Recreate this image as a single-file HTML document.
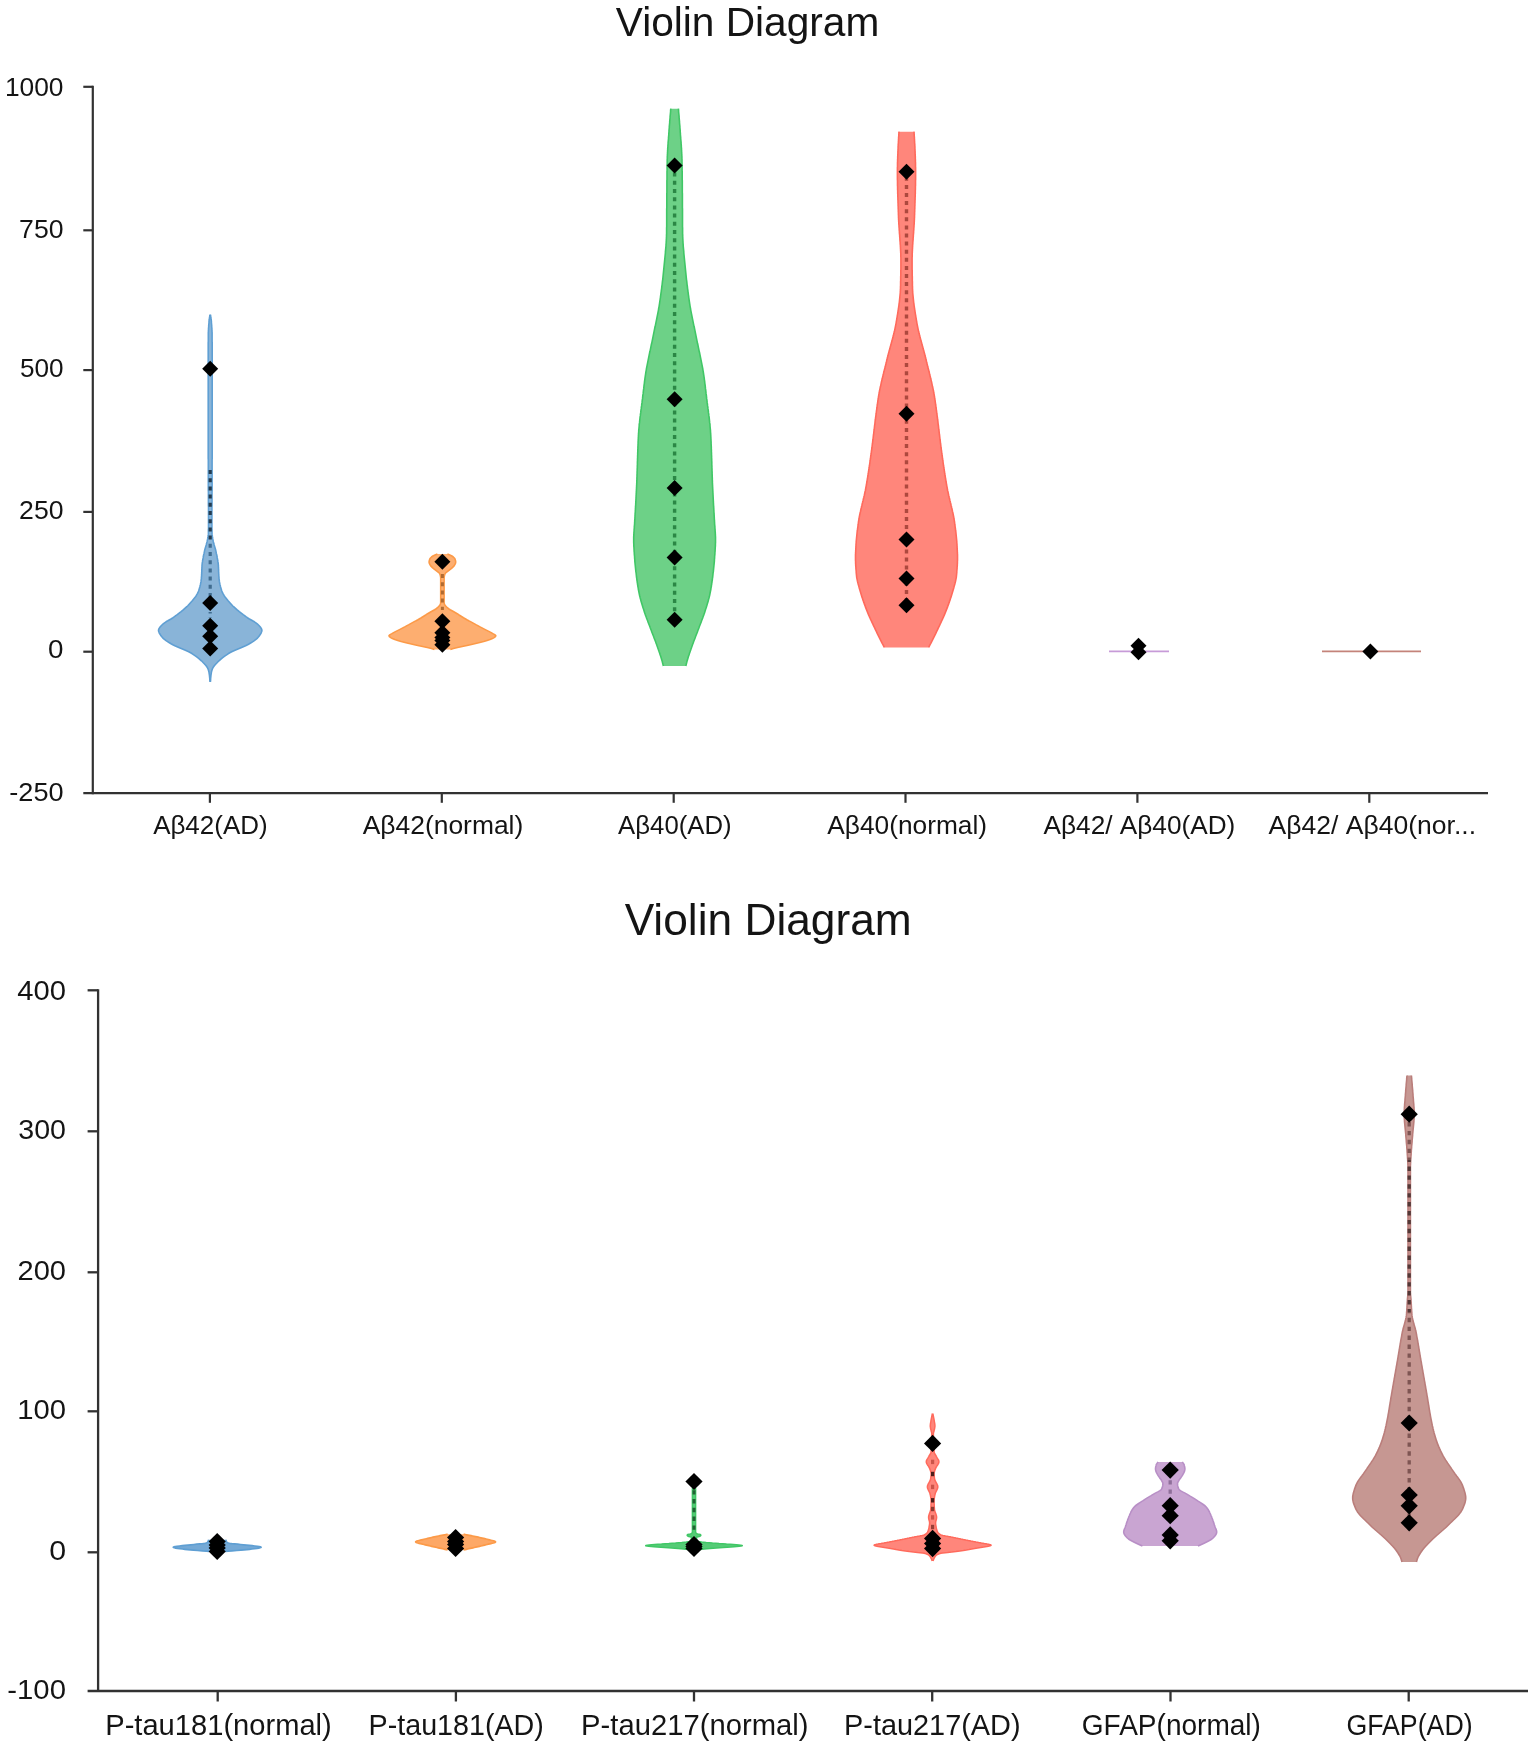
<!DOCTYPE html>
<html><head><meta charset="utf-8"><title>Violin Diagram</title>
<style>
html,body{margin:0;padding:0;background:#fff;}
svg{display:block;font-family:'Liberation Sans', sans-serif;filter:blur(0.45px);}
</style></head><body>
<svg width="1535" height="1745" viewBox="0 0 1535 1745">
<rect width="1535" height="1745" fill="#fff"/>
<path d="M92.8,85.8 V794.2" stroke="#323232" stroke-width="2.2" fill="none"/>
<path d="M83.3,793.2 H1488" stroke="#323232" stroke-width="2.2" fill="none"/>
<path d="M83.3,86.8 H92.8" stroke="#323232" stroke-width="2.2"/>
<path d="M83.3,230.3 H92.8" stroke="#323232" stroke-width="2.2"/>
<path d="M83.3,370.1 H92.8" stroke="#323232" stroke-width="2.2"/>
<path d="M83.3,511.9 H92.8" stroke="#323232" stroke-width="2.2"/>
<path d="M83.3,651.7 H92.8" stroke="#323232" stroke-width="2.2"/>
<text transform="translate(63.50,95.89999999999999) scale(1.0137,1)" font-size="26" text-anchor="end" fill="#141414">1000</text>
<text transform="translate(63.50,237.5) scale(1.0244,1)" font-size="26" text-anchor="end" fill="#141414">750</text>
<text transform="translate(63.50,377.2) scale(1.0061,1)" font-size="26" text-anchor="end" fill="#141414">500</text>
<text transform="translate(63.50,518.6999999999999) scale(1.0244,1)" font-size="26" text-anchor="end" fill="#141414">250</text>
<text transform="translate(63.42,658.3) scale(1.0682,1)" font-size="26" text-anchor="end" fill="#141414">0</text>
<text transform="translate(63.60,801.0) scale(1.0440,1)" font-size="26" text-anchor="end" fill="#141414">-250</text>
<path d="M209.9,793.2 V802.8" stroke="#323232" stroke-width="2.2"/>
<path d="M441.8,793.2 V802.8" stroke="#323232" stroke-width="2.2"/>
<path d="M673.7,793.2 V802.8" stroke="#323232" stroke-width="2.2"/>
<path d="M905.5,793.2 V802.8" stroke="#323232" stroke-width="2.2"/>
<path d="M1137.4,793.2 V802.8" stroke="#323232" stroke-width="2.2"/>
<path d="M1369.3,793.2 V802.8" stroke="#323232" stroke-width="2.2"/>
<text transform="translate(210.35,833.8) scale(0.9991,1)" font-size="26" text-anchor="middle" fill="#141414">Aβ42(AD)</text>
<text transform="translate(443.00,833.8) scale(1.0166,1)" font-size="26" text-anchor="middle" fill="#141414">Aβ42(normal)</text>
<text transform="translate(674.85,833.8) scale(0.9903,1)" font-size="26" text-anchor="middle" fill="#141414">Aβ40(AD)</text>
<text transform="translate(907.15,833.8) scale(1.0118,1)" font-size="26" text-anchor="middle" fill="#141414">Aβ40(normal)</text>
<text transform="translate(1139.45,833.8) scale(1.0082,1)" font-size="26" text-anchor="middle" fill="#141414">Aβ42/ Aβ40(AD)</text>
<text transform="translate(1372.25,833.8) scale(1.0207,1)" font-size="26" text-anchor="middle" fill="#141414">Aβ42/ Aβ40(nor...</text>
<text transform="translate(747.52,35.7) scale(0.9841,1)" font-size="41.3" text-anchor="middle" fill="#141414">Violin Diagram</text>
<path d="M210.4,314.5 210.5,315.5 210.7,316.5 210.8,317.5 211.0,318.5 211.1,319.5 211.3,320.5 211.4,321.5 211.4,322.5 211.5,323.5 211.6,324.5 211.7,325.5 211.7,326.5 211.8,327.5 211.9,328.5 211.9,329.5 212.0,330.5 212.0,331.5 212.1,332.5 212.1,333.5 212.1,334.5 212.1,335.5 212.1,336.5 212.1,337.5 212.1,338.5 212.1,339.5 212.1,340.5 212.1,341.5 212.2,342.5 212.2,343.5 212.2,344.5 212.2,345.5 212.2,346.5 212.2,347.5 212.2,348.5 212.2,349.5 212.2,350.5 212.2,351.5 212.2,352.5 212.2,353.5 212.2,354.5 212.2,355.5 212.2,356.5 212.2,357.5 212.2,358.5 212.2,359.5 212.2,360.5 212.2,361.5 212.2,362.5 212.2,363.5 212.2,364.5 212.2,365.5 212.2,366.5 212.2,367.5 212.2,368.5 212.2,369.5 212.2,370.5 212.2,371.5 212.2,372.5 212.2,373.5 212.2,374.5 212.2,375.5 212.2,376.6 212.2,377.6 212.2,378.6 212.2,379.6 212.2,380.6 212.2,381.6 212.2,382.6 212.2,383.6 212.2,384.6 212.2,385.6 212.2,386.6 212.2,387.6 212.2,388.6 212.2,389.6 212.2,390.6 212.2,391.6 212.2,392.6 212.2,393.6 212.2,394.6 212.2,395.6 212.2,396.6 212.2,397.6 212.2,398.6 212.2,399.6 212.2,400.6 212.2,401.6 212.2,402.6 212.2,403.6 212.2,404.6 212.2,405.6 212.2,406.6 212.2,407.6 212.2,408.6 212.2,409.6 212.2,410.6 212.2,411.6 212.2,412.6 212.2,413.6 212.2,414.6 212.2,415.6 212.2,416.6 212.2,417.6 212.2,418.6 212.2,419.6 212.2,420.6 212.2,421.6 212.2,422.6 212.2,423.6 212.2,424.6 212.2,425.6 212.2,426.6 212.2,427.6 212.2,428.6 212.2,429.6 212.2,430.6 212.2,431.6 212.2,432.6 212.2,433.6 212.2,434.6 212.2,435.6 212.2,436.6 212.2,437.6 212.2,438.6 212.2,439.6 212.2,440.6 212.2,441.6 212.2,442.6 212.2,443.6 212.2,444.6 212.2,445.6 212.2,446.6 212.2,447.6 212.2,448.6 212.2,449.6 212.2,450.6 212.2,451.6 212.2,452.6 212.2,453.6 212.2,454.6 212.2,455.6 212.2,456.6 212.2,457.6 212.2,458.6 212.1,459.6 212.1,460.6 212.1,461.6 212.1,462.6 212.1,463.6 212.1,464.6 212.1,465.6 212.1,466.6 212.1,467.6 212.1,468.6 212.1,469.6 212.1,470.6 212.1,471.6 212.1,472.6 212.1,473.6 212.1,474.6 212.1,475.6 212.1,476.6 212.1,477.6 212.1,478.6 212.1,479.6 212.1,480.6 212.1,481.6 212.1,482.6 212.1,483.6 212.1,484.6 212.1,485.6 212.1,486.6 212.1,487.6 212.1,488.6 212.1,489.6 212.1,490.6 212.0,491.6 212.0,492.6 212.0,493.6 212.0,494.6 212.0,495.6 212.0,496.6 212.0,497.6 212.0,498.7 212.0,499.7 212.0,500.7 212.0,501.7 212.0,502.7 212.0,503.7 212.0,504.7 212.0,505.7 211.9,506.7 211.9,507.7 211.9,508.7 211.9,509.7 211.9,510.7 211.9,511.7 211.9,512.7 211.9,513.7 211.9,514.7 211.9,515.7 211.9,516.7 211.9,517.7 211.9,518.7 211.9,519.7 211.9,520.7 211.9,521.7 211.9,522.7 211.9,523.7 211.9,524.7 211.9,525.7 211.9,526.7 211.9,527.7 211.9,528.7 212.0,529.7 212.0,530.7 212.0,531.7 212.0,532.7 212.0,533.7 212.1,534.7 212.3,535.7 212.4,536.7 212.6,537.7 212.7,538.7 212.9,539.7 213.1,540.7 213.3,541.7 213.6,542.7 213.9,543.7 214.1,544.7 214.4,545.7 214.7,546.7 215.0,547.7 215.3,548.7 215.6,549.7 215.8,550.7 216.0,551.7 216.2,552.7 216.4,553.7 216.7,554.7 216.9,555.7 217.1,556.7 217.2,557.7 217.4,558.7 217.6,559.7 217.8,560.7 217.9,561.7 218.1,562.7 218.2,563.7 218.3,564.7 218.4,565.7 218.4,566.7 218.5,567.7 218.5,568.7 218.6,569.7 218.6,570.7 218.6,571.7 218.7,572.7 218.7,573.7 218.8,574.7 218.8,575.7 218.9,576.7 219.0,577.7 219.0,578.7 219.2,579.7 219.3,580.7 219.4,581.7 219.6,582.7 219.8,583.7 220.0,584.7 220.3,585.7 220.5,586.7 220.8,587.7 221.1,588.7 221.4,589.7 221.7,590.7 222.1,591.7 222.5,592.7 223.0,593.7 223.6,594.7 224.2,595.7 224.9,596.7 225.7,597.7 226.5,598.7 227.3,599.7 228.1,600.7 229.0,601.7 229.9,602.7 230.8,603.7 231.7,604.7 232.6,605.7 233.6,606.7 234.7,607.7 235.8,608.7 236.9,609.7 238.1,610.7 239.3,611.7 240.6,612.7 241.9,613.7 243.2,614.7 244.6,615.7 245.9,616.7 247.4,617.7 249.0,618.7 250.8,619.7 252.6,620.8 254.4,621.8 255.9,622.8 257.2,623.8 258.2,624.8 259.2,625.8 260.1,626.8 260.9,627.8 261.5,628.8 261.8,629.8 261.9,630.8 261.6,631.8 261.2,632.8 260.7,633.8 260.0,634.8 259.4,635.8 258.6,636.8 257.7,637.8 256.6,638.8 255.3,639.8 254.0,640.8 252.5,641.8 251.0,642.8 249.4,643.8 247.6,644.8 245.6,645.8 243.3,646.8 241.0,647.8 238.6,648.8 236.2,649.8 233.9,650.8 231.7,651.8 229.8,652.8 228.1,653.8 226.6,654.8 225.1,655.8 223.7,656.8 222.4,657.8 221.2,658.8 220.1,659.8 219.0,660.8 218.0,661.8 217.1,662.8 216.1,663.8 215.2,664.8 214.3,665.8 213.6,666.8 212.9,667.8 212.4,668.8 212.1,669.8 211.8,670.8 211.5,671.8 211.3,672.8 211.2,673.8 211.0,674.8 210.9,675.8 210.8,676.8 210.7,677.8 210.6,678.8 210.6,679.8 210.5,680.8 210.4,681.8 L210.0,681.8 209.9,680.8 209.8,679.8 209.8,678.8 209.7,677.8 209.6,676.8 209.5,675.8 209.4,674.8 209.2,673.8 209.1,672.8 208.9,671.8 208.6,670.8 208.3,669.8 208.0,668.8 207.5,667.8 206.8,666.8 206.1,665.8 205.2,664.8 204.3,663.8 203.3,662.8 202.4,661.8 201.4,660.8 200.3,659.8 199.2,658.8 198.0,657.8 196.7,656.8 195.3,655.8 193.8,654.8 192.3,653.8 190.6,652.8 188.7,651.8 186.5,650.8 184.2,649.8 181.8,648.8 179.4,647.8 177.1,646.8 174.8,645.8 172.8,644.8 171.0,643.8 169.4,642.8 167.9,641.8 166.4,640.8 165.1,639.8 163.8,638.8 162.7,637.8 161.8,636.8 161.0,635.8 160.4,634.8 159.7,633.8 159.2,632.8 158.8,631.8 158.5,630.8 158.6,629.8 158.9,628.8 159.5,627.8 160.3,626.8 161.2,625.8 162.2,624.8 163.2,623.8 164.5,622.8 166.0,621.8 167.8,620.8 169.6,619.7 171.4,618.7 173.0,617.7 174.5,616.7 175.8,615.7 177.2,614.7 178.5,613.7 179.8,612.7 181.1,611.7 182.3,610.7 183.5,609.7 184.6,608.7 185.7,607.7 186.8,606.7 187.8,605.7 188.7,604.7 189.6,603.7 190.5,602.7 191.4,601.7 192.3,600.7 193.1,599.7 193.9,598.7 194.7,597.7 195.5,596.7 196.2,595.7 196.8,594.7 197.4,593.7 197.9,592.7 198.3,591.7 198.7,590.7 199.0,589.7 199.3,588.7 199.6,587.7 199.9,586.7 200.1,585.7 200.4,584.7 200.6,583.7 200.8,582.7 201.0,581.7 201.1,580.7 201.2,579.7 201.4,578.7 201.4,577.7 201.5,576.7 201.6,575.7 201.6,574.7 201.7,573.7 201.7,572.7 201.8,571.7 201.8,570.7 201.8,569.7 201.9,568.7 201.9,567.7 202.0,566.7 202.0,565.7 202.1,564.7 202.2,563.7 202.3,562.7 202.5,561.7 202.6,560.7 202.8,559.7 203.0,558.7 203.2,557.7 203.3,556.7 203.5,555.7 203.7,554.7 204.0,553.7 204.2,552.7 204.4,551.7 204.6,550.7 204.8,549.7 205.1,548.7 205.4,547.7 205.7,546.7 206.0,545.7 206.3,544.7 206.5,543.7 206.8,542.7 207.1,541.7 207.3,540.7 207.5,539.7 207.7,538.7 207.8,537.7 208.0,536.7 208.1,535.7 208.3,534.7 208.4,533.7 208.4,532.7 208.4,531.7 208.4,530.7 208.4,529.7 208.5,528.7 208.5,527.7 208.5,526.7 208.5,525.7 208.5,524.7 208.5,523.7 208.5,522.7 208.5,521.7 208.5,520.7 208.5,519.7 208.5,518.7 208.5,517.7 208.5,516.7 208.5,515.7 208.5,514.7 208.5,513.7 208.5,512.7 208.5,511.7 208.5,510.7 208.5,509.7 208.5,508.7 208.5,507.7 208.5,506.7 208.4,505.7 208.4,504.7 208.4,503.7 208.4,502.7 208.4,501.7 208.4,500.7 208.4,499.7 208.4,498.7 208.4,497.6 208.4,496.6 208.4,495.6 208.4,494.6 208.4,493.6 208.4,492.6 208.4,491.6 208.3,490.6 208.3,489.6 208.3,488.6 208.3,487.6 208.3,486.6 208.3,485.6 208.3,484.6 208.3,483.6 208.3,482.6 208.3,481.6 208.3,480.6 208.3,479.6 208.3,478.6 208.3,477.6 208.3,476.6 208.3,475.6 208.3,474.6 208.3,473.6 208.3,472.6 208.3,471.6 208.3,470.6 208.3,469.6 208.3,468.6 208.3,467.6 208.3,466.6 208.3,465.6 208.3,464.6 208.3,463.6 208.3,462.6 208.3,461.6 208.3,460.6 208.3,459.6 208.2,458.6 208.2,457.6 208.2,456.6 208.2,455.6 208.2,454.6 208.2,453.6 208.2,452.6 208.2,451.6 208.2,450.6 208.2,449.6 208.2,448.6 208.2,447.6 208.2,446.6 208.2,445.6 208.2,444.6 208.2,443.6 208.2,442.6 208.2,441.6 208.2,440.6 208.2,439.6 208.2,438.6 208.2,437.6 208.2,436.6 208.2,435.6 208.2,434.6 208.2,433.6 208.2,432.6 208.2,431.6 208.2,430.6 208.2,429.6 208.2,428.6 208.2,427.6 208.2,426.6 208.2,425.6 208.2,424.6 208.2,423.6 208.2,422.6 208.2,421.6 208.2,420.6 208.2,419.6 208.2,418.6 208.2,417.6 208.2,416.6 208.2,415.6 208.2,414.6 208.2,413.6 208.2,412.6 208.2,411.6 208.2,410.6 208.2,409.6 208.2,408.6 208.2,407.6 208.2,406.6 208.2,405.6 208.2,404.6 208.2,403.6 208.2,402.6 208.2,401.6 208.2,400.6 208.2,399.6 208.2,398.6 208.2,397.6 208.2,396.6 208.2,395.6 208.2,394.6 208.2,393.6 208.2,392.6 208.2,391.6 208.2,390.6 208.2,389.6 208.2,388.6 208.2,387.6 208.2,386.6 208.2,385.6 208.2,384.6 208.2,383.6 208.2,382.6 208.2,381.6 208.2,380.6 208.2,379.6 208.2,378.6 208.2,377.6 208.2,376.6 208.2,375.5 208.2,374.5 208.2,373.5 208.2,372.5 208.2,371.5 208.2,370.5 208.2,369.5 208.2,368.5 208.2,367.5 208.2,366.5 208.2,365.5 208.2,364.5 208.2,363.5 208.2,362.5 208.2,361.5 208.2,360.5 208.2,359.5 208.2,358.5 208.2,357.5 208.2,356.5 208.2,355.5 208.2,354.5 208.2,353.5 208.2,352.5 208.2,351.5 208.2,350.5 208.2,349.5 208.2,348.5 208.2,347.5 208.2,346.5 208.2,345.5 208.2,344.5 208.2,343.5 208.2,342.5 208.3,341.5 208.3,340.5 208.3,339.5 208.3,338.5 208.3,337.5 208.3,336.5 208.3,335.5 208.3,334.5 208.3,333.5 208.3,332.5 208.4,331.5 208.4,330.5 208.5,329.5 208.5,328.5 208.6,327.5 208.7,326.5 208.7,325.5 208.8,324.5 208.9,323.5 209.0,322.5 209.0,321.5 209.1,320.5 209.3,319.5 209.4,318.5 209.6,317.5 209.7,316.5 209.9,315.5 210.0,314.5Z" fill="#89b4d8"/>
<path d="M210.4,314.5 210.5,315.5 210.7,316.5 210.8,317.5 211.0,318.5 211.1,319.5 211.3,320.5 211.4,321.5 211.4,322.5 211.5,323.5 211.6,324.5 211.7,325.5 211.7,326.5 211.8,327.5 211.9,328.5 211.9,329.5 212.0,330.5 212.0,331.5 212.1,332.5 212.1,333.5 212.1,334.5 212.1,335.5 212.1,336.5 212.1,337.5 212.1,338.5 212.1,339.5 212.1,340.5 212.1,341.5 212.2,342.5 212.2,343.5 212.2,344.5 212.2,345.5 212.2,346.5 212.2,347.5 212.2,348.5 212.2,349.5 212.2,350.5 212.2,351.5 212.2,352.5 212.2,353.5 212.2,354.5 212.2,355.5 212.2,356.5 212.2,357.5 212.2,358.5 212.2,359.5 212.2,360.5 212.2,361.5 212.2,362.5 212.2,363.5 212.2,364.5 212.2,365.5 212.2,366.5 212.2,367.5 212.2,368.5 212.2,369.5 212.2,370.5 212.2,371.5 212.2,372.5 212.2,373.5 212.2,374.5 212.2,375.5 212.2,376.6 212.2,377.6 212.2,378.6 212.2,379.6 212.2,380.6 212.2,381.6 212.2,382.6 212.2,383.6 212.2,384.6 212.2,385.6 212.2,386.6 212.2,387.6 212.2,388.6 212.2,389.6 212.2,390.6 212.2,391.6 212.2,392.6 212.2,393.6 212.2,394.6 212.2,395.6 212.2,396.6 212.2,397.6 212.2,398.6 212.2,399.6 212.2,400.6 212.2,401.6 212.2,402.6 212.2,403.6 212.2,404.6 212.2,405.6 212.2,406.6 212.2,407.6 212.2,408.6 212.2,409.6 212.2,410.6 212.2,411.6 212.2,412.6 212.2,413.6 212.2,414.6 212.2,415.6 212.2,416.6 212.2,417.6 212.2,418.6 212.2,419.6 212.2,420.6 212.2,421.6 212.2,422.6 212.2,423.6 212.2,424.6 212.2,425.6 212.2,426.6 212.2,427.6 212.2,428.6 212.2,429.6 212.2,430.6 212.2,431.6 212.2,432.6 212.2,433.6 212.2,434.6 212.2,435.6 212.2,436.6 212.2,437.6 212.2,438.6 212.2,439.6 212.2,440.6 212.2,441.6 212.2,442.6 212.2,443.6 212.2,444.6 212.2,445.6 212.2,446.6 212.2,447.6 212.2,448.6 212.2,449.6 212.2,450.6 212.2,451.6 212.2,452.6 212.2,453.6 212.2,454.6 212.2,455.6 212.2,456.6 212.2,457.6 212.2,458.6 212.1,459.6 212.1,460.6 212.1,461.6 212.1,462.6 212.1,463.6 212.1,464.6 212.1,465.6 212.1,466.6 212.1,467.6 212.1,468.6 212.1,469.6 212.1,470.6 212.1,471.6 212.1,472.6 212.1,473.6 212.1,474.6 212.1,475.6 212.1,476.6 212.1,477.6 212.1,478.6 212.1,479.6 212.1,480.6 212.1,481.6 212.1,482.6 212.1,483.6 212.1,484.6 212.1,485.6 212.1,486.6 212.1,487.6 212.1,488.6 212.1,489.6 212.1,490.6 212.0,491.6 212.0,492.6 212.0,493.6 212.0,494.6 212.0,495.6 212.0,496.6 212.0,497.6 212.0,498.7 212.0,499.7 212.0,500.7 212.0,501.7 212.0,502.7 212.0,503.7 212.0,504.7 212.0,505.7 211.9,506.7 211.9,507.7 211.9,508.7 211.9,509.7 211.9,510.7 211.9,511.7 211.9,512.7 211.9,513.7 211.9,514.7 211.9,515.7 211.9,516.7 211.9,517.7 211.9,518.7 211.9,519.7 211.9,520.7 211.9,521.7 211.9,522.7 211.9,523.7 211.9,524.7 211.9,525.7 211.9,526.7 211.9,527.7 211.9,528.7 212.0,529.7 212.0,530.7 212.0,531.7 212.0,532.7 212.0,533.7 212.1,534.7 212.3,535.7 212.4,536.7 212.6,537.7 212.7,538.7 212.9,539.7 213.1,540.7 213.3,541.7 213.6,542.7 213.9,543.7 214.1,544.7 214.4,545.7 214.7,546.7 215.0,547.7 215.3,548.7 215.6,549.7 215.8,550.7 216.0,551.7 216.2,552.7 216.4,553.7 216.7,554.7 216.9,555.7 217.1,556.7 217.2,557.7 217.4,558.7 217.6,559.7 217.8,560.7 217.9,561.7 218.1,562.7 218.2,563.7 218.3,564.7 218.4,565.7 218.4,566.7 218.5,567.7 218.5,568.7 218.6,569.7 218.6,570.7 218.6,571.7 218.7,572.7 218.7,573.7 218.8,574.7 218.8,575.7 218.9,576.7 219.0,577.7 219.0,578.7 219.2,579.7 219.3,580.7 219.4,581.7 219.6,582.7 219.8,583.7 220.0,584.7 220.3,585.7 220.5,586.7 220.8,587.7 221.1,588.7 221.4,589.7 221.7,590.7 222.1,591.7 222.5,592.7 223.0,593.7 223.6,594.7 224.2,595.7 224.9,596.7 225.7,597.7 226.5,598.7 227.3,599.7 228.1,600.7 229.0,601.7 229.9,602.7 230.8,603.7 231.7,604.7 232.6,605.7 233.6,606.7 234.7,607.7 235.8,608.7 236.9,609.7 238.1,610.7 239.3,611.7 240.6,612.7 241.9,613.7 243.2,614.7 244.6,615.7 245.9,616.7 247.4,617.7 249.0,618.7 250.8,619.7 252.6,620.8 254.4,621.8 255.9,622.8 257.2,623.8 258.2,624.8 259.2,625.8 260.1,626.8 260.9,627.8 261.5,628.8 261.8,629.8 261.9,630.8 261.6,631.8 261.2,632.8 260.7,633.8 260.0,634.8 259.4,635.8 258.6,636.8 257.7,637.8 256.6,638.8 255.3,639.8 254.0,640.8 252.5,641.8 251.0,642.8 249.4,643.8 247.6,644.8 245.6,645.8 243.3,646.8 241.0,647.8 238.6,648.8 236.2,649.8 233.9,650.8 231.7,651.8 229.8,652.8 228.1,653.8 226.6,654.8 225.1,655.8 223.7,656.8 222.4,657.8 221.2,658.8 220.1,659.8 219.0,660.8 218.0,661.8 217.1,662.8 216.1,663.8 215.2,664.8 214.3,665.8 213.6,666.8 212.9,667.8 212.4,668.8 212.1,669.8 211.8,670.8 211.5,671.8 211.3,672.8 211.2,673.8 211.0,674.8 210.9,675.8 210.8,676.8 210.7,677.8 210.6,678.8 210.6,679.8 210.5,680.8 210.4,681.8 M210.0,681.8 209.9,680.8 209.8,679.8 209.8,678.8 209.7,677.8 209.6,676.8 209.5,675.8 209.4,674.8 209.2,673.8 209.1,672.8 208.9,671.8 208.6,670.8 208.3,669.8 208.0,668.8 207.5,667.8 206.8,666.8 206.1,665.8 205.2,664.8 204.3,663.8 203.3,662.8 202.4,661.8 201.4,660.8 200.3,659.8 199.2,658.8 198.0,657.8 196.7,656.8 195.3,655.8 193.8,654.8 192.3,653.8 190.6,652.8 188.7,651.8 186.5,650.8 184.2,649.8 181.8,648.8 179.4,647.8 177.1,646.8 174.8,645.8 172.8,644.8 171.0,643.8 169.4,642.8 167.9,641.8 166.4,640.8 165.1,639.8 163.8,638.8 162.7,637.8 161.8,636.8 161.0,635.8 160.4,634.8 159.7,633.8 159.2,632.8 158.8,631.8 158.5,630.8 158.6,629.8 158.9,628.8 159.5,627.8 160.3,626.8 161.2,625.8 162.2,624.8 163.2,623.8 164.5,622.8 166.0,621.8 167.8,620.8 169.6,619.7 171.4,618.7 173.0,617.7 174.5,616.7 175.8,615.7 177.2,614.7 178.5,613.7 179.8,612.7 181.1,611.7 182.3,610.7 183.5,609.7 184.6,608.7 185.7,607.7 186.8,606.7 187.8,605.7 188.7,604.7 189.6,603.7 190.5,602.7 191.4,601.7 192.3,600.7 193.1,599.7 193.9,598.7 194.7,597.7 195.5,596.7 196.2,595.7 196.8,594.7 197.4,593.7 197.9,592.7 198.3,591.7 198.7,590.7 199.0,589.7 199.3,588.7 199.6,587.7 199.9,586.7 200.1,585.7 200.4,584.7 200.6,583.7 200.8,582.7 201.0,581.7 201.1,580.7 201.2,579.7 201.4,578.7 201.4,577.7 201.5,576.7 201.6,575.7 201.6,574.7 201.7,573.7 201.7,572.7 201.8,571.7 201.8,570.7 201.8,569.7 201.9,568.7 201.9,567.7 202.0,566.7 202.0,565.7 202.1,564.7 202.2,563.7 202.3,562.7 202.5,561.7 202.6,560.7 202.8,559.7 203.0,558.7 203.2,557.7 203.3,556.7 203.5,555.7 203.7,554.7 204.0,553.7 204.2,552.7 204.4,551.7 204.6,550.7 204.8,549.7 205.1,548.7 205.4,547.7 205.7,546.7 206.0,545.7 206.3,544.7 206.5,543.7 206.8,542.7 207.1,541.7 207.3,540.7 207.5,539.7 207.7,538.7 207.8,537.7 208.0,536.7 208.1,535.7 208.3,534.7 208.4,533.7 208.4,532.7 208.4,531.7 208.4,530.7 208.4,529.7 208.5,528.7 208.5,527.7 208.5,526.7 208.5,525.7 208.5,524.7 208.5,523.7 208.5,522.7 208.5,521.7 208.5,520.7 208.5,519.7 208.5,518.7 208.5,517.7 208.5,516.7 208.5,515.7 208.5,514.7 208.5,513.7 208.5,512.7 208.5,511.7 208.5,510.7 208.5,509.7 208.5,508.7 208.5,507.7 208.5,506.7 208.4,505.7 208.4,504.7 208.4,503.7 208.4,502.7 208.4,501.7 208.4,500.7 208.4,499.7 208.4,498.7 208.4,497.6 208.4,496.6 208.4,495.6 208.4,494.6 208.4,493.6 208.4,492.6 208.4,491.6 208.3,490.6 208.3,489.6 208.3,488.6 208.3,487.6 208.3,486.6 208.3,485.6 208.3,484.6 208.3,483.6 208.3,482.6 208.3,481.6 208.3,480.6 208.3,479.6 208.3,478.6 208.3,477.6 208.3,476.6 208.3,475.6 208.3,474.6 208.3,473.6 208.3,472.6 208.3,471.6 208.3,470.6 208.3,469.6 208.3,468.6 208.3,467.6 208.3,466.6 208.3,465.6 208.3,464.6 208.3,463.6 208.3,462.6 208.3,461.6 208.3,460.6 208.3,459.6 208.2,458.6 208.2,457.6 208.2,456.6 208.2,455.6 208.2,454.6 208.2,453.6 208.2,452.6 208.2,451.6 208.2,450.6 208.2,449.6 208.2,448.6 208.2,447.6 208.2,446.6 208.2,445.6 208.2,444.6 208.2,443.6 208.2,442.6 208.2,441.6 208.2,440.6 208.2,439.6 208.2,438.6 208.2,437.6 208.2,436.6 208.2,435.6 208.2,434.6 208.2,433.6 208.2,432.6 208.2,431.6 208.2,430.6 208.2,429.6 208.2,428.6 208.2,427.6 208.2,426.6 208.2,425.6 208.2,424.6 208.2,423.6 208.2,422.6 208.2,421.6 208.2,420.6 208.2,419.6 208.2,418.6 208.2,417.6 208.2,416.6 208.2,415.6 208.2,414.6 208.2,413.6 208.2,412.6 208.2,411.6 208.2,410.6 208.2,409.6 208.2,408.6 208.2,407.6 208.2,406.6 208.2,405.6 208.2,404.6 208.2,403.6 208.2,402.6 208.2,401.6 208.2,400.6 208.2,399.6 208.2,398.6 208.2,397.6 208.2,396.6 208.2,395.6 208.2,394.6 208.2,393.6 208.2,392.6 208.2,391.6 208.2,390.6 208.2,389.6 208.2,388.6 208.2,387.6 208.2,386.6 208.2,385.6 208.2,384.6 208.2,383.6 208.2,382.6 208.2,381.6 208.2,380.6 208.2,379.6 208.2,378.6 208.2,377.6 208.2,376.6 208.2,375.5 208.2,374.5 208.2,373.5 208.2,372.5 208.2,371.5 208.2,370.5 208.2,369.5 208.2,368.5 208.2,367.5 208.2,366.5 208.2,365.5 208.2,364.5 208.2,363.5 208.2,362.5 208.2,361.5 208.2,360.5 208.2,359.5 208.2,358.5 208.2,357.5 208.2,356.5 208.2,355.5 208.2,354.5 208.2,353.5 208.2,352.5 208.2,351.5 208.2,350.5 208.2,349.5 208.2,348.5 208.2,347.5 208.2,346.5 208.2,345.5 208.2,344.5 208.2,343.5 208.2,342.5 208.3,341.5 208.3,340.5 208.3,339.5 208.3,338.5 208.3,337.5 208.3,336.5 208.3,335.5 208.3,334.5 208.3,333.5 208.3,332.5 208.4,331.5 208.4,330.5 208.5,329.5 208.5,328.5 208.6,327.5 208.7,326.5 208.7,325.5 208.8,324.5 208.9,323.5 209.0,322.5 209.0,321.5 209.1,320.5 209.3,319.5 209.4,318.5 209.6,317.5 209.7,316.5 209.9,315.5 210.0,314.5" fill="none" stroke="#5f9fd3" stroke-width="1.6" stroke-linejoin="round"/>
<line x1="210.2" y1="470.0" x2="210.2" y2="540" stroke="#243c50" stroke-width="3.2" stroke-dasharray="4.0 4.20" stroke-dashoffset="0.00"/>
<line x1="210.2" y1="540" x2="210.2" y2="598" stroke="#406c8f" stroke-width="3.2" stroke-dasharray="4.0 4.20" stroke-dashoffset="4.40"/>
<line x1="210.2" y1="612" x2="210.2" y2="618" stroke="#406c8f" stroke-width="3.2" stroke-dasharray="4.0 4.20" stroke-dashoffset="2.60"/>
<path d="M210.2,360.8 L218.2,368.8 L210.2,376.8 L202.2,368.8Z" fill="#000"/>
<path d="M210.2,594.9 L218.2,602.9 L210.2,610.9 L202.2,602.9Z" fill="#000"/>
<path d="M210.2,617.7 L218.2,625.7 L210.2,633.7 L202.2,625.7Z" fill="#000"/>
<path d="M210.2,628.2 L218.2,636.2 L210.2,644.2 L202.2,636.2Z" fill="#000"/>
<path d="M210.2,640.5 L218.2,648.5 L210.2,656.5 L202.2,648.5Z" fill="#000"/>
<path d="M447.4,554.0 449.8,555.0 451.9,556.0 453.3,557.0 454.3,558.0 455.0,559.0 455.3,560.0 455.6,561.0 455.7,562.0 455.6,563.0 455.2,563.9 454.7,564.9 454.1,565.9 453.1,566.9 452.1,567.9 450.9,568.9 449.6,569.9 448.3,570.9 447.0,571.9 445.7,572.9 445.0,573.9 444.6,574.9 444.4,575.9 444.2,576.9 444.1,577.9 444.1,578.9 444.1,579.9 444.1,580.9 444.1,581.9 444.1,582.8 444.1,583.8 444.1,584.8 444.1,585.8 444.1,586.8 444.1,587.8 444.1,588.8 444.1,589.8 444.1,590.8 444.1,591.8 444.1,592.8 444.1,593.8 444.1,594.8 444.1,595.8 444.1,596.8 444.1,597.8 444.1,598.8 444.1,599.8 444.1,600.8 444.1,601.8 444.1,602.7 444.2,603.7 444.7,604.7 445.5,605.7 446.4,606.7 447.3,607.7 448.6,608.7 450.2,609.7 452.0,610.7 453.8,611.7 455.5,612.7 457.2,613.7 458.7,614.7 460.3,615.7 461.9,616.7 463.5,617.7 465.2,618.7 466.9,619.7 468.7,620.7 470.5,621.6 472.3,622.6 474.1,623.6 475.9,624.6 477.8,625.6 479.6,626.6 481.5,627.6 483.4,628.6 485.3,629.6 487.3,630.6 489.3,631.6 491.2,632.6 492.9,633.6 494.7,634.6 495.8,635.6 495.4,636.6 494.1,637.6 492.4,638.6 490.0,639.6 487.1,640.5 483.7,641.5 479.8,642.5 475.6,643.5 471.4,644.5 467.0,645.5 462.2,646.5 457.5,647.5 453.4,648.5 450.4,649.5 L434.4,649.5 431.4,648.5 427.3,647.5 422.6,646.5 417.8,645.5 413.4,644.5 409.2,643.5 405.0,642.5 401.1,641.5 397.7,640.5 394.8,639.6 392.4,638.6 390.7,637.6 389.4,636.6 389.0,635.6 390.1,634.6 391.9,633.6 393.6,632.6 395.5,631.6 397.5,630.6 399.5,629.6 401.4,628.6 403.3,627.6 405.2,626.6 407.0,625.6 408.9,624.6 410.7,623.6 412.5,622.6 414.3,621.6 416.1,620.7 417.9,619.7 419.6,618.7 421.3,617.7 422.9,616.7 424.5,615.7 426.1,614.7 427.6,613.7 429.3,612.7 431.0,611.7 432.8,610.7 434.6,609.7 436.2,608.7 437.5,607.7 438.4,606.7 439.3,605.7 440.1,604.7 440.6,603.7 440.7,602.7 440.7,601.8 440.7,600.8 440.7,599.8 440.7,598.8 440.7,597.8 440.7,596.8 440.7,595.8 440.7,594.8 440.7,593.8 440.7,592.8 440.7,591.8 440.7,590.8 440.7,589.8 440.7,588.8 440.7,587.8 440.7,586.8 440.7,585.8 440.7,584.8 440.7,583.8 440.7,582.8 440.7,581.9 440.7,580.9 440.7,579.9 440.7,578.9 440.7,577.9 440.6,576.9 440.4,575.9 440.2,574.9 439.8,573.9 439.1,572.9 437.8,571.9 436.5,570.9 435.2,569.9 433.9,568.9 432.7,567.9 431.7,566.9 430.7,565.9 430.1,564.9 429.6,563.9 429.2,563.0 429.1,562.0 429.2,561.0 429.5,560.0 429.8,559.0 430.5,558.0 431.5,557.0 432.9,556.0 435.0,555.0 437.4,554.0Z" fill="#fdae70"/>
<path d="M447.4,554.0 449.8,555.0 451.9,556.0 453.3,557.0 454.3,558.0 455.0,559.0 455.3,560.0 455.6,561.0 455.7,562.0 455.6,563.0 455.2,563.9 454.7,564.9 454.1,565.9 453.1,566.9 452.1,567.9 450.9,568.9 449.6,569.9 448.3,570.9 447.0,571.9 445.7,572.9 445.0,573.9 444.6,574.9 444.4,575.9 444.2,576.9 444.1,577.9 444.1,578.9 444.1,579.9 444.1,580.9 444.1,581.9 444.1,582.8 444.1,583.8 444.1,584.8 444.1,585.8 444.1,586.8 444.1,587.8 444.1,588.8 444.1,589.8 444.1,590.8 444.1,591.8 444.1,592.8 444.1,593.8 444.1,594.8 444.1,595.8 444.1,596.8 444.1,597.8 444.1,598.8 444.1,599.8 444.1,600.8 444.1,601.8 444.1,602.7 444.2,603.7 444.7,604.7 445.5,605.7 446.4,606.7 447.3,607.7 448.6,608.7 450.2,609.7 452.0,610.7 453.8,611.7 455.5,612.7 457.2,613.7 458.7,614.7 460.3,615.7 461.9,616.7 463.5,617.7 465.2,618.7 466.9,619.7 468.7,620.7 470.5,621.6 472.3,622.6 474.1,623.6 475.9,624.6 477.8,625.6 479.6,626.6 481.5,627.6 483.4,628.6 485.3,629.6 487.3,630.6 489.3,631.6 491.2,632.6 492.9,633.6 494.7,634.6 495.8,635.6 495.4,636.6 494.1,637.6 492.4,638.6 490.0,639.6 487.1,640.5 483.7,641.5 479.8,642.5 475.6,643.5 471.4,644.5 467.0,645.5 462.2,646.5 457.5,647.5 453.4,648.5 450.4,649.5 M434.4,649.5 431.4,648.5 427.3,647.5 422.6,646.5 417.8,645.5 413.4,644.5 409.2,643.5 405.0,642.5 401.1,641.5 397.7,640.5 394.8,639.6 392.4,638.6 390.7,637.6 389.4,636.6 389.0,635.6 390.1,634.6 391.9,633.6 393.6,632.6 395.5,631.6 397.5,630.6 399.5,629.6 401.4,628.6 403.3,627.6 405.2,626.6 407.0,625.6 408.9,624.6 410.7,623.6 412.5,622.6 414.3,621.6 416.1,620.7 417.9,619.7 419.6,618.7 421.3,617.7 422.9,616.7 424.5,615.7 426.1,614.7 427.6,613.7 429.3,612.7 431.0,611.7 432.8,610.7 434.6,609.7 436.2,608.7 437.5,607.7 438.4,606.7 439.3,605.7 440.1,604.7 440.6,603.7 440.7,602.7 440.7,601.8 440.7,600.8 440.7,599.8 440.7,598.8 440.7,597.8 440.7,596.8 440.7,595.8 440.7,594.8 440.7,593.8 440.7,592.8 440.7,591.8 440.7,590.8 440.7,589.8 440.7,588.8 440.7,587.8 440.7,586.8 440.7,585.8 440.7,584.8 440.7,583.8 440.7,582.8 440.7,581.9 440.7,580.9 440.7,579.9 440.7,578.9 440.7,577.9 440.6,576.9 440.4,575.9 440.2,574.9 439.8,573.9 439.1,572.9 437.8,571.9 436.5,570.9 435.2,569.9 433.9,568.9 432.7,567.9 431.7,566.9 430.7,565.9 430.1,564.9 429.6,563.9 429.2,563.0 429.1,562.0 429.2,561.0 429.5,560.0 429.8,559.0 430.5,558.0 431.5,557.0 432.9,556.0 435.0,555.0 437.4,554.0" fill="none" stroke="#fc9a48" stroke-width="1.6" stroke-linejoin="round"/>
<line x1="442.4" y1="574" x2="442.4" y2="610" stroke="#b06b32" stroke-width="3.0" stroke-dasharray="4.0 4.20" stroke-dashoffset="0.00"/>
<path d="M442.4,553.8 L450.4,561.8 L442.4,569.8 L434.4,561.8Z" fill="#000"/>
<path d="M442.4,613.2 L450.4,621.2 L442.4,629.2 L434.4,621.2Z" fill="#000"/>
<path d="M442.4,624.7 L450.4,632.7 L442.4,640.7 L434.4,632.7Z" fill="#000"/>
<path d="M442.4,629.4 L450.4,637.4 L442.4,645.4 L434.4,637.4Z" fill="#000"/>
<path d="M442.4,632.5 L450.4,640.5 L442.4,648.5 L434.4,640.5Z" fill="#000"/>
<path d="M442.4,636.7 L450.4,644.7 L442.4,652.7 L434.4,644.7Z" fill="#000"/>
<path d="M678.4,108.7 678.5,109.7 678.6,110.7 678.6,111.7 678.7,112.7 678.8,113.7 678.9,114.7 679.0,115.7 679.1,116.7 679.1,117.7 679.2,118.7 679.3,119.7 679.4,120.7 679.5,121.7 679.5,122.7 679.6,123.7 679.7,124.7 679.8,125.7 679.9,126.7 679.9,127.7 680.0,128.7 680.1,129.7 680.2,130.7 680.2,131.7 680.3,132.7 680.4,133.7 680.4,134.7 680.5,135.7 680.6,136.7 680.7,137.7 680.7,138.7 680.8,139.7 680.9,140.7 681.0,141.7 681.1,142.7 681.1,143.7 681.2,144.7 681.3,145.7 681.3,146.7 681.4,147.7 681.5,148.7 681.5,149.7 681.6,150.7 681.6,151.7 681.7,152.7 681.7,153.7 681.8,154.7 681.8,155.7 681.9,156.7 681.9,157.7 681.9,158.7 682.0,159.7 682.0,160.7 682.0,161.7 682.0,162.7 682.0,163.7 682.1,164.7 682.1,165.7 682.1,166.7 682.1,167.7 682.1,168.7 682.1,169.7 682.1,170.7 682.2,171.7 682.2,172.7 682.2,173.7 682.2,174.7 682.2,175.7 682.2,176.7 682.2,177.7 682.2,178.7 682.2,179.7 682.3,180.7 682.3,181.7 682.3,182.7 682.3,183.7 682.3,184.7 682.3,185.7 682.3,186.7 682.3,187.7 682.3,188.7 682.3,189.7 682.3,190.7 682.3,191.7 682.3,192.7 682.4,193.7 682.4,194.7 682.4,195.7 682.4,196.7 682.4,197.7 682.4,198.7 682.4,199.7 682.4,200.7 682.4,201.8 682.4,202.8 682.4,203.8 682.4,204.8 682.4,205.8 682.4,206.8 682.4,207.8 682.5,208.8 682.5,209.8 682.5,210.8 682.5,211.8 682.5,212.8 682.5,213.8 682.5,214.8 682.5,215.8 682.5,216.8 682.5,217.8 682.5,218.8 682.5,219.8 682.5,220.8 682.5,221.8 682.5,222.8 682.5,223.8 682.5,224.8 682.5,225.8 682.5,226.8 682.6,227.8 682.6,228.8 682.6,229.8 682.6,230.8 682.6,231.8 682.6,232.8 682.6,233.8 682.7,234.8 682.7,235.8 682.7,236.8 682.8,237.8 682.8,238.8 682.9,239.8 682.9,240.8 683.0,241.8 683.0,242.8 683.1,243.8 683.2,244.8 683.2,245.8 683.3,246.8 683.4,247.8 683.5,248.8 683.6,249.8 683.7,250.8 683.8,251.8 683.8,252.8 683.9,253.8 684.0,254.8 684.1,255.8 684.2,256.8 684.3,257.8 684.4,258.8 684.5,259.8 684.6,260.8 684.7,261.8 684.8,262.8 684.9,263.8 685.0,264.8 685.1,265.8 685.2,266.8 685.3,267.8 685.4,268.8 685.5,269.8 685.6,270.8 685.7,271.8 685.8,272.8 685.9,273.8 686.0,274.8 686.1,275.8 686.2,276.8 686.3,277.8 686.4,278.8 686.5,279.8 686.7,280.8 686.8,281.8 686.9,282.8 687.0,283.8 687.1,284.8 687.3,285.8 687.4,286.8 687.5,287.8 687.6,288.8 687.8,289.8 687.9,290.8 688.0,291.8 688.2,292.8 688.3,293.8 688.4,294.8 688.6,295.8 688.7,296.8 688.8,297.8 689.0,298.8 689.1,299.8 689.3,300.8 689.4,301.8 689.6,302.8 689.7,303.8 689.9,304.8 690.0,305.8 690.2,306.8 690.4,307.8 690.6,308.8 690.7,309.8 690.9,310.8 691.1,311.8 691.3,312.8 691.5,313.8 691.7,314.8 691.9,315.8 692.1,316.8 692.3,317.8 692.5,318.8 692.7,319.8 692.9,320.8 693.1,321.8 693.3,322.8 693.5,323.8 693.7,324.8 693.9,325.8 694.1,326.8 694.4,327.8 694.6,328.8 694.8,329.8 695.0,330.8 695.2,331.8 695.4,332.8 695.6,333.8 695.8,334.8 696.0,335.8 696.2,336.8 696.4,337.8 696.6,338.8 696.8,339.8 697.0,340.8 697.2,341.8 697.4,342.8 697.6,343.8 697.9,344.8 698.1,345.8 698.3,346.8 698.5,347.8 698.7,348.8 698.9,349.8 699.1,350.8 699.3,351.8 699.6,352.8 699.8,353.8 700.0,354.8 700.2,355.8 700.4,356.8 700.6,357.8 700.8,358.8 701.0,359.8 701.2,360.8 701.4,361.8 701.6,362.8 701.8,363.8 702.0,364.8 702.2,365.8 702.4,366.8 702.6,367.8 702.8,368.8 702.9,369.8 703.1,370.8 703.3,371.8 703.4,372.8 703.6,373.8 703.7,374.8 703.9,375.8 704.0,376.8 704.2,377.8 704.3,378.8 704.4,379.8 704.6,380.8 704.7,381.8 704.8,382.8 704.9,383.8 705.1,384.8 705.2,385.8 705.3,386.8 705.4,387.9 705.5,388.9 705.7,389.9 705.8,390.9 705.9,391.9 706.0,392.9 706.1,393.9 706.3,394.9 706.4,395.9 706.5,396.9 706.6,397.9 706.7,398.9 706.9,399.9 707.0,400.9 707.1,401.9 707.2,402.9 707.4,403.9 707.5,404.9 707.6,405.9 707.8,406.9 707.9,407.9 708.0,408.9 708.2,409.9 708.3,410.9 708.4,411.9 708.5,412.9 708.7,413.9 708.8,414.9 708.9,415.9 709.1,416.9 709.2,417.9 709.3,418.9 709.4,419.9 709.5,420.9 709.6,421.9 709.7,422.9 709.9,423.9 710.0,424.9 710.0,425.9 710.1,426.9 710.2,427.9 710.3,428.9 710.4,429.9 710.5,430.9 710.5,431.9 710.6,432.9 710.7,433.9 710.7,434.9 710.8,435.9 710.8,436.9 710.9,437.9 710.9,438.9 711.0,439.9 711.0,440.9 711.1,441.9 711.1,442.9 711.1,443.9 711.2,444.9 711.2,445.9 711.3,446.9 711.3,447.9 711.3,448.9 711.4,449.9 711.4,450.9 711.4,451.9 711.5,452.9 711.5,453.9 711.5,454.9 711.6,455.9 711.6,456.9 711.6,457.9 711.7,458.9 711.7,459.9 711.7,460.9 711.8,461.9 711.8,462.9 711.8,463.9 711.8,464.9 711.9,465.9 711.9,466.9 711.9,467.9 712.0,468.9 712.0,469.9 712.0,470.9 712.1,471.9 712.1,472.9 712.1,473.9 712.2,474.9 712.2,475.9 712.2,476.9 712.3,477.9 712.3,478.9 712.3,479.9 712.4,480.9 712.4,481.9 712.4,482.9 712.5,483.9 712.5,484.9 712.6,485.9 712.6,486.9 712.7,487.9 712.7,488.9 712.8,489.9 712.8,490.9 712.9,491.9 712.9,492.9 713.0,493.9 713.0,494.9 713.1,495.9 713.1,496.9 713.2,497.9 713.2,498.9 713.3,499.9 713.3,500.9 713.4,501.9 713.4,502.9 713.5,503.9 713.5,504.9 713.6,505.9 713.7,506.9 713.7,507.9 713.8,508.9 713.8,509.9 713.9,510.9 713.9,511.9 714.0,512.9 714.1,513.9 714.1,514.9 714.2,515.9 714.2,516.9 714.3,517.9 714.3,518.9 714.4,519.9 714.5,520.9 714.5,521.9 714.6,522.9 714.6,523.9 714.7,524.9 714.8,525.9 714.9,526.9 714.9,527.9 715.0,528.9 715.1,529.9 715.1,530.9 715.2,531.9 715.3,532.9 715.3,533.9 715.4,534.9 715.4,535.9 715.5,536.9 715.5,537.9 715.5,538.9 715.5,539.9 715.5,540.9 715.5,541.9 715.5,542.9 715.4,543.9 715.4,544.9 715.4,545.9 715.3,546.9 715.2,547.9 715.2,548.9 715.1,549.9 715.1,550.9 715.0,551.9 714.9,552.9 714.9,553.9 714.8,554.9 714.7,555.9 714.6,556.9 714.6,557.9 714.5,558.9 714.4,559.9 714.4,560.9 714.3,561.9 714.2,562.9 714.1,563.9 714.0,564.9 713.9,565.9 713.8,566.9 713.7,567.9 713.6,568.9 713.5,569.9 713.4,570.9 713.3,571.9 713.1,572.9 713.0,574.0 712.9,575.0 712.8,576.0 712.7,577.0 712.5,578.0 712.4,579.0 712.3,580.0 712.1,581.0 712.0,582.0 711.8,583.0 711.7,584.0 711.5,585.0 711.4,586.0 711.2,587.0 711.0,588.0 710.9,589.0 710.7,590.0 710.5,591.0 710.3,592.0 710.1,593.0 709.9,594.0 709.7,595.0 709.5,596.0 709.2,597.0 709.0,598.0 708.7,599.0 708.4,600.0 708.2,601.0 707.9,602.0 707.6,603.0 707.3,604.0 707.0,605.0 706.7,606.0 706.4,607.0 706.1,608.0 705.7,609.0 705.4,610.0 705.1,611.0 704.8,612.0 704.5,613.0 704.1,614.0 703.8,615.0 703.4,616.0 703.0,617.0 702.7,618.0 702.3,619.0 701.9,620.0 701.5,621.0 701.2,622.0 700.8,623.0 700.4,624.0 700.0,625.0 699.6,626.0 699.2,627.0 698.9,628.0 698.5,629.0 698.1,630.0 697.7,631.0 697.4,632.0 697.0,633.0 696.6,634.0 696.2,635.0 695.8,636.0 695.4,637.0 695.1,638.0 694.7,639.0 694.3,640.0 693.9,641.0 693.5,642.0 693.2,643.0 692.8,644.0 692.4,645.0 692.1,646.0 691.7,647.0 691.4,648.0 691.0,649.0 690.7,650.0 690.3,651.0 690.0,652.0 689.6,653.0 689.3,654.0 689.0,655.0 688.6,656.0 688.3,657.0 688.0,658.0 687.7,659.0 687.4,660.0 687.1,661.0 686.8,662.0 686.6,663.0 686.3,664.0 686.1,665.0 685.8,666.0 L663.4,666.0 663.1,665.0 662.9,664.0 662.6,663.0 662.4,662.0 662.1,661.0 661.8,660.0 661.5,659.0 661.2,658.0 660.9,657.0 660.6,656.0 660.2,655.0 659.9,654.0 659.6,653.0 659.2,652.0 658.9,651.0 658.5,650.0 658.2,649.0 657.8,648.0 657.5,647.0 657.1,646.0 656.8,645.0 656.4,644.0 656.0,643.0 655.7,642.0 655.3,641.0 654.9,640.0 654.5,639.0 654.1,638.0 653.8,637.0 653.4,636.0 653.0,635.0 652.6,634.0 652.2,633.0 651.8,632.0 651.5,631.0 651.1,630.0 650.7,629.0 650.3,628.0 650.0,627.0 649.6,626.0 649.2,625.0 648.8,624.0 648.4,623.0 648.0,622.0 647.7,621.0 647.3,620.0 646.9,619.0 646.5,618.0 646.2,617.0 645.8,616.0 645.4,615.0 645.1,614.0 644.7,613.0 644.4,612.0 644.1,611.0 643.8,610.0 643.5,609.0 643.1,608.0 642.8,607.0 642.5,606.0 642.2,605.0 641.9,604.0 641.6,603.0 641.3,602.0 641.0,601.0 640.8,600.0 640.5,599.0 640.2,598.0 640.0,597.0 639.7,596.0 639.5,595.0 639.3,594.0 639.1,593.0 638.9,592.0 638.7,591.0 638.5,590.0 638.3,589.0 638.2,588.0 638.0,587.0 637.8,586.0 637.7,585.0 637.5,584.0 637.4,583.0 637.2,582.0 637.1,581.0 636.9,580.0 636.8,579.0 636.7,578.0 636.5,577.0 636.4,576.0 636.3,575.0 636.2,574.0 636.1,572.9 635.9,571.9 635.8,570.9 635.7,569.9 635.6,568.9 635.5,567.9 635.4,566.9 635.3,565.9 635.2,564.9 635.1,563.9 635.0,562.9 634.9,561.9 634.8,560.9 634.8,559.9 634.7,558.9 634.6,557.9 634.6,556.9 634.5,555.9 634.4,554.9 634.3,553.9 634.3,552.9 634.2,551.9 634.1,550.9 634.1,549.9 634.0,548.9 634.0,547.9 633.9,546.9 633.8,545.9 633.8,544.9 633.8,543.9 633.7,542.9 633.7,541.9 633.7,540.9 633.7,539.9 633.7,538.9 633.7,537.9 633.7,536.9 633.8,535.9 633.8,534.9 633.9,533.9 633.9,532.9 634.0,531.9 634.1,530.9 634.1,529.9 634.2,528.9 634.3,527.9 634.3,526.9 634.4,525.9 634.5,524.9 634.6,523.9 634.6,522.9 634.7,521.9 634.7,520.9 634.8,519.9 634.9,518.9 634.9,517.9 635.0,516.9 635.0,515.9 635.1,514.9 635.1,513.9 635.2,512.9 635.3,511.9 635.3,510.9 635.4,509.9 635.4,508.9 635.5,507.9 635.5,506.9 635.6,505.9 635.7,504.9 635.7,503.9 635.8,502.9 635.8,501.9 635.9,500.9 635.9,499.9 636.0,498.9 636.0,497.9 636.1,496.9 636.1,495.9 636.2,494.9 636.2,493.9 636.3,492.9 636.3,491.9 636.4,490.9 636.4,489.9 636.5,488.9 636.5,487.9 636.6,486.9 636.6,485.9 636.7,484.9 636.7,483.9 636.8,482.9 636.8,481.9 636.8,480.9 636.9,479.9 636.9,478.9 636.9,477.9 637.0,476.9 637.0,475.9 637.0,474.9 637.1,473.9 637.1,472.9 637.1,471.9 637.2,470.9 637.2,469.9 637.2,468.9 637.3,467.9 637.3,466.9 637.3,465.9 637.4,464.9 637.4,463.9 637.4,462.9 637.4,461.9 637.5,460.9 637.5,459.9 637.5,458.9 637.6,457.9 637.6,456.9 637.6,455.9 637.7,454.9 637.7,453.9 637.7,452.9 637.8,451.9 637.8,450.9 637.8,449.9 637.9,448.9 637.9,447.9 637.9,446.9 638.0,445.9 638.0,444.9 638.1,443.9 638.1,442.9 638.1,441.9 638.2,440.9 638.2,439.9 638.3,438.9 638.3,437.9 638.4,436.9 638.4,435.9 638.5,434.9 638.5,433.9 638.6,432.9 638.7,431.9 638.7,430.9 638.8,429.9 638.9,428.9 639.0,427.9 639.1,426.9 639.2,425.9 639.2,424.9 639.3,423.9 639.5,422.9 639.6,421.9 639.7,420.9 639.8,419.9 639.9,418.9 640.0,417.9 640.1,416.9 640.3,415.9 640.4,414.9 640.5,413.9 640.7,412.9 640.8,411.9 640.9,410.9 641.0,409.9 641.2,408.9 641.3,407.9 641.4,406.9 641.6,405.9 641.7,404.9 641.8,403.9 642.0,402.9 642.1,401.9 642.2,400.9 642.3,399.9 642.5,398.9 642.6,397.9 642.7,396.9 642.8,395.9 642.9,394.9 643.1,393.9 643.2,392.9 643.3,391.9 643.4,390.9 643.5,389.9 643.7,388.9 643.8,387.9 643.9,386.8 644.0,385.8 644.1,384.8 644.3,383.8 644.4,382.8 644.5,381.8 644.6,380.8 644.8,379.8 644.9,378.8 645.0,377.8 645.2,376.8 645.3,375.8 645.5,374.8 645.6,373.8 645.8,372.8 645.9,371.8 646.1,370.8 646.3,369.8 646.4,368.8 646.6,367.8 646.8,366.8 647.0,365.8 647.2,364.8 647.4,363.8 647.6,362.8 647.8,361.8 648.0,360.8 648.2,359.8 648.4,358.8 648.6,357.8 648.8,356.8 649.0,355.8 649.2,354.8 649.4,353.8 649.6,352.8 649.9,351.8 650.1,350.8 650.3,349.8 650.5,348.8 650.7,347.8 650.9,346.8 651.1,345.8 651.3,344.8 651.6,343.8 651.8,342.8 652.0,341.8 652.2,340.8 652.4,339.8 652.6,338.8 652.8,337.8 653.0,336.8 653.2,335.8 653.4,334.8 653.6,333.8 653.8,332.8 654.0,331.8 654.2,330.8 654.4,329.8 654.6,328.8 654.8,327.8 655.1,326.8 655.3,325.8 655.5,324.8 655.7,323.8 655.9,322.8 656.1,321.8 656.3,320.8 656.5,319.8 656.7,318.8 656.9,317.8 657.1,316.8 657.3,315.8 657.5,314.8 657.7,313.8 657.9,312.8 658.1,311.8 658.3,310.8 658.5,309.8 658.6,308.8 658.8,307.8 659.0,306.8 659.2,305.8 659.3,304.8 659.5,303.8 659.6,302.8 659.8,301.8 659.9,300.8 660.1,299.8 660.2,298.8 660.4,297.8 660.5,296.8 660.6,295.8 660.8,294.8 660.9,293.8 661.0,292.8 661.2,291.8 661.3,290.8 661.4,289.8 661.6,288.8 661.7,287.8 661.8,286.8 661.9,285.8 662.1,284.8 662.2,283.8 662.3,282.8 662.4,281.8 662.5,280.8 662.7,279.8 662.8,278.8 662.9,277.8 663.0,276.8 663.1,275.8 663.2,274.8 663.3,273.8 663.4,272.8 663.5,271.8 663.6,270.8 663.7,269.8 663.8,268.8 663.9,267.8 664.0,266.8 664.1,265.8 664.2,264.8 664.3,263.8 664.4,262.8 664.5,261.8 664.6,260.8 664.7,259.8 664.8,258.8 664.9,257.8 665.0,256.8 665.1,255.8 665.2,254.8 665.3,253.8 665.4,252.8 665.4,251.8 665.5,250.8 665.6,249.8 665.7,248.8 665.8,247.8 665.9,246.8 666.0,245.8 666.0,244.8 666.1,243.8 666.2,242.8 666.2,241.8 666.3,240.8 666.3,239.8 666.4,238.8 666.4,237.8 666.5,236.8 666.5,235.8 666.5,234.8 666.6,233.8 666.6,232.8 666.6,231.8 666.6,230.8 666.6,229.8 666.6,228.8 666.6,227.8 666.7,226.8 666.7,225.8 666.7,224.8 666.7,223.8 666.7,222.8 666.7,221.8 666.7,220.8 666.7,219.8 666.7,218.8 666.7,217.8 666.7,216.8 666.7,215.8 666.7,214.8 666.7,213.8 666.7,212.8 666.7,211.8 666.7,210.8 666.7,209.8 666.7,208.8 666.8,207.8 666.8,206.8 666.8,205.8 666.8,204.8 666.8,203.8 666.8,202.8 666.8,201.8 666.8,200.7 666.8,199.7 666.8,198.7 666.8,197.7 666.8,196.7 666.8,195.7 666.8,194.7 666.8,193.7 666.9,192.7 666.9,191.7 666.9,190.7 666.9,189.7 666.9,188.7 666.9,187.7 666.9,186.7 666.9,185.7 666.9,184.7 666.9,183.7 666.9,182.7 666.9,181.7 666.9,180.7 667.0,179.7 667.0,178.7 667.0,177.7 667.0,176.7 667.0,175.7 667.0,174.7 667.0,173.7 667.0,172.7 667.0,171.7 667.1,170.7 667.1,169.7 667.1,168.7 667.1,167.7 667.1,166.7 667.1,165.7 667.1,164.7 667.2,163.7 667.2,162.7 667.2,161.7 667.2,160.7 667.2,159.7 667.3,158.7 667.3,157.7 667.3,156.7 667.4,155.7 667.4,154.7 667.5,153.7 667.5,152.7 667.6,151.7 667.6,150.7 667.7,149.7 667.7,148.7 667.8,147.7 667.9,146.7 667.9,145.7 668.0,144.7 668.1,143.7 668.1,142.7 668.2,141.7 668.3,140.7 668.4,139.7 668.5,138.7 668.5,137.7 668.6,136.7 668.7,135.7 668.8,134.7 668.8,133.7 668.9,132.7 669.0,131.7 669.0,130.7 669.1,129.7 669.2,128.7 669.3,127.7 669.3,126.7 669.4,125.7 669.5,124.7 669.6,123.7 669.7,122.7 669.7,121.7 669.8,120.7 669.9,119.7 670.0,118.7 670.1,117.7 670.1,116.7 670.2,115.7 670.3,114.7 670.4,113.7 670.5,112.7 670.6,111.7 670.6,110.7 670.7,109.7 670.8,108.7Z" fill="#6dd187"/>
<path d="M678.4,108.7 678.5,109.7 678.6,110.7 678.6,111.7 678.7,112.7 678.8,113.7 678.9,114.7 679.0,115.7 679.1,116.7 679.1,117.7 679.2,118.7 679.3,119.7 679.4,120.7 679.5,121.7 679.5,122.7 679.6,123.7 679.7,124.7 679.8,125.7 679.9,126.7 679.9,127.7 680.0,128.7 680.1,129.7 680.2,130.7 680.2,131.7 680.3,132.7 680.4,133.7 680.4,134.7 680.5,135.7 680.6,136.7 680.7,137.7 680.7,138.7 680.8,139.7 680.9,140.7 681.0,141.7 681.1,142.7 681.1,143.7 681.2,144.7 681.3,145.7 681.3,146.7 681.4,147.7 681.5,148.7 681.5,149.7 681.6,150.7 681.6,151.7 681.7,152.7 681.7,153.7 681.8,154.7 681.8,155.7 681.9,156.7 681.9,157.7 681.9,158.7 682.0,159.7 682.0,160.7 682.0,161.7 682.0,162.7 682.0,163.7 682.1,164.7 682.1,165.7 682.1,166.7 682.1,167.7 682.1,168.7 682.1,169.7 682.1,170.7 682.2,171.7 682.2,172.7 682.2,173.7 682.2,174.7 682.2,175.7 682.2,176.7 682.2,177.7 682.2,178.7 682.2,179.7 682.3,180.7 682.3,181.7 682.3,182.7 682.3,183.7 682.3,184.7 682.3,185.7 682.3,186.7 682.3,187.7 682.3,188.7 682.3,189.7 682.3,190.7 682.3,191.7 682.3,192.7 682.4,193.7 682.4,194.7 682.4,195.7 682.4,196.7 682.4,197.7 682.4,198.7 682.4,199.7 682.4,200.7 682.4,201.8 682.4,202.8 682.4,203.8 682.4,204.8 682.4,205.8 682.4,206.8 682.4,207.8 682.5,208.8 682.5,209.8 682.5,210.8 682.5,211.8 682.5,212.8 682.5,213.8 682.5,214.8 682.5,215.8 682.5,216.8 682.5,217.8 682.5,218.8 682.5,219.8 682.5,220.8 682.5,221.8 682.5,222.8 682.5,223.8 682.5,224.8 682.5,225.8 682.5,226.8 682.6,227.8 682.6,228.8 682.6,229.8 682.6,230.8 682.6,231.8 682.6,232.8 682.6,233.8 682.7,234.8 682.7,235.8 682.7,236.8 682.8,237.8 682.8,238.8 682.9,239.8 682.9,240.8 683.0,241.8 683.0,242.8 683.1,243.8 683.2,244.8 683.2,245.8 683.3,246.8 683.4,247.8 683.5,248.8 683.6,249.8 683.7,250.8 683.8,251.8 683.8,252.8 683.9,253.8 684.0,254.8 684.1,255.8 684.2,256.8 684.3,257.8 684.4,258.8 684.5,259.8 684.6,260.8 684.7,261.8 684.8,262.8 684.9,263.8 685.0,264.8 685.1,265.8 685.2,266.8 685.3,267.8 685.4,268.8 685.5,269.8 685.6,270.8 685.7,271.8 685.8,272.8 685.9,273.8 686.0,274.8 686.1,275.8 686.2,276.8 686.3,277.8 686.4,278.8 686.5,279.8 686.7,280.8 686.8,281.8 686.9,282.8 687.0,283.8 687.1,284.8 687.3,285.8 687.4,286.8 687.5,287.8 687.6,288.8 687.8,289.8 687.9,290.8 688.0,291.8 688.2,292.8 688.3,293.8 688.4,294.8 688.6,295.8 688.7,296.8 688.8,297.8 689.0,298.8 689.1,299.8 689.3,300.8 689.4,301.8 689.6,302.8 689.7,303.8 689.9,304.8 690.0,305.8 690.2,306.8 690.4,307.8 690.6,308.8 690.7,309.8 690.9,310.8 691.1,311.8 691.3,312.8 691.5,313.8 691.7,314.8 691.9,315.8 692.1,316.8 692.3,317.8 692.5,318.8 692.7,319.8 692.9,320.8 693.1,321.8 693.3,322.8 693.5,323.8 693.7,324.8 693.9,325.8 694.1,326.8 694.4,327.8 694.6,328.8 694.8,329.8 695.0,330.8 695.2,331.8 695.4,332.8 695.6,333.8 695.8,334.8 696.0,335.8 696.2,336.8 696.4,337.8 696.6,338.8 696.8,339.8 697.0,340.8 697.2,341.8 697.4,342.8 697.6,343.8 697.9,344.8 698.1,345.8 698.3,346.8 698.5,347.8 698.7,348.8 698.9,349.8 699.1,350.8 699.3,351.8 699.6,352.8 699.8,353.8 700.0,354.8 700.2,355.8 700.4,356.8 700.6,357.8 700.8,358.8 701.0,359.8 701.2,360.8 701.4,361.8 701.6,362.8 701.8,363.8 702.0,364.8 702.2,365.8 702.4,366.8 702.6,367.8 702.8,368.8 702.9,369.8 703.1,370.8 703.3,371.8 703.4,372.8 703.6,373.8 703.7,374.8 703.9,375.8 704.0,376.8 704.2,377.8 704.3,378.8 704.4,379.8 704.6,380.8 704.7,381.8 704.8,382.8 704.9,383.8 705.1,384.8 705.2,385.8 705.3,386.8 705.4,387.9 705.5,388.9 705.7,389.9 705.8,390.9 705.9,391.9 706.0,392.9 706.1,393.9 706.3,394.9 706.4,395.9 706.5,396.9 706.6,397.9 706.7,398.9 706.9,399.9 707.0,400.9 707.1,401.9 707.2,402.9 707.4,403.9 707.5,404.9 707.6,405.9 707.8,406.9 707.9,407.9 708.0,408.9 708.2,409.9 708.3,410.9 708.4,411.9 708.5,412.9 708.7,413.9 708.8,414.9 708.9,415.9 709.1,416.9 709.2,417.9 709.3,418.9 709.4,419.9 709.5,420.9 709.6,421.9 709.7,422.9 709.9,423.9 710.0,424.9 710.0,425.9 710.1,426.9 710.2,427.9 710.3,428.9 710.4,429.9 710.5,430.9 710.5,431.9 710.6,432.9 710.7,433.9 710.7,434.9 710.8,435.9 710.8,436.9 710.9,437.9 710.9,438.9 711.0,439.9 711.0,440.9 711.1,441.9 711.1,442.9 711.1,443.9 711.2,444.9 711.2,445.9 711.3,446.9 711.3,447.9 711.3,448.9 711.4,449.9 711.4,450.9 711.4,451.9 711.5,452.9 711.5,453.9 711.5,454.9 711.6,455.9 711.6,456.9 711.6,457.9 711.7,458.9 711.7,459.9 711.7,460.9 711.8,461.9 711.8,462.9 711.8,463.9 711.8,464.9 711.9,465.9 711.9,466.9 711.9,467.9 712.0,468.9 712.0,469.9 712.0,470.9 712.1,471.9 712.1,472.9 712.1,473.9 712.2,474.9 712.2,475.9 712.2,476.9 712.3,477.9 712.3,478.9 712.3,479.9 712.4,480.9 712.4,481.9 712.4,482.9 712.5,483.9 712.5,484.9 712.6,485.9 712.6,486.9 712.7,487.9 712.7,488.9 712.8,489.9 712.8,490.9 712.9,491.9 712.9,492.9 713.0,493.9 713.0,494.9 713.1,495.9 713.1,496.9 713.2,497.9 713.2,498.9 713.3,499.9 713.3,500.9 713.4,501.9 713.4,502.9 713.5,503.9 713.5,504.9 713.6,505.9 713.7,506.9 713.7,507.9 713.8,508.9 713.8,509.9 713.9,510.9 713.9,511.9 714.0,512.9 714.1,513.9 714.1,514.9 714.2,515.9 714.2,516.9 714.3,517.9 714.3,518.9 714.4,519.9 714.5,520.9 714.5,521.9 714.6,522.9 714.6,523.9 714.7,524.9 714.8,525.9 714.9,526.9 714.9,527.9 715.0,528.9 715.1,529.9 715.1,530.9 715.2,531.9 715.3,532.9 715.3,533.9 715.4,534.9 715.4,535.9 715.5,536.9 715.5,537.9 715.5,538.9 715.5,539.9 715.5,540.9 715.5,541.9 715.5,542.9 715.4,543.9 715.4,544.9 715.4,545.9 715.3,546.9 715.2,547.9 715.2,548.9 715.1,549.9 715.1,550.9 715.0,551.9 714.9,552.9 714.9,553.9 714.8,554.9 714.7,555.9 714.6,556.9 714.6,557.9 714.5,558.9 714.4,559.9 714.4,560.9 714.3,561.9 714.2,562.9 714.1,563.9 714.0,564.9 713.9,565.9 713.8,566.9 713.7,567.9 713.6,568.9 713.5,569.9 713.4,570.9 713.3,571.9 713.1,572.9 713.0,574.0 712.9,575.0 712.8,576.0 712.7,577.0 712.5,578.0 712.4,579.0 712.3,580.0 712.1,581.0 712.0,582.0 711.8,583.0 711.7,584.0 711.5,585.0 711.4,586.0 711.2,587.0 711.0,588.0 710.9,589.0 710.7,590.0 710.5,591.0 710.3,592.0 710.1,593.0 709.9,594.0 709.7,595.0 709.5,596.0 709.2,597.0 709.0,598.0 708.7,599.0 708.4,600.0 708.2,601.0 707.9,602.0 707.6,603.0 707.3,604.0 707.0,605.0 706.7,606.0 706.4,607.0 706.1,608.0 705.7,609.0 705.4,610.0 705.1,611.0 704.8,612.0 704.5,613.0 704.1,614.0 703.8,615.0 703.4,616.0 703.0,617.0 702.7,618.0 702.3,619.0 701.9,620.0 701.5,621.0 701.2,622.0 700.8,623.0 700.4,624.0 700.0,625.0 699.6,626.0 699.2,627.0 698.9,628.0 698.5,629.0 698.1,630.0 697.7,631.0 697.4,632.0 697.0,633.0 696.6,634.0 696.2,635.0 695.8,636.0 695.4,637.0 695.1,638.0 694.7,639.0 694.3,640.0 693.9,641.0 693.5,642.0 693.2,643.0 692.8,644.0 692.4,645.0 692.1,646.0 691.7,647.0 691.4,648.0 691.0,649.0 690.7,650.0 690.3,651.0 690.0,652.0 689.6,653.0 689.3,654.0 689.0,655.0 688.6,656.0 688.3,657.0 688.0,658.0 687.7,659.0 687.4,660.0 687.1,661.0 686.8,662.0 686.6,663.0 686.3,664.0 686.1,665.0 685.8,666.0 M663.4,666.0 663.1,665.0 662.9,664.0 662.6,663.0 662.4,662.0 662.1,661.0 661.8,660.0 661.5,659.0 661.2,658.0 660.9,657.0 660.6,656.0 660.2,655.0 659.9,654.0 659.6,653.0 659.2,652.0 658.9,651.0 658.5,650.0 658.2,649.0 657.8,648.0 657.5,647.0 657.1,646.0 656.8,645.0 656.4,644.0 656.0,643.0 655.7,642.0 655.3,641.0 654.9,640.0 654.5,639.0 654.1,638.0 653.8,637.0 653.4,636.0 653.0,635.0 652.6,634.0 652.2,633.0 651.8,632.0 651.5,631.0 651.1,630.0 650.7,629.0 650.3,628.0 650.0,627.0 649.6,626.0 649.2,625.0 648.8,624.0 648.4,623.0 648.0,622.0 647.7,621.0 647.3,620.0 646.9,619.0 646.5,618.0 646.2,617.0 645.8,616.0 645.4,615.0 645.1,614.0 644.7,613.0 644.4,612.0 644.1,611.0 643.8,610.0 643.5,609.0 643.1,608.0 642.8,607.0 642.5,606.0 642.2,605.0 641.9,604.0 641.6,603.0 641.3,602.0 641.0,601.0 640.8,600.0 640.5,599.0 640.2,598.0 640.0,597.0 639.7,596.0 639.5,595.0 639.3,594.0 639.1,593.0 638.9,592.0 638.7,591.0 638.5,590.0 638.3,589.0 638.2,588.0 638.0,587.0 637.8,586.0 637.7,585.0 637.5,584.0 637.4,583.0 637.2,582.0 637.1,581.0 636.9,580.0 636.8,579.0 636.7,578.0 636.5,577.0 636.4,576.0 636.3,575.0 636.2,574.0 636.1,572.9 635.9,571.9 635.8,570.9 635.7,569.9 635.6,568.9 635.5,567.9 635.4,566.9 635.3,565.9 635.2,564.9 635.1,563.9 635.0,562.9 634.9,561.9 634.8,560.9 634.8,559.9 634.7,558.9 634.6,557.9 634.6,556.9 634.5,555.9 634.4,554.9 634.3,553.9 634.3,552.9 634.2,551.9 634.1,550.9 634.1,549.9 634.0,548.9 634.0,547.9 633.9,546.9 633.8,545.9 633.8,544.9 633.8,543.9 633.7,542.9 633.7,541.9 633.7,540.9 633.7,539.9 633.7,538.9 633.7,537.9 633.7,536.9 633.8,535.9 633.8,534.9 633.9,533.9 633.9,532.9 634.0,531.9 634.1,530.9 634.1,529.9 634.2,528.9 634.3,527.9 634.3,526.9 634.4,525.9 634.5,524.9 634.6,523.9 634.6,522.9 634.7,521.9 634.7,520.9 634.8,519.9 634.9,518.9 634.9,517.9 635.0,516.9 635.0,515.9 635.1,514.9 635.1,513.9 635.2,512.9 635.3,511.9 635.3,510.9 635.4,509.9 635.4,508.9 635.5,507.9 635.5,506.9 635.6,505.9 635.7,504.9 635.7,503.9 635.8,502.9 635.8,501.9 635.9,500.9 635.9,499.9 636.0,498.9 636.0,497.9 636.1,496.9 636.1,495.9 636.2,494.9 636.2,493.9 636.3,492.9 636.3,491.9 636.4,490.9 636.4,489.9 636.5,488.9 636.5,487.9 636.6,486.9 636.6,485.9 636.7,484.9 636.7,483.9 636.8,482.9 636.8,481.9 636.8,480.9 636.9,479.9 636.9,478.9 636.9,477.9 637.0,476.9 637.0,475.9 637.0,474.9 637.1,473.9 637.1,472.9 637.1,471.9 637.2,470.9 637.2,469.9 637.2,468.9 637.3,467.9 637.3,466.9 637.3,465.9 637.4,464.9 637.4,463.9 637.4,462.9 637.4,461.9 637.5,460.9 637.5,459.9 637.5,458.9 637.6,457.9 637.6,456.9 637.6,455.9 637.7,454.9 637.7,453.9 637.7,452.9 637.8,451.9 637.8,450.9 637.8,449.9 637.9,448.9 637.9,447.9 637.9,446.9 638.0,445.9 638.0,444.9 638.1,443.9 638.1,442.9 638.1,441.9 638.2,440.9 638.2,439.9 638.3,438.9 638.3,437.9 638.4,436.9 638.4,435.9 638.5,434.9 638.5,433.9 638.6,432.9 638.7,431.9 638.7,430.9 638.8,429.9 638.9,428.9 639.0,427.9 639.1,426.9 639.2,425.9 639.2,424.9 639.3,423.9 639.5,422.9 639.6,421.9 639.7,420.9 639.8,419.9 639.9,418.9 640.0,417.9 640.1,416.9 640.3,415.9 640.4,414.9 640.5,413.9 640.7,412.9 640.8,411.9 640.9,410.9 641.0,409.9 641.2,408.9 641.3,407.9 641.4,406.9 641.6,405.9 641.7,404.9 641.8,403.9 642.0,402.9 642.1,401.9 642.2,400.9 642.3,399.9 642.5,398.9 642.6,397.9 642.7,396.9 642.8,395.9 642.9,394.9 643.1,393.9 643.2,392.9 643.3,391.9 643.4,390.9 643.5,389.9 643.7,388.9 643.8,387.9 643.9,386.8 644.0,385.8 644.1,384.8 644.3,383.8 644.4,382.8 644.5,381.8 644.6,380.8 644.8,379.8 644.9,378.8 645.0,377.8 645.2,376.8 645.3,375.8 645.5,374.8 645.6,373.8 645.8,372.8 645.9,371.8 646.1,370.8 646.3,369.8 646.4,368.8 646.6,367.8 646.8,366.8 647.0,365.8 647.2,364.8 647.4,363.8 647.6,362.8 647.8,361.8 648.0,360.8 648.2,359.8 648.4,358.8 648.6,357.8 648.8,356.8 649.0,355.8 649.2,354.8 649.4,353.8 649.6,352.8 649.9,351.8 650.1,350.8 650.3,349.8 650.5,348.8 650.7,347.8 650.9,346.8 651.1,345.8 651.3,344.8 651.6,343.8 651.8,342.8 652.0,341.8 652.2,340.8 652.4,339.8 652.6,338.8 652.8,337.8 653.0,336.8 653.2,335.8 653.4,334.8 653.6,333.8 653.8,332.8 654.0,331.8 654.2,330.8 654.4,329.8 654.6,328.8 654.8,327.8 655.1,326.8 655.3,325.8 655.5,324.8 655.7,323.8 655.9,322.8 656.1,321.8 656.3,320.8 656.5,319.8 656.7,318.8 656.9,317.8 657.1,316.8 657.3,315.8 657.5,314.8 657.7,313.8 657.9,312.8 658.1,311.8 658.3,310.8 658.5,309.8 658.6,308.8 658.8,307.8 659.0,306.8 659.2,305.8 659.3,304.8 659.5,303.8 659.6,302.8 659.8,301.8 659.9,300.8 660.1,299.8 660.2,298.8 660.4,297.8 660.5,296.8 660.6,295.8 660.8,294.8 660.9,293.8 661.0,292.8 661.2,291.8 661.3,290.8 661.4,289.8 661.6,288.8 661.7,287.8 661.8,286.8 661.9,285.8 662.1,284.8 662.2,283.8 662.3,282.8 662.4,281.8 662.5,280.8 662.7,279.8 662.8,278.8 662.9,277.8 663.0,276.8 663.1,275.8 663.2,274.8 663.3,273.8 663.4,272.8 663.5,271.8 663.6,270.8 663.7,269.8 663.8,268.8 663.9,267.8 664.0,266.8 664.1,265.8 664.2,264.8 664.3,263.8 664.4,262.8 664.5,261.8 664.6,260.8 664.7,259.8 664.8,258.8 664.9,257.8 665.0,256.8 665.1,255.8 665.2,254.8 665.3,253.8 665.4,252.8 665.4,251.8 665.5,250.8 665.6,249.8 665.7,248.8 665.8,247.8 665.9,246.8 666.0,245.8 666.0,244.8 666.1,243.8 666.2,242.8 666.2,241.8 666.3,240.8 666.3,239.8 666.4,238.8 666.4,237.8 666.5,236.8 666.5,235.8 666.5,234.8 666.6,233.8 666.6,232.8 666.6,231.8 666.6,230.8 666.6,229.8 666.6,228.8 666.6,227.8 666.7,226.8 666.7,225.8 666.7,224.8 666.7,223.8 666.7,222.8 666.7,221.8 666.7,220.8 666.7,219.8 666.7,218.8 666.7,217.8 666.7,216.8 666.7,215.8 666.7,214.8 666.7,213.8 666.7,212.8 666.7,211.8 666.7,210.8 666.7,209.8 666.7,208.8 666.8,207.8 666.8,206.8 666.8,205.8 666.8,204.8 666.8,203.8 666.8,202.8 666.8,201.8 666.8,200.7 666.8,199.7 666.8,198.7 666.8,197.7 666.8,196.7 666.8,195.7 666.8,194.7 666.8,193.7 666.9,192.7 666.9,191.7 666.9,190.7 666.9,189.7 666.9,188.7 666.9,187.7 666.9,186.7 666.9,185.7 666.9,184.7 666.9,183.7 666.9,182.7 666.9,181.7 666.9,180.7 667.0,179.7 667.0,178.7 667.0,177.7 667.0,176.7 667.0,175.7 667.0,174.7 667.0,173.7 667.0,172.7 667.0,171.7 667.1,170.7 667.1,169.7 667.1,168.7 667.1,167.7 667.1,166.7 667.1,165.7 667.1,164.7 667.2,163.7 667.2,162.7 667.2,161.7 667.2,160.7 667.2,159.7 667.3,158.7 667.3,157.7 667.3,156.7 667.4,155.7 667.4,154.7 667.5,153.7 667.5,152.7 667.6,151.7 667.6,150.7 667.7,149.7 667.7,148.7 667.8,147.7 667.9,146.7 667.9,145.7 668.0,144.7 668.1,143.7 668.1,142.7 668.2,141.7 668.3,140.7 668.4,139.7 668.5,138.7 668.5,137.7 668.6,136.7 668.7,135.7 668.8,134.7 668.8,133.7 668.9,132.7 669.0,131.7 669.0,130.7 669.1,129.7 669.2,128.7 669.3,127.7 669.3,126.7 669.4,125.7 669.5,124.7 669.6,123.7 669.7,122.7 669.7,121.7 669.8,120.7 669.9,119.7 670.0,118.7 670.1,117.7 670.1,116.7 670.2,115.7 670.3,114.7 670.4,113.7 670.5,112.7 670.6,111.7 670.6,110.7 670.7,109.7 670.8,108.7" fill="none" stroke="#40c766" stroke-width="1.6" stroke-linejoin="round"/>
<line x1="674.6" y1="172.6" x2="674.6" y2="617" stroke="#2b8745" stroke-width="3.4" stroke-dasharray="4.0 4.20" stroke-dashoffset="0.00"/>
<path d="M674.6,157.5 L682.6,165.5 L674.6,173.5 L666.6,165.5Z" fill="#000"/>
<path d="M674.6,391.2 L682.6,399.2 L674.6,407.2 L666.6,399.2Z" fill="#000"/>
<path d="M674.6,480.0 L682.6,488.0 L674.6,496.0 L666.6,488.0Z" fill="#000"/>
<path d="M674.6,549.6 L682.6,557.6 L674.6,565.6 L666.6,557.6Z" fill="#000"/>
<path d="M674.6,611.8 L682.6,619.8 L674.6,627.8 L666.6,619.8Z" fill="#000"/>
<path d="M914.0,131.7 914.1,132.7 914.1,133.7 914.2,134.7 914.2,135.7 914.3,136.7 914.4,137.7 914.4,138.7 914.5,139.7 914.5,140.7 914.6,141.7 914.6,142.7 914.7,143.7 914.8,144.7 914.8,145.7 914.9,146.7 914.9,147.7 914.9,148.7 915.0,149.7 915.0,150.7 915.1,151.7 915.1,152.7 915.1,153.7 915.2,154.7 915.2,155.7 915.3,156.7 915.3,157.7 915.3,158.7 915.4,159.7 915.4,160.7 915.4,161.7 915.5,162.7 915.5,163.7 915.5,164.7 915.5,165.7 915.5,166.7 915.6,167.7 915.6,168.7 915.6,169.7 915.6,170.7 915.6,171.7 915.6,172.7 915.6,173.7 915.6,174.7 915.6,175.7 915.6,176.7 915.6,177.7 915.6,178.7 915.6,179.7 915.5,180.7 915.5,181.7 915.5,182.7 915.5,183.7 915.5,184.7 915.5,185.7 915.4,186.7 915.4,187.7 915.4,188.7 915.4,189.7 915.3,190.7 915.3,191.7 915.3,192.7 915.3,193.7 915.2,194.7 915.2,195.7 915.2,196.7 915.1,197.7 915.1,198.7 915.1,199.7 915.0,200.7 915.0,201.7 915.0,202.7 914.9,203.7 914.9,204.7 914.9,205.7 914.8,206.7 914.8,207.7 914.8,208.7 914.7,209.7 914.7,210.7 914.7,211.7 914.6,212.7 914.6,213.7 914.6,214.7 914.5,215.7 914.5,216.7 914.5,217.6 914.4,218.6 914.4,219.6 914.3,220.6 914.3,221.6 914.2,222.6 914.2,223.6 914.1,224.6 914.0,225.6 914.0,226.6 913.9,227.6 913.8,228.6 913.8,229.6 913.7,230.6 913.6,231.6 913.6,232.6 913.5,233.6 913.4,234.6 913.3,235.6 913.3,236.6 913.2,237.6 913.1,238.6 913.1,239.6 913.0,240.6 912.9,241.6 912.8,242.6 912.8,243.6 912.7,244.6 912.6,245.6 912.6,246.6 912.5,247.6 912.5,248.6 912.4,249.6 912.4,250.6 912.3,251.6 912.3,252.6 912.2,253.6 912.2,254.6 912.2,255.6 912.2,256.6 912.1,257.6 912.1,258.6 912.1,259.6 912.1,260.6 912.1,261.6 912.1,262.6 912.1,263.6 912.1,264.6 912.1,265.6 912.1,266.6 912.1,267.6 912.1,268.6 912.1,269.6 912.2,270.6 912.2,271.6 912.2,272.6 912.2,273.6 912.2,274.6 912.2,275.6 912.3,276.6 912.3,277.6 912.3,278.6 912.3,279.6 912.3,280.6 912.4,281.6 912.4,282.6 912.4,283.6 912.4,284.6 912.4,285.6 912.5,286.6 912.5,287.6 912.5,288.6 912.6,289.6 912.6,290.6 912.7,291.6 912.7,292.6 912.8,293.6 912.9,294.6 913.0,295.6 913.1,296.6 913.2,297.6 913.3,298.6 913.4,299.6 913.5,300.6 913.6,301.6 913.7,302.6 913.9,303.6 914.0,304.6 914.1,305.6 914.3,306.6 914.4,307.6 914.6,308.6 914.7,309.6 914.9,310.6 915.0,311.6 915.2,312.6 915.3,313.6 915.5,314.6 915.7,315.6 915.8,316.6 916.0,317.6 916.2,318.6 916.3,319.6 916.5,320.6 916.7,321.6 916.8,322.6 917.0,323.6 917.2,324.6 917.4,325.6 917.6,326.6 917.8,327.6 918.0,328.6 918.2,329.6 918.4,330.6 918.6,331.6 918.9,332.6 919.1,333.6 919.4,334.6 919.6,335.6 919.9,336.6 920.1,337.6 920.4,338.6 920.7,339.6 920.9,340.6 921.2,341.6 921.5,342.6 921.8,343.6 922.0,344.6 922.3,345.6 922.6,346.6 922.9,347.6 923.1,348.6 923.4,349.6 923.7,350.6 924.0,351.6 924.2,352.6 924.5,353.6 924.8,354.6 925.0,355.6 925.3,356.6 925.5,357.6 925.8,358.6 926.0,359.6 926.3,360.6 926.5,361.6 926.7,362.6 927.0,363.6 927.2,364.6 927.5,365.6 927.7,366.6 928.0,367.6 928.2,368.6 928.5,369.6 928.8,370.6 929.0,371.6 929.3,372.6 929.5,373.6 929.7,374.6 930.0,375.6 930.2,376.6 930.5,377.6 930.7,378.6 931.0,379.6 931.2,380.6 931.4,381.6 931.7,382.6 931.9,383.6 932.1,384.6 932.3,385.6 932.5,386.6 932.8,387.6 933.0,388.6 933.2,389.6 933.4,390.5 933.6,391.5 933.7,392.5 933.9,393.5 934.1,394.5 934.3,395.5 934.4,396.5 934.6,397.5 934.7,398.5 934.9,399.5 935.1,400.5 935.2,401.5 935.3,402.5 935.5,403.5 935.6,404.5 935.8,405.5 935.9,406.5 936.0,407.5 936.2,408.5 936.3,409.5 936.4,410.5 936.6,411.5 936.7,412.5 936.8,413.5 937.0,414.5 937.1,415.5 937.2,416.5 937.4,417.5 937.5,418.5 937.6,419.5 937.8,420.5 937.9,421.5 938.0,422.5 938.1,423.5 938.2,424.5 938.4,425.5 938.5,426.5 938.6,427.5 938.7,428.5 938.8,429.5 939.0,430.5 939.1,431.5 939.2,432.5 939.3,433.5 939.4,434.5 939.6,435.5 939.7,436.5 939.8,437.5 939.9,438.5 940.0,439.5 940.2,440.5 940.3,441.5 940.4,442.5 940.5,443.5 940.7,444.5 940.8,445.5 940.9,446.5 941.0,447.5 941.2,448.5 941.3,449.5 941.4,450.5 941.6,451.5 941.7,452.5 941.8,453.5 942.0,454.5 942.1,455.5 942.3,456.5 942.4,457.5 942.5,458.5 942.7,459.5 942.8,460.5 943.0,461.5 943.1,462.5 943.2,463.5 943.4,464.5 943.5,465.5 943.7,466.5 943.8,467.5 944.0,468.5 944.1,469.5 944.3,470.5 944.4,471.5 944.6,472.5 944.7,473.5 944.9,474.5 945.0,475.5 945.2,476.5 945.4,477.5 945.5,478.5 945.7,479.5 945.9,480.5 946.0,481.5 946.2,482.5 946.4,483.5 946.5,484.5 946.7,485.5 946.9,486.5 947.1,487.5 947.3,488.5 947.4,489.5 947.6,490.5 947.9,491.5 948.1,492.5 948.3,493.5 948.5,494.5 948.7,495.5 949.0,496.5 949.2,497.5 949.5,498.5 949.7,499.5 949.9,500.5 950.2,501.5 950.4,502.5 950.7,503.5 950.9,504.5 951.1,505.5 951.4,506.5 951.6,507.5 951.9,508.5 952.1,509.5 952.3,510.5 952.5,511.5 952.8,512.5 953.0,513.5 953.2,514.5 953.4,515.5 953.6,516.5 953.8,517.5 953.9,518.5 954.1,519.5 954.3,520.5 954.4,521.5 954.6,522.5 954.7,523.5 954.8,524.5 955.0,525.5 955.1,526.5 955.2,527.5 955.4,528.5 955.5,529.5 955.6,530.5 955.8,531.5 955.9,532.5 956.0,533.5 956.1,534.5 956.2,535.5 956.3,536.5 956.4,537.5 956.5,538.5 956.6,539.5 956.7,540.5 956.8,541.5 956.8,542.5 956.9,543.5 957.0,544.5 957.0,545.5 957.1,546.5 957.1,547.5 957.2,548.5 957.2,549.5 957.3,550.5 957.3,551.5 957.4,552.5 957.4,553.5 957.5,554.5 957.5,555.5 957.5,556.5 957.5,557.5 957.5,558.5 957.5,559.5 957.5,560.5 957.4,561.5 957.4,562.4 957.4,563.4 957.3,564.4 957.3,565.4 957.2,566.4 957.1,567.4 957.1,568.4 957.0,569.4 956.9,570.4 956.8,571.4 956.8,572.4 956.7,573.4 956.6,574.4 956.5,575.4 956.4,576.4 956.3,577.4 956.1,578.4 955.9,579.4 955.7,580.4 955.5,581.4 955.2,582.4 955.0,583.4 954.7,584.4 954.4,585.4 954.1,586.4 953.9,587.4 953.6,588.4 953.3,589.4 953.0,590.4 952.7,591.4 952.4,592.4 952.1,593.4 951.8,594.4 951.5,595.4 951.2,596.4 950.9,597.4 950.5,598.4 950.2,599.4 949.9,600.4 949.5,601.4 949.2,602.4 948.8,603.4 948.5,604.4 948.1,605.4 947.7,606.4 947.4,607.4 947.0,608.4 946.6,609.4 946.2,610.4 945.8,611.4 945.4,612.4 945.0,613.4 944.6,614.4 944.2,615.4 943.7,616.4 943.3,617.4 942.8,618.4 942.4,619.4 941.9,620.4 941.4,621.4 941.0,622.4 940.5,623.4 940.0,624.4 939.6,625.4 939.1,626.4 938.6,627.4 938.1,628.4 937.7,629.4 937.2,630.4 936.7,631.4 936.2,632.4 935.8,633.4 935.3,634.4 934.8,635.4 934.3,636.4 933.8,637.4 933.3,638.4 932.8,639.4 932.3,640.4 931.8,641.4 931.3,642.4 930.8,643.4 930.2,644.4 929.7,645.4 929.2,646.4 928.7,647.4 L884.3,647.4 883.8,646.4 883.3,645.4 882.8,644.4 882.2,643.4 881.7,642.4 881.2,641.4 880.7,640.4 880.2,639.4 879.7,638.4 879.2,637.4 878.7,636.4 878.2,635.4 877.7,634.4 877.2,633.4 876.8,632.4 876.3,631.4 875.8,630.4 875.3,629.4 874.9,628.4 874.4,627.4 873.9,626.4 873.4,625.4 873.0,624.4 872.5,623.4 872.0,622.4 871.6,621.4 871.1,620.4 870.6,619.4 870.2,618.4 869.7,617.4 869.3,616.4 868.8,615.4 868.4,614.4 868.0,613.4 867.6,612.4 867.2,611.4 866.8,610.4 866.4,609.4 866.0,608.4 865.6,607.4 865.3,606.4 864.9,605.4 864.5,604.4 864.2,603.4 863.8,602.4 863.5,601.4 863.1,600.4 862.8,599.4 862.5,598.4 862.1,597.4 861.8,596.4 861.5,595.4 861.2,594.4 860.9,593.4 860.6,592.4 860.3,591.4 860.0,590.4 859.7,589.4 859.4,588.4 859.1,587.4 858.9,586.4 858.6,585.4 858.3,584.4 858.0,583.4 857.8,582.4 857.5,581.4 857.3,580.4 857.1,579.4 856.9,578.4 856.7,577.4 856.6,576.4 856.5,575.4 856.4,574.4 856.3,573.4 856.2,572.4 856.2,571.4 856.1,570.4 856.0,569.4 855.9,568.4 855.9,567.4 855.8,566.4 855.7,565.4 855.7,564.4 855.6,563.4 855.6,562.4 855.6,561.5 855.5,560.5 855.5,559.5 855.5,558.5 855.5,557.5 855.5,556.5 855.5,555.5 855.5,554.5 855.6,553.5 855.6,552.5 855.7,551.5 855.7,550.5 855.8,549.5 855.8,548.5 855.9,547.5 855.9,546.5 856.0,545.5 856.0,544.5 856.1,543.5 856.2,542.5 856.2,541.5 856.3,540.5 856.4,539.5 856.5,538.5 856.6,537.5 856.7,536.5 856.8,535.5 856.9,534.5 857.0,533.5 857.1,532.5 857.2,531.5 857.4,530.5 857.5,529.5 857.6,528.5 857.8,527.5 857.9,526.5 858.0,525.5 858.2,524.5 858.3,523.5 858.4,522.5 858.6,521.5 858.7,520.5 858.9,519.5 859.1,518.5 859.2,517.5 859.4,516.5 859.6,515.5 859.8,514.5 860.0,513.5 860.2,512.5 860.5,511.5 860.7,510.5 860.9,509.5 861.1,508.5 861.4,507.5 861.6,506.5 861.9,505.5 862.1,504.5 862.3,503.5 862.6,502.5 862.8,501.5 863.1,500.5 863.3,499.5 863.5,498.5 863.8,497.5 864.0,496.5 864.3,495.5 864.5,494.5 864.7,493.5 864.9,492.5 865.1,491.5 865.4,490.5 865.6,489.5 865.7,488.5 865.9,487.5 866.1,486.5 866.3,485.5 866.5,484.5 866.6,483.5 866.8,482.5 867.0,481.5 867.1,480.5 867.3,479.5 867.5,478.5 867.6,477.5 867.8,476.5 868.0,475.5 868.1,474.5 868.3,473.5 868.4,472.5 868.6,471.5 868.7,470.5 868.9,469.5 869.0,468.5 869.2,467.5 869.3,466.5 869.5,465.5 869.6,464.5 869.8,463.5 869.9,462.5 870.0,461.5 870.2,460.5 870.3,459.5 870.5,458.5 870.6,457.5 870.7,456.5 870.9,455.5 871.0,454.5 871.2,453.5 871.3,452.5 871.4,451.5 871.6,450.5 871.7,449.5 871.8,448.5 872.0,447.5 872.1,446.5 872.2,445.5 872.3,444.5 872.5,443.5 872.6,442.5 872.7,441.5 872.8,440.5 873.0,439.5 873.1,438.5 873.2,437.5 873.3,436.5 873.4,435.5 873.6,434.5 873.7,433.5 873.8,432.5 873.9,431.5 874.0,430.5 874.2,429.5 874.3,428.5 874.4,427.5 874.5,426.5 874.6,425.5 874.8,424.5 874.9,423.5 875.0,422.5 875.1,421.5 875.2,420.5 875.4,419.5 875.5,418.5 875.6,417.5 875.8,416.5 875.9,415.5 876.0,414.5 876.2,413.5 876.3,412.5 876.4,411.5 876.6,410.5 876.7,409.5 876.8,408.5 877.0,407.5 877.1,406.5 877.2,405.5 877.4,404.5 877.5,403.5 877.7,402.5 877.8,401.5 877.9,400.5 878.1,399.5 878.3,398.5 878.4,397.5 878.6,396.5 878.7,395.5 878.9,394.5 879.1,393.5 879.3,392.5 879.4,391.5 879.6,390.5 879.8,389.6 880.0,388.6 880.2,387.6 880.5,386.6 880.7,385.6 880.9,384.6 881.1,383.6 881.3,382.6 881.6,381.6 881.8,380.6 882.0,379.6 882.3,378.6 882.5,377.6 882.8,376.6 883.0,375.6 883.3,374.6 883.5,373.6 883.7,372.6 884.0,371.6 884.2,370.6 884.5,369.6 884.8,368.6 885.0,367.6 885.3,366.6 885.5,365.6 885.8,364.6 886.0,363.6 886.3,362.6 886.5,361.6 886.7,360.6 887.0,359.6 887.2,358.6 887.5,357.6 887.7,356.6 888.0,355.6 888.2,354.6 888.5,353.6 888.8,352.6 889.0,351.6 889.3,350.6 889.6,349.6 889.9,348.6 890.1,347.6 890.4,346.6 890.7,345.6 891.0,344.6 891.2,343.6 891.5,342.6 891.8,341.6 892.1,340.6 892.3,339.6 892.6,338.6 892.9,337.6 893.1,336.6 893.4,335.6 893.6,334.6 893.9,333.6 894.1,332.6 894.4,331.6 894.6,330.6 894.8,329.6 895.0,328.6 895.2,327.6 895.4,326.6 895.6,325.6 895.8,324.6 896.0,323.6 896.2,322.6 896.3,321.6 896.5,320.6 896.7,319.6 896.8,318.6 897.0,317.6 897.2,316.6 897.3,315.6 897.5,314.6 897.7,313.6 897.8,312.6 898.0,311.6 898.1,310.6 898.3,309.6 898.4,308.6 898.6,307.6 898.7,306.6 898.9,305.6 899.0,304.6 899.1,303.6 899.3,302.6 899.4,301.6 899.5,300.6 899.6,299.6 899.7,298.6 899.8,297.6 899.9,296.6 900.0,295.6 900.1,294.6 900.2,293.6 900.3,292.6 900.3,291.6 900.4,290.6 900.4,289.6 900.5,288.6 900.5,287.6 900.5,286.6 900.6,285.6 900.6,284.6 900.6,283.6 900.6,282.6 900.6,281.6 900.7,280.6 900.7,279.6 900.7,278.6 900.7,277.6 900.7,276.6 900.8,275.6 900.8,274.6 900.8,273.6 900.8,272.6 900.8,271.6 900.8,270.6 900.9,269.6 900.9,268.6 900.9,267.6 900.9,266.6 900.9,265.6 900.9,264.6 900.9,263.6 900.9,262.6 900.9,261.6 900.9,260.6 900.9,259.6 900.9,258.6 900.9,257.6 900.8,256.6 900.8,255.6 900.8,254.6 900.8,253.6 900.7,252.6 900.7,251.6 900.6,250.6 900.6,249.6 900.5,248.6 900.5,247.6 900.4,246.6 900.4,245.6 900.3,244.6 900.2,243.6 900.2,242.6 900.1,241.6 900.0,240.6 899.9,239.6 899.9,238.6 899.8,237.6 899.7,236.6 899.7,235.6 899.6,234.6 899.5,233.6 899.4,232.6 899.4,231.6 899.3,230.6 899.2,229.6 899.2,228.6 899.1,227.6 899.0,226.6 899.0,225.6 898.9,224.6 898.8,223.6 898.8,222.6 898.7,221.6 898.7,220.6 898.6,219.6 898.6,218.6 898.5,217.6 898.5,216.7 898.5,215.7 898.4,214.7 898.4,213.7 898.4,212.7 898.3,211.7 898.3,210.7 898.3,209.7 898.2,208.7 898.2,207.7 898.2,206.7 898.1,205.7 898.1,204.7 898.1,203.7 898.0,202.7 898.0,201.7 898.0,200.7 897.9,199.7 897.9,198.7 897.9,197.7 897.8,196.7 897.8,195.7 897.8,194.7 897.7,193.7 897.7,192.7 897.7,191.7 897.7,190.7 897.6,189.7 897.6,188.7 897.6,187.7 897.6,186.7 897.5,185.7 897.5,184.7 897.5,183.7 897.5,182.7 897.5,181.7 897.5,180.7 897.4,179.7 897.4,178.7 897.4,177.7 897.4,176.7 897.4,175.7 897.4,174.7 897.4,173.7 897.4,172.7 897.4,171.7 897.4,170.7 897.4,169.7 897.4,168.7 897.4,167.7 897.5,166.7 897.5,165.7 897.5,164.7 897.5,163.7 897.5,162.7 897.6,161.7 897.6,160.7 897.6,159.7 897.7,158.7 897.7,157.7 897.7,156.7 897.8,155.7 897.8,154.7 897.9,153.7 897.9,152.7 897.9,151.7 898.0,150.7 898.0,149.7 898.1,148.7 898.1,147.7 898.1,146.7 898.2,145.7 898.2,144.7 898.3,143.7 898.4,142.7 898.4,141.7 898.5,140.7 898.5,139.7 898.6,138.7 898.6,137.7 898.7,136.7 898.8,135.7 898.8,134.7 898.9,133.7 898.9,132.7 899.0,131.7Z" fill="#ff867b"/>
<path d="M914.0,131.7 914.1,132.7 914.1,133.7 914.2,134.7 914.2,135.7 914.3,136.7 914.4,137.7 914.4,138.7 914.5,139.7 914.5,140.7 914.6,141.7 914.6,142.7 914.7,143.7 914.8,144.7 914.8,145.7 914.9,146.7 914.9,147.7 914.9,148.7 915.0,149.7 915.0,150.7 915.1,151.7 915.1,152.7 915.1,153.7 915.2,154.7 915.2,155.7 915.3,156.7 915.3,157.7 915.3,158.7 915.4,159.7 915.4,160.7 915.4,161.7 915.5,162.7 915.5,163.7 915.5,164.7 915.5,165.7 915.5,166.7 915.6,167.7 915.6,168.7 915.6,169.7 915.6,170.7 915.6,171.7 915.6,172.7 915.6,173.7 915.6,174.7 915.6,175.7 915.6,176.7 915.6,177.7 915.6,178.7 915.6,179.7 915.5,180.7 915.5,181.7 915.5,182.7 915.5,183.7 915.5,184.7 915.5,185.7 915.4,186.7 915.4,187.7 915.4,188.7 915.4,189.7 915.3,190.7 915.3,191.7 915.3,192.7 915.3,193.7 915.2,194.7 915.2,195.7 915.2,196.7 915.1,197.7 915.1,198.7 915.1,199.7 915.0,200.7 915.0,201.7 915.0,202.7 914.9,203.7 914.9,204.7 914.9,205.7 914.8,206.7 914.8,207.7 914.8,208.7 914.7,209.7 914.7,210.7 914.7,211.7 914.6,212.7 914.6,213.7 914.6,214.7 914.5,215.7 914.5,216.7 914.5,217.6 914.4,218.6 914.4,219.6 914.3,220.6 914.3,221.6 914.2,222.6 914.2,223.6 914.1,224.6 914.0,225.6 914.0,226.6 913.9,227.6 913.8,228.6 913.8,229.6 913.7,230.6 913.6,231.6 913.6,232.6 913.5,233.6 913.4,234.6 913.3,235.6 913.3,236.6 913.2,237.6 913.1,238.6 913.1,239.6 913.0,240.6 912.9,241.6 912.8,242.6 912.8,243.6 912.7,244.6 912.6,245.6 912.6,246.6 912.5,247.6 912.5,248.6 912.4,249.6 912.4,250.6 912.3,251.6 912.3,252.6 912.2,253.6 912.2,254.6 912.2,255.6 912.2,256.6 912.1,257.6 912.1,258.6 912.1,259.6 912.1,260.6 912.1,261.6 912.1,262.6 912.1,263.6 912.1,264.6 912.1,265.6 912.1,266.6 912.1,267.6 912.1,268.6 912.1,269.6 912.2,270.6 912.2,271.6 912.2,272.6 912.2,273.6 912.2,274.6 912.2,275.6 912.3,276.6 912.3,277.6 912.3,278.6 912.3,279.6 912.3,280.6 912.4,281.6 912.4,282.6 912.4,283.6 912.4,284.6 912.4,285.6 912.5,286.6 912.5,287.6 912.5,288.6 912.6,289.6 912.6,290.6 912.7,291.6 912.7,292.6 912.8,293.6 912.9,294.6 913.0,295.6 913.1,296.6 913.2,297.6 913.3,298.6 913.4,299.6 913.5,300.6 913.6,301.6 913.7,302.6 913.9,303.6 914.0,304.6 914.1,305.6 914.3,306.6 914.4,307.6 914.6,308.6 914.7,309.6 914.9,310.6 915.0,311.6 915.2,312.6 915.3,313.6 915.5,314.6 915.7,315.6 915.8,316.6 916.0,317.6 916.2,318.6 916.3,319.6 916.5,320.6 916.7,321.6 916.8,322.6 917.0,323.6 917.2,324.6 917.4,325.6 917.6,326.6 917.8,327.6 918.0,328.6 918.2,329.6 918.4,330.6 918.6,331.6 918.9,332.6 919.1,333.6 919.4,334.6 919.6,335.6 919.9,336.6 920.1,337.6 920.4,338.6 920.7,339.6 920.9,340.6 921.2,341.6 921.5,342.6 921.8,343.6 922.0,344.6 922.3,345.6 922.6,346.6 922.9,347.6 923.1,348.6 923.4,349.6 923.7,350.6 924.0,351.6 924.2,352.6 924.5,353.6 924.8,354.6 925.0,355.6 925.3,356.6 925.5,357.6 925.8,358.6 926.0,359.6 926.3,360.6 926.5,361.6 926.7,362.6 927.0,363.6 927.2,364.6 927.5,365.6 927.7,366.6 928.0,367.6 928.2,368.6 928.5,369.6 928.8,370.6 929.0,371.6 929.3,372.6 929.5,373.6 929.7,374.6 930.0,375.6 930.2,376.6 930.5,377.6 930.7,378.6 931.0,379.6 931.2,380.6 931.4,381.6 931.7,382.6 931.9,383.6 932.1,384.6 932.3,385.6 932.5,386.6 932.8,387.6 933.0,388.6 933.2,389.6 933.4,390.5 933.6,391.5 933.7,392.5 933.9,393.5 934.1,394.5 934.3,395.5 934.4,396.5 934.6,397.5 934.7,398.5 934.9,399.5 935.1,400.5 935.2,401.5 935.3,402.5 935.5,403.5 935.6,404.5 935.8,405.5 935.9,406.5 936.0,407.5 936.2,408.5 936.3,409.5 936.4,410.5 936.6,411.5 936.7,412.5 936.8,413.5 937.0,414.5 937.1,415.5 937.2,416.5 937.4,417.5 937.5,418.5 937.6,419.5 937.8,420.5 937.9,421.5 938.0,422.5 938.1,423.5 938.2,424.5 938.4,425.5 938.5,426.5 938.6,427.5 938.7,428.5 938.8,429.5 939.0,430.5 939.1,431.5 939.2,432.5 939.3,433.5 939.4,434.5 939.6,435.5 939.7,436.5 939.8,437.5 939.9,438.5 940.0,439.5 940.2,440.5 940.3,441.5 940.4,442.5 940.5,443.5 940.7,444.5 940.8,445.5 940.9,446.5 941.0,447.5 941.2,448.5 941.3,449.5 941.4,450.5 941.6,451.5 941.7,452.5 941.8,453.5 942.0,454.5 942.1,455.5 942.3,456.5 942.4,457.5 942.5,458.5 942.7,459.5 942.8,460.5 943.0,461.5 943.1,462.5 943.2,463.5 943.4,464.5 943.5,465.5 943.7,466.5 943.8,467.5 944.0,468.5 944.1,469.5 944.3,470.5 944.4,471.5 944.6,472.5 944.7,473.5 944.9,474.5 945.0,475.5 945.2,476.5 945.4,477.5 945.5,478.5 945.7,479.5 945.9,480.5 946.0,481.5 946.2,482.5 946.4,483.5 946.5,484.5 946.7,485.5 946.9,486.5 947.1,487.5 947.3,488.5 947.4,489.5 947.6,490.5 947.9,491.5 948.1,492.5 948.3,493.5 948.5,494.5 948.7,495.5 949.0,496.5 949.2,497.5 949.5,498.5 949.7,499.5 949.9,500.5 950.2,501.5 950.4,502.5 950.7,503.5 950.9,504.5 951.1,505.5 951.4,506.5 951.6,507.5 951.9,508.5 952.1,509.5 952.3,510.5 952.5,511.5 952.8,512.5 953.0,513.5 953.2,514.5 953.4,515.5 953.6,516.5 953.8,517.5 953.9,518.5 954.1,519.5 954.3,520.5 954.4,521.5 954.6,522.5 954.7,523.5 954.8,524.5 955.0,525.5 955.1,526.5 955.2,527.5 955.4,528.5 955.5,529.5 955.6,530.5 955.8,531.5 955.9,532.5 956.0,533.5 956.1,534.5 956.2,535.5 956.3,536.5 956.4,537.5 956.5,538.5 956.6,539.5 956.7,540.5 956.8,541.5 956.8,542.5 956.9,543.5 957.0,544.5 957.0,545.5 957.1,546.5 957.1,547.5 957.2,548.5 957.2,549.5 957.3,550.5 957.3,551.5 957.4,552.5 957.4,553.5 957.5,554.5 957.5,555.5 957.5,556.5 957.5,557.5 957.5,558.5 957.5,559.5 957.5,560.5 957.4,561.5 957.4,562.4 957.4,563.4 957.3,564.4 957.3,565.4 957.2,566.4 957.1,567.4 957.1,568.4 957.0,569.4 956.9,570.4 956.8,571.4 956.8,572.4 956.7,573.4 956.6,574.4 956.5,575.4 956.4,576.4 956.3,577.4 956.1,578.4 955.9,579.4 955.7,580.4 955.5,581.4 955.2,582.4 955.0,583.4 954.7,584.4 954.4,585.4 954.1,586.4 953.9,587.4 953.6,588.4 953.3,589.4 953.0,590.4 952.7,591.4 952.4,592.4 952.1,593.4 951.8,594.4 951.5,595.4 951.2,596.4 950.9,597.4 950.5,598.4 950.2,599.4 949.9,600.4 949.5,601.4 949.2,602.4 948.8,603.4 948.5,604.4 948.1,605.4 947.7,606.4 947.4,607.4 947.0,608.4 946.6,609.4 946.2,610.4 945.8,611.4 945.4,612.4 945.0,613.4 944.6,614.4 944.2,615.4 943.7,616.4 943.3,617.4 942.8,618.4 942.4,619.4 941.9,620.4 941.4,621.4 941.0,622.4 940.5,623.4 940.0,624.4 939.6,625.4 939.1,626.4 938.6,627.4 938.1,628.4 937.7,629.4 937.2,630.4 936.7,631.4 936.2,632.4 935.8,633.4 935.3,634.4 934.8,635.4 934.3,636.4 933.8,637.4 933.3,638.4 932.8,639.4 932.3,640.4 931.8,641.4 931.3,642.4 930.8,643.4 930.2,644.4 929.7,645.4 929.2,646.4 928.7,647.4 M884.3,647.4 883.8,646.4 883.3,645.4 882.8,644.4 882.2,643.4 881.7,642.4 881.2,641.4 880.7,640.4 880.2,639.4 879.7,638.4 879.2,637.4 878.7,636.4 878.2,635.4 877.7,634.4 877.2,633.4 876.8,632.4 876.3,631.4 875.8,630.4 875.3,629.4 874.9,628.4 874.4,627.4 873.9,626.4 873.4,625.4 873.0,624.4 872.5,623.4 872.0,622.4 871.6,621.4 871.1,620.4 870.6,619.4 870.2,618.4 869.7,617.4 869.3,616.4 868.8,615.4 868.4,614.4 868.0,613.4 867.6,612.4 867.2,611.4 866.8,610.4 866.4,609.4 866.0,608.4 865.6,607.4 865.3,606.4 864.9,605.4 864.5,604.4 864.2,603.4 863.8,602.4 863.5,601.4 863.1,600.4 862.8,599.4 862.5,598.4 862.1,597.4 861.8,596.4 861.5,595.4 861.2,594.4 860.9,593.4 860.6,592.4 860.3,591.4 860.0,590.4 859.7,589.4 859.4,588.4 859.1,587.4 858.9,586.4 858.6,585.4 858.3,584.4 858.0,583.4 857.8,582.4 857.5,581.4 857.3,580.4 857.1,579.4 856.9,578.4 856.7,577.4 856.6,576.4 856.5,575.4 856.4,574.4 856.3,573.4 856.2,572.4 856.2,571.4 856.1,570.4 856.0,569.4 855.9,568.4 855.9,567.4 855.8,566.4 855.7,565.4 855.7,564.4 855.6,563.4 855.6,562.4 855.6,561.5 855.5,560.5 855.5,559.5 855.5,558.5 855.5,557.5 855.5,556.5 855.5,555.5 855.5,554.5 855.6,553.5 855.6,552.5 855.7,551.5 855.7,550.5 855.8,549.5 855.8,548.5 855.9,547.5 855.9,546.5 856.0,545.5 856.0,544.5 856.1,543.5 856.2,542.5 856.2,541.5 856.3,540.5 856.4,539.5 856.5,538.5 856.6,537.5 856.7,536.5 856.8,535.5 856.9,534.5 857.0,533.5 857.1,532.5 857.2,531.5 857.4,530.5 857.5,529.5 857.6,528.5 857.8,527.5 857.9,526.5 858.0,525.5 858.2,524.5 858.3,523.5 858.4,522.5 858.6,521.5 858.7,520.5 858.9,519.5 859.1,518.5 859.2,517.5 859.4,516.5 859.6,515.5 859.8,514.5 860.0,513.5 860.2,512.5 860.5,511.5 860.7,510.5 860.9,509.5 861.1,508.5 861.4,507.5 861.6,506.5 861.9,505.5 862.1,504.5 862.3,503.5 862.6,502.5 862.8,501.5 863.1,500.5 863.3,499.5 863.5,498.5 863.8,497.5 864.0,496.5 864.3,495.5 864.5,494.5 864.7,493.5 864.9,492.5 865.1,491.5 865.4,490.5 865.6,489.5 865.7,488.5 865.9,487.5 866.1,486.5 866.3,485.5 866.5,484.5 866.6,483.5 866.8,482.5 867.0,481.5 867.1,480.5 867.3,479.5 867.5,478.5 867.6,477.5 867.8,476.5 868.0,475.5 868.1,474.5 868.3,473.5 868.4,472.5 868.6,471.5 868.7,470.5 868.9,469.5 869.0,468.5 869.2,467.5 869.3,466.5 869.5,465.5 869.6,464.5 869.8,463.5 869.9,462.5 870.0,461.5 870.2,460.5 870.3,459.5 870.5,458.5 870.6,457.5 870.7,456.5 870.9,455.5 871.0,454.5 871.2,453.5 871.3,452.5 871.4,451.5 871.6,450.5 871.7,449.5 871.8,448.5 872.0,447.5 872.1,446.5 872.2,445.5 872.3,444.5 872.5,443.5 872.6,442.5 872.7,441.5 872.8,440.5 873.0,439.5 873.1,438.5 873.2,437.5 873.3,436.5 873.4,435.5 873.6,434.5 873.7,433.5 873.8,432.5 873.9,431.5 874.0,430.5 874.2,429.5 874.3,428.5 874.4,427.5 874.5,426.5 874.6,425.5 874.8,424.5 874.9,423.5 875.0,422.5 875.1,421.5 875.2,420.5 875.4,419.5 875.5,418.5 875.6,417.5 875.8,416.5 875.9,415.5 876.0,414.5 876.2,413.5 876.3,412.5 876.4,411.5 876.6,410.5 876.7,409.5 876.8,408.5 877.0,407.5 877.1,406.5 877.2,405.5 877.4,404.5 877.5,403.5 877.7,402.5 877.8,401.5 877.9,400.5 878.1,399.5 878.3,398.5 878.4,397.5 878.6,396.5 878.7,395.5 878.9,394.5 879.1,393.5 879.3,392.5 879.4,391.5 879.6,390.5 879.8,389.6 880.0,388.6 880.2,387.6 880.5,386.6 880.7,385.6 880.9,384.6 881.1,383.6 881.3,382.6 881.6,381.6 881.8,380.6 882.0,379.6 882.3,378.6 882.5,377.6 882.8,376.6 883.0,375.6 883.3,374.6 883.5,373.6 883.7,372.6 884.0,371.6 884.2,370.6 884.5,369.6 884.8,368.6 885.0,367.6 885.3,366.6 885.5,365.6 885.8,364.6 886.0,363.6 886.3,362.6 886.5,361.6 886.7,360.6 887.0,359.6 887.2,358.6 887.5,357.6 887.7,356.6 888.0,355.6 888.2,354.6 888.5,353.6 888.8,352.6 889.0,351.6 889.3,350.6 889.6,349.6 889.9,348.6 890.1,347.6 890.4,346.6 890.7,345.6 891.0,344.6 891.2,343.6 891.5,342.6 891.8,341.6 892.1,340.6 892.3,339.6 892.6,338.6 892.9,337.6 893.1,336.6 893.4,335.6 893.6,334.6 893.9,333.6 894.1,332.6 894.4,331.6 894.6,330.6 894.8,329.6 895.0,328.6 895.2,327.6 895.4,326.6 895.6,325.6 895.8,324.6 896.0,323.6 896.2,322.6 896.3,321.6 896.5,320.6 896.7,319.6 896.8,318.6 897.0,317.6 897.2,316.6 897.3,315.6 897.5,314.6 897.7,313.6 897.8,312.6 898.0,311.6 898.1,310.6 898.3,309.6 898.4,308.6 898.6,307.6 898.7,306.6 898.9,305.6 899.0,304.6 899.1,303.6 899.3,302.6 899.4,301.6 899.5,300.6 899.6,299.6 899.7,298.6 899.8,297.6 899.9,296.6 900.0,295.6 900.1,294.6 900.2,293.6 900.3,292.6 900.3,291.6 900.4,290.6 900.4,289.6 900.5,288.6 900.5,287.6 900.5,286.6 900.6,285.6 900.6,284.6 900.6,283.6 900.6,282.6 900.6,281.6 900.7,280.6 900.7,279.6 900.7,278.6 900.7,277.6 900.7,276.6 900.8,275.6 900.8,274.6 900.8,273.6 900.8,272.6 900.8,271.6 900.8,270.6 900.9,269.6 900.9,268.6 900.9,267.6 900.9,266.6 900.9,265.6 900.9,264.6 900.9,263.6 900.9,262.6 900.9,261.6 900.9,260.6 900.9,259.6 900.9,258.6 900.9,257.6 900.8,256.6 900.8,255.6 900.8,254.6 900.8,253.6 900.7,252.6 900.7,251.6 900.6,250.6 900.6,249.6 900.5,248.6 900.5,247.6 900.4,246.6 900.4,245.6 900.3,244.6 900.2,243.6 900.2,242.6 900.1,241.6 900.0,240.6 899.9,239.6 899.9,238.6 899.8,237.6 899.7,236.6 899.7,235.6 899.6,234.6 899.5,233.6 899.4,232.6 899.4,231.6 899.3,230.6 899.2,229.6 899.2,228.6 899.1,227.6 899.0,226.6 899.0,225.6 898.9,224.6 898.8,223.6 898.8,222.6 898.7,221.6 898.7,220.6 898.6,219.6 898.6,218.6 898.5,217.6 898.5,216.7 898.5,215.7 898.4,214.7 898.4,213.7 898.4,212.7 898.3,211.7 898.3,210.7 898.3,209.7 898.2,208.7 898.2,207.7 898.2,206.7 898.1,205.7 898.1,204.7 898.1,203.7 898.0,202.7 898.0,201.7 898.0,200.7 897.9,199.7 897.9,198.7 897.9,197.7 897.8,196.7 897.8,195.7 897.8,194.7 897.7,193.7 897.7,192.7 897.7,191.7 897.7,190.7 897.6,189.7 897.6,188.7 897.6,187.7 897.6,186.7 897.5,185.7 897.5,184.7 897.5,183.7 897.5,182.7 897.5,181.7 897.5,180.7 897.4,179.7 897.4,178.7 897.4,177.7 897.4,176.7 897.4,175.7 897.4,174.7 897.4,173.7 897.4,172.7 897.4,171.7 897.4,170.7 897.4,169.7 897.4,168.7 897.4,167.7 897.5,166.7 897.5,165.7 897.5,164.7 897.5,163.7 897.5,162.7 897.6,161.7 897.6,160.7 897.6,159.7 897.7,158.7 897.7,157.7 897.7,156.7 897.8,155.7 897.8,154.7 897.9,153.7 897.9,152.7 897.9,151.7 898.0,150.7 898.0,149.7 898.1,148.7 898.1,147.7 898.1,146.7 898.2,145.7 898.2,144.7 898.3,143.7 898.4,142.7 898.4,141.7 898.5,140.7 898.5,139.7 898.6,138.7 898.6,137.7 898.7,136.7 898.8,135.7 898.8,134.7 898.9,133.7 898.9,132.7 899.0,131.7" fill="none" stroke="#ff6a5c" stroke-width="1.6" stroke-linejoin="round"/>
<line x1="906.5" y1="176.8" x2="906.5" y2="602" stroke="#ad483e" stroke-width="3.4" stroke-dasharray="4.0 4.10" stroke-dashoffset="0.00"/>
<path d="M906.5,163.8 L914.5,171.8 L906.5,179.8 L898.5,171.8Z" fill="#000"/>
<path d="M906.5,405.8 L914.5,413.8 L906.5,421.8 L898.5,413.8Z" fill="#000"/>
<path d="M906.5,531.4 L914.5,539.4 L906.5,547.4 L898.5,539.4Z" fill="#000"/>
<path d="M906.5,570.4 L914.5,578.4 L906.5,586.4 L898.5,578.4Z" fill="#000"/>
<path d="M906.5,597.3 L914.5,605.3 L906.5,613.3 L898.5,605.3Z" fill="#000"/>
<path d="M1109,651.3 H1169" stroke="#c79bd8" stroke-width="1.8"/>
<path d="M1138.5,637.8 L1146.5,645.8 L1138.5,653.8 L1130.5,645.8Z" fill="#000"/>
<path d="M1138.5,644.3 L1146.5,652.3 L1138.5,660.3 L1130.5,652.3Z" fill="#000"/>
<path d="M1322,651.3 H1421" stroke="#c4837a" stroke-width="1.8"/>
<path d="M1370.4,643.6 L1378.4,651.6 L1370.4,659.6 L1362.4,651.6Z" fill="#000"/>
<path d="M98.1,989.3 V1692.0" stroke="#323232" stroke-width="2.3" fill="none"/>
<path d="M87.6,1691.0 H1528" stroke="#323232" stroke-width="2.3" fill="none"/>
<path d="M87.6,990.3 H98.1" stroke="#323232" stroke-width="2.3"/>
<path d="M87.6,1131.3 H98.1" stroke="#323232" stroke-width="2.3"/>
<path d="M87.6,1272.3 H98.1" stroke="#323232" stroke-width="2.3"/>
<path d="M87.6,1411.3 H98.1" stroke="#323232" stroke-width="2.3"/>
<path d="M87.6,1552.3 H98.1" stroke="#323232" stroke-width="2.3"/>
<text transform="translate(66.00,1000.4) scale(1.0422,1)" font-size="28" text-anchor="end" fill="#141414">400</text>
<text transform="translate(66.03,1139.2) scale(1.0214,1)" font-size="28" text-anchor="end" fill="#141414">300</text>
<text transform="translate(66.03,1280.0) scale(1.0384,1)" font-size="28" text-anchor="end" fill="#141414">200</text>
<text transform="translate(66.03,1419.2) scale(1.0448,1)" font-size="28" text-anchor="end" fill="#141414">100</text>
<text transform="translate(66.10,1560.0) scale(1.0821,1)" font-size="28" text-anchor="end" fill="#141414">0</text>
<text transform="translate(65.95,1699.0) scale(1.0475,1)" font-size="28" text-anchor="end" fill="#141414">-100</text>
<path d="M217.7,1691.0 V1701.5" stroke="#323232" stroke-width="2.3"/>
<path d="M455.9,1691.0 V1701.5" stroke="#323232" stroke-width="2.3"/>
<path d="M694.0,1691.0 V1701.5" stroke="#323232" stroke-width="2.3"/>
<path d="M932.2,1691.0 V1701.5" stroke="#323232" stroke-width="2.3"/>
<path d="M1170.5,1691.0 V1701.5" stroke="#323232" stroke-width="2.3"/>
<path d="M1408.7,1691.0 V1701.5" stroke="#323232" stroke-width="2.3"/>
<text transform="translate(218.50,1734.9) scale(1.0045,1)" font-size="29" text-anchor="middle" fill="#141414">P-tau181(normal)</text>
<text transform="translate(456.23,1734.9) scale(0.9893,1)" font-size="29" text-anchor="middle" fill="#141414">P-tau181(AD)</text>
<text transform="translate(694.77,1734.9) scale(1.0081,1)" font-size="29" text-anchor="middle" fill="#141414">P-tau217(normal)</text>
<text transform="translate(932.30,1734.9) scale(0.9957,1)" font-size="29" text-anchor="middle" fill="#141414">P-tau217(AD)</text>
<text transform="translate(1171.33,1734.9) scale(0.9668,1)" font-size="29" text-anchor="middle" fill="#141414">GFAP(normal)</text>
<text transform="translate(1409.50,1734.9) scale(0.9219,1)" font-size="29" text-anchor="middle" fill="#141414">GFAP(AD)</text>
<text transform="translate(768.20,935.2) scale(1.0019,1)" font-size="44.2" text-anchor="middle" fill="#141414">Violin Diagram</text>
<path d="M225.7,1539.7 225.8,1540.0 225.9,1540.3 226.0,1540.6 226.1,1540.9 226.2,1541.2 226.4,1541.5 226.6,1541.8 226.8,1542.1 227.2,1542.4 227.8,1542.7 228.6,1543.0 229.6,1543.3 231.7,1543.6 234.5,1543.9 237.7,1544.2 240.5,1544.5 243.5,1544.8 246.5,1545.1 249.4,1545.4 252.1,1545.7 254.9,1546.0 257.4,1546.3 259.2,1546.6 260.4,1546.9 261.1,1547.2 261.0,1547.5 260.0,1547.8 258.8,1548.1 256.9,1548.4 254.6,1548.7 252.0,1549.0 249.5,1549.3 246.9,1549.6 244.0,1549.9 240.8,1550.2 236.8,1550.5 232.0,1550.8 228.1,1551.1 225.2,1551.4 L209.2,1551.4 206.3,1551.1 202.4,1550.8 197.6,1550.5 193.6,1550.2 190.4,1549.9 187.5,1549.6 184.9,1549.3 182.4,1549.0 179.8,1548.7 177.5,1548.4 175.6,1548.1 174.4,1547.8 173.4,1547.5 173.3,1547.2 174.0,1546.9 175.2,1546.6 177.0,1546.3 179.5,1546.0 182.3,1545.7 185.0,1545.4 187.9,1545.1 190.9,1544.8 193.9,1544.5 196.7,1544.2 199.9,1543.9 202.7,1543.6 204.8,1543.3 205.8,1543.0 206.6,1542.7 207.2,1542.4 207.6,1542.1 207.8,1541.8 208.0,1541.5 208.2,1541.2 208.3,1540.9 208.4,1540.6 208.5,1540.3 208.6,1540.0 208.7,1539.7Z" fill="#74a9d6"/>
<path d="M225.7,1539.7 225.8,1540.0 225.9,1540.3 226.0,1540.6 226.1,1540.9 226.2,1541.2 226.4,1541.5 226.6,1541.8 226.8,1542.1 227.2,1542.4 227.8,1542.7 228.6,1543.0 229.6,1543.3 231.7,1543.6 234.5,1543.9 237.7,1544.2 240.5,1544.5 243.5,1544.8 246.5,1545.1 249.4,1545.4 252.1,1545.7 254.9,1546.0 257.4,1546.3 259.2,1546.6 260.4,1546.9 261.1,1547.2 261.0,1547.5 260.0,1547.8 258.8,1548.1 256.9,1548.4 254.6,1548.7 252.0,1549.0 249.5,1549.3 246.9,1549.6 244.0,1549.9 240.8,1550.2 236.8,1550.5 232.0,1550.8 228.1,1551.1 225.2,1551.4 M209.2,1551.4 206.3,1551.1 202.4,1550.8 197.6,1550.5 193.6,1550.2 190.4,1549.9 187.5,1549.6 184.9,1549.3 182.4,1549.0 179.8,1548.7 177.5,1548.4 175.6,1548.1 174.4,1547.8 173.4,1547.5 173.3,1547.2 174.0,1546.9 175.2,1546.6 177.0,1546.3 179.5,1546.0 182.3,1545.7 185.0,1545.4 187.9,1545.1 190.9,1544.8 193.9,1544.5 196.7,1544.2 199.9,1543.9 202.7,1543.6 204.8,1543.3 205.8,1543.0 206.6,1542.7 207.2,1542.4 207.6,1542.1 207.8,1541.8 208.0,1541.5 208.2,1541.2 208.3,1540.9 208.4,1540.6 208.5,1540.3 208.6,1540.0 208.7,1539.7" fill="none" stroke="#5f9fd3" stroke-width="1.7" stroke-linejoin="round"/>
<path d="M217.2,1532.9 L225.8,1541.5 L217.2,1550.1 L208.6,1541.5Z" fill="#000"/>
<path d="M217.2,1536.4 L225.8,1545.0 L217.2,1553.6 L208.6,1545.0Z" fill="#000"/>
<path d="M217.2,1539.4 L225.8,1548.0 L217.2,1556.6 L208.6,1548.0Z" fill="#000"/>
<path d="M217.2,1542.9 L225.8,1551.5 L217.2,1560.1 L208.6,1551.5Z" fill="#000"/>
<path d="M463.6,1534.2 465.1,1534.5 466.6,1534.8 468.1,1535.1 469.6,1535.4 471.1,1535.7 472.6,1536.0 474.1,1536.3 475.5,1536.6 476.9,1536.9 478.3,1537.2 479.6,1537.5 480.9,1537.8 482.2,1538.1 483.5,1538.4 484.8,1538.7 486.0,1539.0 487.2,1539.3 488.4,1539.6 489.7,1539.9 490.9,1540.2 492.2,1540.5 493.4,1540.8 494.3,1541.1 495.0,1541.4 495.5,1541.7 495.5,1542.1 495.0,1542.4 494.3,1542.7 493.4,1543.0 492.2,1543.3 490.9,1543.6 489.7,1543.9 488.4,1544.2 487.2,1544.5 486.0,1544.8 484.7,1545.1 483.4,1545.4 482.2,1545.7 480.9,1546.0 479.6,1546.3 478.3,1546.6 477.0,1546.9 475.6,1547.2 474.3,1547.5 473.0,1547.8 471.7,1548.1 470.3,1548.4 469.0,1548.7 467.6,1549.0 466.3,1549.3 464.9,1549.6 463.6,1549.9 L447.6,1549.9 446.3,1549.6 444.9,1549.3 443.6,1549.0 442.2,1548.7 440.9,1548.4 439.5,1548.1 438.2,1547.8 436.9,1547.5 435.6,1547.2 434.2,1546.9 432.9,1546.6 431.6,1546.3 430.3,1546.0 429.0,1545.7 427.8,1545.4 426.5,1545.1 425.2,1544.8 424.0,1544.5 422.8,1544.2 421.5,1543.9 420.3,1543.6 419.0,1543.3 417.8,1543.0 416.9,1542.7 416.2,1542.4 415.7,1542.1 415.7,1541.7 416.2,1541.4 416.9,1541.1 417.8,1540.8 419.0,1540.5 420.3,1540.2 421.5,1539.9 422.8,1539.6 424.0,1539.3 425.2,1539.0 426.4,1538.7 427.7,1538.4 429.0,1538.1 430.3,1537.8 431.6,1537.5 432.9,1537.2 434.3,1536.9 435.7,1536.6 437.1,1536.3 438.6,1536.0 440.1,1535.7 441.6,1535.4 443.1,1535.1 444.6,1534.8 446.1,1534.5 447.6,1534.2Z" fill="#fda866"/>
<path d="M463.6,1534.2 465.1,1534.5 466.6,1534.8 468.1,1535.1 469.6,1535.4 471.1,1535.7 472.6,1536.0 474.1,1536.3 475.5,1536.6 476.9,1536.9 478.3,1537.2 479.6,1537.5 480.9,1537.8 482.2,1538.1 483.5,1538.4 484.8,1538.7 486.0,1539.0 487.2,1539.3 488.4,1539.6 489.7,1539.9 490.9,1540.2 492.2,1540.5 493.4,1540.8 494.3,1541.1 495.0,1541.4 495.5,1541.7 495.5,1542.1 495.0,1542.4 494.3,1542.7 493.4,1543.0 492.2,1543.3 490.9,1543.6 489.7,1543.9 488.4,1544.2 487.2,1544.5 486.0,1544.8 484.7,1545.1 483.4,1545.4 482.2,1545.7 480.9,1546.0 479.6,1546.3 478.3,1546.6 477.0,1546.9 475.6,1547.2 474.3,1547.5 473.0,1547.8 471.7,1548.1 470.3,1548.4 469.0,1548.7 467.6,1549.0 466.3,1549.3 464.9,1549.6 463.6,1549.9 M447.6,1549.9 446.3,1549.6 444.9,1549.3 443.6,1549.0 442.2,1548.7 440.9,1548.4 439.5,1548.1 438.2,1547.8 436.9,1547.5 435.6,1547.2 434.2,1546.9 432.9,1546.6 431.6,1546.3 430.3,1546.0 429.0,1545.7 427.8,1545.4 426.5,1545.1 425.2,1544.8 424.0,1544.5 422.8,1544.2 421.5,1543.9 420.3,1543.6 419.0,1543.3 417.8,1543.0 416.9,1542.7 416.2,1542.4 415.7,1542.1 415.7,1541.7 416.2,1541.4 416.9,1541.1 417.8,1540.8 419.0,1540.5 420.3,1540.2 421.5,1539.9 422.8,1539.6 424.0,1539.3 425.2,1539.0 426.4,1538.7 427.7,1538.4 429.0,1538.1 430.3,1537.8 431.6,1537.5 432.9,1537.2 434.3,1536.9 435.7,1536.6 437.1,1536.3 438.6,1536.0 440.1,1535.7 441.6,1535.4 443.1,1535.1 444.6,1534.8 446.1,1534.5 447.6,1534.2" fill="none" stroke="#fc9a48" stroke-width="1.7" stroke-linejoin="round"/>
<path d="M455.6,1528.9 L464.2,1537.5 L455.6,1546.1 L447.0,1537.5Z" fill="#000"/>
<path d="M455.6,1532.9 L464.2,1541.5 L455.6,1550.1 L447.0,1541.5Z" fill="#000"/>
<path d="M455.6,1535.9 L464.2,1544.5 L455.6,1553.1 L447.0,1544.5Z" fill="#000"/>
<path d="M455.6,1539.9 L464.2,1548.5 L455.6,1557.1 L447.0,1548.5Z" fill="#000"/>
<path d="M694.5,1487.0 694.7,1487.2 694.8,1487.5 695.0,1487.7 695.2,1488.0 695.3,1488.2 695.5,1488.5 695.6,1488.7 695.6,1489.0 695.6,1489.2 695.6,1489.5 695.6,1489.7 695.6,1490.0 695.6,1490.2 695.6,1490.5 695.6,1490.7 695.6,1491.0 695.6,1491.2 695.6,1491.5 695.6,1491.7 695.6,1492.0 695.6,1492.2 695.6,1492.5 695.6,1492.7 695.6,1493.0 695.6,1493.2 695.6,1493.5 695.6,1493.7 695.6,1494.0 695.6,1494.2 695.6,1494.5 695.6,1494.7 695.6,1495.0 695.6,1495.2 695.6,1495.5 695.6,1495.7 695.6,1496.0 695.6,1496.2 695.6,1496.5 695.6,1496.7 695.6,1497.0 695.6,1497.2 695.6,1497.5 695.6,1497.7 695.6,1498.0 695.6,1498.2 695.6,1498.5 695.6,1498.7 695.6,1499.0 695.6,1499.2 695.6,1499.5 695.6,1499.7 695.6,1500.0 695.6,1500.2 695.6,1500.5 695.6,1500.7 695.6,1501.0 695.6,1501.2 695.6,1501.5 695.6,1501.7 695.6,1502.0 695.6,1502.2 695.6,1502.5 695.6,1502.7 695.6,1503.0 695.6,1503.2 695.6,1503.5 695.6,1503.7 695.6,1504.0 695.6,1504.2 695.6,1504.5 695.6,1504.7 695.6,1505.0 695.6,1505.2 695.6,1505.5 695.6,1505.7 695.6,1506.0 695.6,1506.2 695.6,1506.5 695.6,1506.7 695.6,1507.0 695.6,1507.2 695.6,1507.5 695.6,1507.7 695.6,1508.0 695.6,1508.2 695.6,1508.5 695.6,1508.7 695.6,1509.0 695.6,1509.2 695.6,1509.5 695.6,1509.7 695.6,1510.0 695.6,1510.2 695.6,1510.5 695.6,1510.7 695.6,1511.0 695.6,1511.2 695.6,1511.5 695.6,1511.7 695.6,1512.0 695.6,1512.2 695.6,1512.5 695.6,1512.7 695.6,1513.0 695.6,1513.2 695.6,1513.5 695.6,1513.7 695.6,1514.0 695.6,1514.2 695.6,1514.5 695.6,1514.7 695.6,1515.0 695.6,1515.2 695.6,1515.5 695.6,1515.7 695.6,1516.0 695.6,1516.2 695.6,1516.5 695.6,1516.7 695.6,1517.0 695.6,1517.2 695.6,1517.5 695.6,1517.7 695.6,1518.0 695.6,1518.2 695.6,1518.5 695.6,1518.7 695.6,1519.0 695.6,1519.2 695.6,1519.5 695.6,1519.7 695.6,1520.0 695.6,1520.2 695.6,1520.5 695.6,1520.7 695.6,1521.0 695.6,1521.2 695.6,1521.5 695.6,1521.7 695.6,1522.0 695.6,1522.2 695.6,1522.5 695.6,1522.7 695.6,1523.0 695.6,1523.2 695.6,1523.5 695.6,1523.7 695.6,1524.0 695.6,1524.2 695.6,1524.5 695.6,1524.7 695.6,1525.0 695.6,1525.2 695.6,1525.5 695.6,1525.7 695.6,1526.0 695.6,1526.2 695.6,1526.5 695.6,1526.7 695.6,1527.0 695.6,1527.2 695.6,1527.5 695.6,1527.7 695.6,1528.0 695.6,1528.2 695.6,1528.5 695.6,1528.7 695.6,1529.0 695.6,1529.2 695.6,1529.5 695.6,1529.7 695.6,1530.0 695.6,1530.2 695.6,1530.5 695.6,1530.7 695.6,1531.0 695.6,1531.2 695.6,1531.5 695.6,1531.7 695.6,1532.0 695.6,1532.2 695.7,1532.5 695.8,1532.7 696.0,1533.0 696.3,1533.2 696.5,1533.5 696.9,1533.7 697.5,1534.0 698.9,1534.2 700.2,1534.5 700.6,1534.7 700.7,1535.0 700.8,1535.2 700.8,1535.5 700.6,1535.7 700.3,1536.0 700.0,1536.2 699.2,1536.5 698.0,1536.7 696.9,1537.0 696.5,1537.2 696.5,1537.5 696.5,1537.7 696.5,1538.0 696.5,1538.2 696.5,1538.5 696.6,1538.7 696.6,1539.0 696.6,1539.2 696.6,1539.5 696.7,1539.7 696.7,1540.0 696.8,1540.2 696.8,1540.5 696.9,1540.7 697.0,1541.0 697.4,1541.2 698.4,1541.5 700.0,1541.7 701.7,1542.0 703.7,1542.2 706.2,1542.5 709.2,1542.7 712.5,1543.0 715.8,1543.2 719.1,1543.5 722.7,1543.7 726.5,1544.0 730.2,1544.2 733.5,1544.5 736.3,1544.7 738.9,1545.0 740.7,1545.2 742.2,1545.5 742.3,1545.7 741.0,1546.0 739.2,1546.2 736.8,1546.5 734.0,1546.7 730.8,1547.0 727.1,1547.2 723.3,1547.5 719.7,1547.7 716.4,1548.0 713.1,1548.2 709.9,1548.5 706.9,1548.7 704.2,1549.0 702.0,1549.2 700.2,1549.5 698.8,1549.7 697.4,1550.0 696.0,1550.2 L692.0,1550.2 690.6,1550.0 689.2,1549.7 687.8,1549.5 686.0,1549.2 683.8,1549.0 681.1,1548.7 678.1,1548.5 674.9,1548.2 671.6,1548.0 668.3,1547.7 664.7,1547.5 660.9,1547.2 657.2,1547.0 654.0,1546.7 651.2,1546.5 648.8,1546.2 647.0,1546.0 645.7,1545.7 645.8,1545.5 647.3,1545.2 649.1,1545.0 651.7,1544.7 654.5,1544.5 657.8,1544.2 661.5,1544.0 665.3,1543.7 668.9,1543.5 672.2,1543.2 675.5,1543.0 678.8,1542.7 681.8,1542.5 684.3,1542.2 686.3,1542.0 688.0,1541.7 689.6,1541.5 690.6,1541.2 691.0,1541.0 691.1,1540.7 691.2,1540.5 691.2,1540.2 691.3,1540.0 691.3,1539.7 691.4,1539.5 691.4,1539.2 691.4,1539.0 691.4,1538.7 691.5,1538.5 691.5,1538.2 691.5,1538.0 691.5,1537.7 691.5,1537.5 691.5,1537.2 691.1,1537.0 690.0,1536.7 688.8,1536.5 688.0,1536.2 687.7,1536.0 687.4,1535.7 687.2,1535.5 687.2,1535.2 687.3,1535.0 687.4,1534.7 687.8,1534.5 689.1,1534.2 690.5,1534.0 691.1,1533.7 691.5,1533.5 691.7,1533.2 692.0,1533.0 692.2,1532.7 692.3,1532.5 692.4,1532.2 692.4,1532.0 692.4,1531.7 692.4,1531.5 692.4,1531.2 692.4,1531.0 692.4,1530.7 692.4,1530.5 692.4,1530.2 692.4,1530.0 692.4,1529.7 692.4,1529.5 692.4,1529.2 692.4,1529.0 692.4,1528.7 692.4,1528.5 692.4,1528.2 692.4,1528.0 692.4,1527.7 692.4,1527.5 692.4,1527.2 692.4,1527.0 692.4,1526.7 692.4,1526.5 692.4,1526.2 692.4,1526.0 692.4,1525.7 692.4,1525.5 692.4,1525.2 692.4,1525.0 692.4,1524.7 692.4,1524.5 692.4,1524.2 692.4,1524.0 692.4,1523.7 692.4,1523.5 692.4,1523.2 692.4,1523.0 692.4,1522.7 692.4,1522.5 692.4,1522.2 692.4,1522.0 692.4,1521.7 692.4,1521.5 692.4,1521.2 692.4,1521.0 692.4,1520.7 692.4,1520.5 692.4,1520.2 692.4,1520.0 692.4,1519.7 692.4,1519.5 692.4,1519.2 692.4,1519.0 692.4,1518.7 692.4,1518.5 692.4,1518.2 692.4,1518.0 692.4,1517.7 692.4,1517.5 692.4,1517.2 692.4,1517.0 692.4,1516.7 692.4,1516.5 692.4,1516.2 692.4,1516.0 692.4,1515.7 692.4,1515.5 692.4,1515.2 692.4,1515.0 692.4,1514.7 692.4,1514.5 692.4,1514.2 692.4,1514.0 692.4,1513.7 692.4,1513.5 692.4,1513.2 692.4,1513.0 692.4,1512.7 692.4,1512.5 692.4,1512.2 692.4,1512.0 692.4,1511.7 692.4,1511.5 692.4,1511.2 692.4,1511.0 692.4,1510.7 692.4,1510.5 692.4,1510.2 692.4,1510.0 692.4,1509.7 692.4,1509.5 692.4,1509.2 692.4,1509.0 692.4,1508.7 692.4,1508.5 692.4,1508.2 692.4,1508.0 692.4,1507.7 692.4,1507.5 692.4,1507.2 692.4,1507.0 692.4,1506.7 692.4,1506.5 692.4,1506.2 692.4,1506.0 692.4,1505.7 692.4,1505.5 692.4,1505.2 692.4,1505.0 692.4,1504.7 692.4,1504.5 692.4,1504.2 692.4,1504.0 692.4,1503.7 692.4,1503.5 692.4,1503.2 692.4,1503.0 692.4,1502.7 692.4,1502.5 692.4,1502.2 692.4,1502.0 692.4,1501.7 692.4,1501.5 692.4,1501.2 692.4,1501.0 692.4,1500.7 692.4,1500.5 692.4,1500.2 692.4,1500.0 692.4,1499.7 692.4,1499.5 692.4,1499.2 692.4,1499.0 692.4,1498.7 692.4,1498.5 692.4,1498.2 692.4,1498.0 692.4,1497.7 692.4,1497.5 692.4,1497.2 692.4,1497.0 692.4,1496.7 692.4,1496.5 692.4,1496.2 692.4,1496.0 692.4,1495.7 692.4,1495.5 692.4,1495.2 692.4,1495.0 692.4,1494.7 692.4,1494.5 692.4,1494.2 692.4,1494.0 692.4,1493.7 692.4,1493.5 692.4,1493.2 692.4,1493.0 692.4,1492.7 692.4,1492.5 692.4,1492.2 692.4,1492.0 692.4,1491.7 692.4,1491.5 692.4,1491.2 692.4,1491.0 692.4,1490.7 692.4,1490.5 692.4,1490.2 692.4,1490.0 692.4,1489.7 692.4,1489.5 692.4,1489.2 692.4,1489.0 692.4,1488.7 692.5,1488.5 692.7,1488.2 692.8,1488.0 693.0,1487.7 693.2,1487.5 693.3,1487.2 693.5,1487.0Z" fill="#55cb76"/>
<path d="M694.5,1487.0 694.7,1487.2 694.8,1487.5 695.0,1487.7 695.2,1488.0 695.3,1488.2 695.5,1488.5 695.6,1488.7 695.6,1489.0 695.6,1489.2 695.6,1489.5 695.6,1489.7 695.6,1490.0 695.6,1490.2 695.6,1490.5 695.6,1490.7 695.6,1491.0 695.6,1491.2 695.6,1491.5 695.6,1491.7 695.6,1492.0 695.6,1492.2 695.6,1492.5 695.6,1492.7 695.6,1493.0 695.6,1493.2 695.6,1493.5 695.6,1493.7 695.6,1494.0 695.6,1494.2 695.6,1494.5 695.6,1494.7 695.6,1495.0 695.6,1495.2 695.6,1495.5 695.6,1495.7 695.6,1496.0 695.6,1496.2 695.6,1496.5 695.6,1496.7 695.6,1497.0 695.6,1497.2 695.6,1497.5 695.6,1497.7 695.6,1498.0 695.6,1498.2 695.6,1498.5 695.6,1498.7 695.6,1499.0 695.6,1499.2 695.6,1499.5 695.6,1499.7 695.6,1500.0 695.6,1500.2 695.6,1500.5 695.6,1500.7 695.6,1501.0 695.6,1501.2 695.6,1501.5 695.6,1501.7 695.6,1502.0 695.6,1502.2 695.6,1502.5 695.6,1502.7 695.6,1503.0 695.6,1503.2 695.6,1503.5 695.6,1503.7 695.6,1504.0 695.6,1504.2 695.6,1504.5 695.6,1504.7 695.6,1505.0 695.6,1505.2 695.6,1505.5 695.6,1505.7 695.6,1506.0 695.6,1506.2 695.6,1506.5 695.6,1506.7 695.6,1507.0 695.6,1507.2 695.6,1507.5 695.6,1507.7 695.6,1508.0 695.6,1508.2 695.6,1508.5 695.6,1508.7 695.6,1509.0 695.6,1509.2 695.6,1509.5 695.6,1509.7 695.6,1510.0 695.6,1510.2 695.6,1510.5 695.6,1510.7 695.6,1511.0 695.6,1511.2 695.6,1511.5 695.6,1511.7 695.6,1512.0 695.6,1512.2 695.6,1512.5 695.6,1512.7 695.6,1513.0 695.6,1513.2 695.6,1513.5 695.6,1513.7 695.6,1514.0 695.6,1514.2 695.6,1514.5 695.6,1514.7 695.6,1515.0 695.6,1515.2 695.6,1515.5 695.6,1515.7 695.6,1516.0 695.6,1516.2 695.6,1516.5 695.6,1516.7 695.6,1517.0 695.6,1517.2 695.6,1517.5 695.6,1517.7 695.6,1518.0 695.6,1518.2 695.6,1518.5 695.6,1518.7 695.6,1519.0 695.6,1519.2 695.6,1519.5 695.6,1519.7 695.6,1520.0 695.6,1520.2 695.6,1520.5 695.6,1520.7 695.6,1521.0 695.6,1521.2 695.6,1521.5 695.6,1521.7 695.6,1522.0 695.6,1522.2 695.6,1522.5 695.6,1522.7 695.6,1523.0 695.6,1523.2 695.6,1523.5 695.6,1523.7 695.6,1524.0 695.6,1524.2 695.6,1524.5 695.6,1524.7 695.6,1525.0 695.6,1525.2 695.6,1525.5 695.6,1525.7 695.6,1526.0 695.6,1526.2 695.6,1526.5 695.6,1526.7 695.6,1527.0 695.6,1527.2 695.6,1527.5 695.6,1527.7 695.6,1528.0 695.6,1528.2 695.6,1528.5 695.6,1528.7 695.6,1529.0 695.6,1529.2 695.6,1529.5 695.6,1529.7 695.6,1530.0 695.6,1530.2 695.6,1530.5 695.6,1530.7 695.6,1531.0 695.6,1531.2 695.6,1531.5 695.6,1531.7 695.6,1532.0 695.6,1532.2 695.7,1532.5 695.8,1532.7 696.0,1533.0 696.3,1533.2 696.5,1533.5 696.9,1533.7 697.5,1534.0 698.9,1534.2 700.2,1534.5 700.6,1534.7 700.7,1535.0 700.8,1535.2 700.8,1535.5 700.6,1535.7 700.3,1536.0 700.0,1536.2 699.2,1536.5 698.0,1536.7 696.9,1537.0 696.5,1537.2 696.5,1537.5 696.5,1537.7 696.5,1538.0 696.5,1538.2 696.5,1538.5 696.6,1538.7 696.6,1539.0 696.6,1539.2 696.6,1539.5 696.7,1539.7 696.7,1540.0 696.8,1540.2 696.8,1540.5 696.9,1540.7 697.0,1541.0 697.4,1541.2 698.4,1541.5 700.0,1541.7 701.7,1542.0 703.7,1542.2 706.2,1542.5 709.2,1542.7 712.5,1543.0 715.8,1543.2 719.1,1543.5 722.7,1543.7 726.5,1544.0 730.2,1544.2 733.5,1544.5 736.3,1544.7 738.9,1545.0 740.7,1545.2 742.2,1545.5 742.3,1545.7 741.0,1546.0 739.2,1546.2 736.8,1546.5 734.0,1546.7 730.8,1547.0 727.1,1547.2 723.3,1547.5 719.7,1547.7 716.4,1548.0 713.1,1548.2 709.9,1548.5 706.9,1548.7 704.2,1549.0 702.0,1549.2 700.2,1549.5 698.8,1549.7 697.4,1550.0 696.0,1550.2 M692.0,1550.2 690.6,1550.0 689.2,1549.7 687.8,1549.5 686.0,1549.2 683.8,1549.0 681.1,1548.7 678.1,1548.5 674.9,1548.2 671.6,1548.0 668.3,1547.7 664.7,1547.5 660.9,1547.2 657.2,1547.0 654.0,1546.7 651.2,1546.5 648.8,1546.2 647.0,1546.0 645.7,1545.7 645.8,1545.5 647.3,1545.2 649.1,1545.0 651.7,1544.7 654.5,1544.5 657.8,1544.2 661.5,1544.0 665.3,1543.7 668.9,1543.5 672.2,1543.2 675.5,1543.0 678.8,1542.7 681.8,1542.5 684.3,1542.2 686.3,1542.0 688.0,1541.7 689.6,1541.5 690.6,1541.2 691.0,1541.0 691.1,1540.7 691.2,1540.5 691.2,1540.2 691.3,1540.0 691.3,1539.7 691.4,1539.5 691.4,1539.2 691.4,1539.0 691.4,1538.7 691.5,1538.5 691.5,1538.2 691.5,1538.0 691.5,1537.7 691.5,1537.5 691.5,1537.2 691.1,1537.0 690.0,1536.7 688.8,1536.5 688.0,1536.2 687.7,1536.0 687.4,1535.7 687.2,1535.5 687.2,1535.2 687.3,1535.0 687.4,1534.7 687.8,1534.5 689.1,1534.2 690.5,1534.0 691.1,1533.7 691.5,1533.5 691.7,1533.2 692.0,1533.0 692.2,1532.7 692.3,1532.5 692.4,1532.2 692.4,1532.0 692.4,1531.7 692.4,1531.5 692.4,1531.2 692.4,1531.0 692.4,1530.7 692.4,1530.5 692.4,1530.2 692.4,1530.0 692.4,1529.7 692.4,1529.5 692.4,1529.2 692.4,1529.0 692.4,1528.7 692.4,1528.5 692.4,1528.2 692.4,1528.0 692.4,1527.7 692.4,1527.5 692.4,1527.2 692.4,1527.0 692.4,1526.7 692.4,1526.5 692.4,1526.2 692.4,1526.0 692.4,1525.7 692.4,1525.5 692.4,1525.2 692.4,1525.0 692.4,1524.7 692.4,1524.5 692.4,1524.2 692.4,1524.0 692.4,1523.7 692.4,1523.5 692.4,1523.2 692.4,1523.0 692.4,1522.7 692.4,1522.5 692.4,1522.2 692.4,1522.0 692.4,1521.7 692.4,1521.5 692.4,1521.2 692.4,1521.0 692.4,1520.7 692.4,1520.5 692.4,1520.2 692.4,1520.0 692.4,1519.7 692.4,1519.5 692.4,1519.2 692.4,1519.0 692.4,1518.7 692.4,1518.5 692.4,1518.2 692.4,1518.0 692.4,1517.7 692.4,1517.5 692.4,1517.2 692.4,1517.0 692.4,1516.7 692.4,1516.5 692.4,1516.2 692.4,1516.0 692.4,1515.7 692.4,1515.5 692.4,1515.2 692.4,1515.0 692.4,1514.7 692.4,1514.5 692.4,1514.2 692.4,1514.0 692.4,1513.7 692.4,1513.5 692.4,1513.2 692.4,1513.0 692.4,1512.7 692.4,1512.5 692.4,1512.2 692.4,1512.0 692.4,1511.7 692.4,1511.5 692.4,1511.2 692.4,1511.0 692.4,1510.7 692.4,1510.5 692.4,1510.2 692.4,1510.0 692.4,1509.7 692.4,1509.5 692.4,1509.2 692.4,1509.0 692.4,1508.7 692.4,1508.5 692.4,1508.2 692.4,1508.0 692.4,1507.7 692.4,1507.5 692.4,1507.2 692.4,1507.0 692.4,1506.7 692.4,1506.5 692.4,1506.2 692.4,1506.0 692.4,1505.7 692.4,1505.5 692.4,1505.2 692.4,1505.0 692.4,1504.7 692.4,1504.5 692.4,1504.2 692.4,1504.0 692.4,1503.7 692.4,1503.5 692.4,1503.2 692.4,1503.0 692.4,1502.7 692.4,1502.5 692.4,1502.2 692.4,1502.0 692.4,1501.7 692.4,1501.5 692.4,1501.2 692.4,1501.0 692.4,1500.7 692.4,1500.5 692.4,1500.2 692.4,1500.0 692.4,1499.7 692.4,1499.5 692.4,1499.2 692.4,1499.0 692.4,1498.7 692.4,1498.5 692.4,1498.2 692.4,1498.0 692.4,1497.7 692.4,1497.5 692.4,1497.2 692.4,1497.0 692.4,1496.7 692.4,1496.5 692.4,1496.2 692.4,1496.0 692.4,1495.7 692.4,1495.5 692.4,1495.2 692.4,1495.0 692.4,1494.7 692.4,1494.5 692.4,1494.2 692.4,1494.0 692.4,1493.7 692.4,1493.5 692.4,1493.2 692.4,1493.0 692.4,1492.7 692.4,1492.5 692.4,1492.2 692.4,1492.0 692.4,1491.7 692.4,1491.5 692.4,1491.2 692.4,1491.0 692.4,1490.7 692.4,1490.5 692.4,1490.2 692.4,1490.0 692.4,1489.7 692.4,1489.5 692.4,1489.2 692.4,1489.0 692.4,1488.7 692.5,1488.5 692.7,1488.2 692.8,1488.0 693.0,1487.7 693.2,1487.5 693.3,1487.2 693.5,1487.0" fill="none" stroke="#40c766" stroke-width="1.5" stroke-linejoin="round"/>
<line x1="694.0" y1="1490.2" x2="694.0" y2="1532" stroke="#206333" stroke-width="3.0" stroke-dasharray="4.4 4.40" stroke-dashoffset="0.00"/>
<path d="M694.0,1472.9 L702.6,1481.5 L694.0,1490.1 L685.4,1481.5Z" fill="#000"/>
<path d="M694.0,1535.9 L702.6,1544.5 L694.0,1553.1 L685.4,1544.5Z" fill="#000"/>
<path d="M694.0,1537.9 L702.6,1546.5 L694.0,1555.1 L685.4,1546.5Z" fill="#000"/>
<path d="M694.0,1539.9 L702.6,1548.5 L694.0,1557.1 L685.4,1548.5Z" fill="#000"/>
<path d="M932.8,1413.4 932.8,1413.7 932.9,1413.9 933.0,1414.2 933.0,1414.4 933.1,1414.7 933.1,1414.9 933.2,1415.2 933.2,1415.4 933.3,1415.7 933.3,1415.9 933.4,1416.2 933.4,1416.4 933.5,1416.7 933.5,1416.9 933.6,1417.2 933.6,1417.4 933.7,1417.7 933.7,1417.9 933.8,1418.2 933.8,1418.4 933.9,1418.7 933.9,1418.9 934.0,1419.2 934.0,1419.4 934.0,1419.7 934.1,1419.9 934.1,1420.2 934.2,1420.4 934.2,1420.7 934.3,1420.9 934.3,1421.2 934.3,1421.4 934.4,1421.7 934.4,1421.9 934.5,1422.2 934.5,1422.4 934.6,1422.7 934.6,1422.9 934.6,1423.2 934.7,1423.4 934.7,1423.7 934.8,1423.9 934.8,1424.2 934.8,1424.4 934.8,1424.7 934.9,1424.9 934.9,1425.2 934.9,1425.4 934.9,1425.7 934.9,1425.9 934.9,1426.2 934.9,1426.4 934.9,1426.7 934.8,1426.9 934.8,1427.2 934.8,1427.4 934.7,1427.7 934.7,1427.9 934.7,1428.2 934.6,1428.4 934.5,1428.7 934.5,1428.9 934.4,1429.2 934.4,1429.4 934.3,1429.7 934.2,1429.9 934.2,1430.2 934.1,1430.4 934.1,1430.7 934.0,1430.9 934.0,1431.2 933.9,1431.4 933.8,1431.7 933.7,1431.9 933.7,1432.2 933.6,1432.4 933.5,1432.7 933.5,1432.9 933.4,1433.2 933.4,1433.4 933.4,1433.7 933.4,1433.9 933.4,1434.2 933.4,1434.4 933.4,1434.7 933.4,1434.9 933.4,1435.2 933.4,1435.4 933.4,1435.7 933.4,1435.9 933.4,1436.2 933.4,1436.4 933.4,1436.7 933.4,1436.9 933.4,1437.2 933.4,1437.4 933.4,1437.7 933.4,1437.9 933.4,1438.2 933.4,1438.4 933.4,1438.7 933.4,1438.9 933.5,1439.2 933.5,1439.4 933.5,1439.7 933.5,1439.9 933.5,1440.2 933.5,1440.4 933.5,1440.7 933.5,1440.9 933.5,1441.2 933.5,1441.4 933.5,1441.7 933.5,1441.9 933.5,1442.2 933.5,1442.4 933.5,1442.7 933.6,1442.9 933.6,1443.2 933.6,1443.4 933.6,1443.7 933.6,1443.9 933.6,1444.2 933.6,1444.4 933.6,1444.7 933.6,1444.9 933.6,1445.2 933.7,1445.4 933.7,1445.7 933.7,1445.9 933.7,1446.2 933.7,1446.4 933.7,1446.7 933.7,1446.9 933.8,1447.2 933.8,1447.4 933.8,1447.7 933.8,1447.9 933.8,1448.2 933.8,1448.4 933.8,1448.7 933.9,1448.9 933.9,1449.2 933.9,1449.4 933.9,1449.7 933.9,1449.9 934.0,1450.2 934.0,1450.4 934.0,1450.7 934.0,1450.9 934.0,1451.2 934.1,1451.4 934.1,1451.7 934.1,1451.9 934.1,1452.2 934.2,1452.4 934.2,1452.7 934.3,1452.9 934.4,1453.2 934.6,1453.4 934.7,1453.7 934.9,1453.9 935.0,1454.2 935.2,1454.4 935.3,1454.7 935.5,1454.9 935.6,1455.2 935.8,1455.4 935.9,1455.7 936.1,1455.9 936.2,1456.2 936.3,1456.4 936.5,1456.7 936.6,1456.9 936.8,1457.2 936.9,1457.4 937.1,1457.7 937.2,1457.9 937.4,1458.2 937.5,1458.4 937.7,1458.7 937.8,1458.9 938.0,1459.2 938.1,1459.4 938.3,1459.7 938.4,1459.9 938.5,1460.2 938.6,1460.4 938.7,1460.7 938.8,1460.9 938.8,1461.2 938.9,1461.4 938.9,1461.7 938.9,1461.9 938.9,1462.2 938.8,1462.4 938.8,1462.7 938.7,1462.9 938.6,1463.2 938.5,1463.4 938.4,1463.7 938.3,1463.9 938.1,1464.2 938.0,1464.4 937.8,1464.7 937.6,1464.9 937.5,1465.2 937.3,1465.4 937.1,1465.7 937.0,1465.9 936.8,1466.2 936.6,1466.4 936.5,1466.7 936.3,1466.9 936.2,1467.2 936.0,1467.4 935.9,1467.7 935.8,1467.9 935.7,1468.2 935.6,1468.4 935.5,1468.7 935.4,1468.9 935.3,1469.2 935.2,1469.4 935.1,1469.7 935.0,1469.9 934.9,1470.2 934.8,1470.4 934.8,1470.7 934.7,1470.9 934.6,1471.2 934.5,1471.4 934.4,1471.7 934.4,1471.9 934.3,1472.2 934.2,1472.4 934.2,1472.7 934.2,1472.9 934.1,1473.2 934.1,1473.4 934.1,1473.7 934.1,1473.9 934.1,1474.2 934.1,1474.4 934.1,1474.7 934.1,1474.9 934.1,1475.2 934.2,1475.4 934.2,1475.7 934.2,1475.9 934.2,1476.2 934.3,1476.4 934.3,1476.7 934.3,1476.9 934.3,1477.2 934.4,1477.4 934.4,1477.7 934.4,1477.9 934.5,1478.2 934.5,1478.4 934.6,1478.7 934.6,1478.9 934.6,1479.2 934.7,1479.4 934.8,1479.7 934.8,1479.9 934.9,1480.2 935.0,1480.4 935.1,1480.7 935.3,1480.9 935.4,1481.2 935.5,1481.4 935.6,1481.7 935.8,1481.9 935.9,1482.2 936.1,1482.4 936.2,1482.7 936.3,1482.9 936.5,1483.2 936.6,1483.4 936.8,1483.7 936.9,1483.9 937.0,1484.2 937.1,1484.4 937.3,1484.7 937.4,1484.9 937.5,1485.2 937.5,1485.4 937.6,1485.7 937.7,1485.9 937.7,1486.2 937.8,1486.4 937.8,1486.7 937.8,1486.9 937.8,1487.2 937.8,1487.5 937.7,1487.7 937.7,1488.0 937.6,1488.2 937.5,1488.5 937.4,1488.7 937.3,1489.0 937.2,1489.2 937.1,1489.5 937.0,1489.7 936.9,1490.0 936.8,1490.2 936.6,1490.5 936.5,1490.7 936.4,1491.0 936.2,1491.2 936.1,1491.5 936.0,1491.7 935.9,1492.0 935.7,1492.2 935.6,1492.5 935.5,1492.7 935.4,1493.0 935.3,1493.2 935.2,1493.5 935.2,1493.7 935.1,1494.0 935.1,1494.2 935.0,1494.5 935.0,1494.7 934.9,1495.0 934.8,1495.2 934.8,1495.5 934.7,1495.7 934.7,1496.0 934.6,1496.2 934.6,1496.5 934.6,1496.7 934.5,1497.0 934.5,1497.2 934.4,1497.5 934.4,1497.7 934.3,1498.0 934.3,1498.2 934.3,1498.5 934.2,1498.7 934.2,1499.0 934.2,1499.2 934.2,1499.5 934.1,1499.7 934.1,1500.0 934.1,1500.2 934.1,1500.5 934.1,1500.7 934.1,1501.0 934.1,1501.2 934.1,1501.5 934.1,1501.7 934.1,1502.0 934.1,1502.2 934.1,1502.5 934.1,1502.7 934.1,1503.0 934.1,1503.2 934.1,1503.5 934.1,1503.7 934.1,1504.0 934.2,1504.2 934.2,1504.5 934.2,1504.7 934.2,1505.0 934.2,1505.2 934.2,1505.5 934.2,1505.7 934.2,1506.0 934.2,1506.2 934.3,1506.5 934.3,1506.7 934.3,1507.0 934.3,1507.2 934.3,1507.5 934.3,1507.7 934.3,1508.0 934.4,1508.2 934.4,1508.5 934.4,1508.7 934.4,1509.0 934.4,1509.2 934.4,1509.5 934.5,1509.7 934.5,1510.0 934.6,1510.2 934.6,1510.5 934.7,1510.7 934.8,1511.0 934.9,1511.2 934.9,1511.5 935.0,1511.7 935.1,1512.0 935.2,1512.2 935.3,1512.5 935.4,1512.7 935.5,1513.0 935.6,1513.2 935.7,1513.5 935.8,1513.7 935.9,1514.0 935.9,1514.2 936.0,1514.5 936.1,1514.7 936.2,1515.0 936.3,1515.2 936.3,1515.5 936.4,1515.7 936.4,1516.0 936.5,1516.2 936.5,1516.5 936.6,1516.7 936.6,1517.0 936.6,1517.2 936.6,1517.5 936.6,1517.7 936.6,1518.0 936.5,1518.2 936.5,1518.5 936.5,1518.7 936.4,1519.0 936.4,1519.2 936.3,1519.5 936.2,1519.7 936.2,1520.0 936.1,1520.2 936.0,1520.5 936.0,1520.7 935.9,1521.0 935.8,1521.2 935.8,1521.5 935.7,1521.7 935.7,1522.0 935.7,1522.2 935.6,1522.5 935.6,1522.7 935.6,1523.0 935.6,1523.2 935.6,1523.5 935.6,1523.7 935.6,1524.0 935.7,1524.2 935.7,1524.5 935.7,1524.7 935.8,1525.0 935.8,1525.2 935.8,1525.5 935.9,1525.7 935.9,1526.0 936.0,1526.2 936.0,1526.5 936.1,1526.7 936.1,1527.0 936.1,1527.2 936.2,1527.5 936.2,1527.7 936.3,1528.0 936.3,1528.2 936.4,1528.5 936.4,1528.7 936.5,1529.0 936.6,1529.2 936.6,1529.5 936.7,1529.7 936.8,1530.0 936.9,1530.2 937.0,1530.5 937.1,1530.7 937.1,1531.0 937.2,1531.2 937.4,1531.5 937.5,1531.7 937.6,1532.0 937.7,1532.2 937.9,1532.5 938.0,1532.7 938.2,1533.0 938.5,1533.2 938.7,1533.5 939.0,1533.7 939.3,1534.0 939.7,1534.2 940.1,1534.5 940.5,1534.7 941.0,1535.0 941.8,1535.2 942.9,1535.5 944.2,1535.7 945.6,1536.0 947.0,1536.2 948.5,1536.5 949.9,1536.7 951.2,1537.0 952.4,1537.2 953.6,1537.5 954.8,1537.7 956.1,1538.0 957.3,1538.2 958.5,1538.5 959.7,1538.7 960.9,1539.0 962.1,1539.2 963.3,1539.5 964.6,1539.7 965.8,1540.0 967.1,1540.2 968.3,1540.5 969.6,1540.7 970.9,1541.0 972.1,1541.2 973.4,1541.5 974.7,1541.7 976.0,1542.0 977.3,1542.2 978.7,1542.5 980.0,1542.7 981.4,1543.0 982.8,1543.2 984.2,1543.5 985.8,1543.7 987.3,1544.0 988.6,1544.2 989.5,1544.5 990.3,1544.7 990.9,1545.0 991.1,1545.2 990.8,1545.5 990.1,1545.7 989.2,1546.0 988.2,1546.2 986.9,1546.5 985.4,1546.7 983.8,1547.0 982.2,1547.2 980.7,1547.5 979.1,1547.7 977.5,1548.0 976.0,1548.2 974.5,1548.5 973.1,1548.7 971.7,1549.0 970.4,1549.2 969.1,1549.5 967.7,1549.7 966.3,1550.0 964.9,1550.2 963.3,1550.5 961.6,1550.7 959.8,1551.0 957.9,1551.2 956.0,1551.5 953.9,1551.7 951.8,1552.0 949.7,1552.2 947.6,1552.5 945.2,1552.7 942.7,1553.0 940.8,1553.2 940.0,1553.5 939.2,1553.7 938.6,1554.0 938.0,1554.2 937.5,1554.5 937.1,1554.7 936.7,1555.0 936.4,1555.2 936.1,1555.5 935.8,1555.7 935.6,1556.0 935.4,1556.2 935.2,1556.5 935.0,1556.7 934.8,1557.0 934.7,1557.2 934.5,1557.5 934.4,1557.7 934.3,1558.0 934.2,1558.2 934.0,1558.5 933.9,1558.7 933.8,1559.0 933.7,1559.2 933.6,1559.5 933.5,1559.7 933.4,1560.0 933.3,1560.2 933.2,1560.5 933.0,1560.7 932.9,1561.0 L932.3,1561.0 932.2,1560.7 932.0,1560.5 931.9,1560.2 931.8,1560.0 931.7,1559.7 931.6,1559.5 931.5,1559.2 931.4,1559.0 931.3,1558.7 931.2,1558.5 931.0,1558.2 930.9,1558.0 930.8,1557.7 930.7,1557.5 930.5,1557.2 930.4,1557.0 930.2,1556.7 930.0,1556.5 929.8,1556.2 929.6,1556.0 929.4,1555.7 929.1,1555.5 928.8,1555.2 928.5,1555.0 928.1,1554.7 927.7,1554.5 927.2,1554.2 926.6,1554.0 926.0,1553.7 925.2,1553.5 924.4,1553.2 922.5,1553.0 920.0,1552.7 917.6,1552.5 915.5,1552.2 913.4,1552.0 911.3,1551.7 909.2,1551.5 907.3,1551.2 905.4,1551.0 903.6,1550.7 901.9,1550.5 900.3,1550.2 898.9,1550.0 897.5,1549.7 896.1,1549.5 894.8,1549.2 893.5,1549.0 892.1,1548.7 890.7,1548.5 889.2,1548.2 887.7,1548.0 886.1,1547.7 884.5,1547.5 883.0,1547.2 881.4,1547.0 879.8,1546.7 878.3,1546.5 877.0,1546.2 876.0,1546.0 875.1,1545.7 874.4,1545.5 874.1,1545.2 874.3,1545.0 874.9,1544.7 875.7,1544.5 876.6,1544.2 877.9,1544.0 879.4,1543.7 881.0,1543.5 882.4,1543.2 883.8,1543.0 885.2,1542.7 886.5,1542.5 887.9,1542.2 889.2,1542.0 890.5,1541.7 891.8,1541.5 893.1,1541.2 894.3,1541.0 895.6,1540.7 896.9,1540.5 898.1,1540.2 899.4,1540.0 900.6,1539.7 901.9,1539.5 903.1,1539.2 904.3,1539.0 905.5,1538.7 906.7,1538.5 907.9,1538.2 909.1,1538.0 910.4,1537.7 911.6,1537.5 912.8,1537.2 914.0,1537.0 915.3,1536.7 916.7,1536.5 918.2,1536.2 919.6,1536.0 921.0,1535.7 922.3,1535.5 923.4,1535.2 924.2,1535.0 924.7,1534.7 925.1,1534.5 925.5,1534.2 925.9,1534.0 926.2,1533.7 926.5,1533.5 926.7,1533.2 927.0,1533.0 927.2,1532.7 927.3,1532.5 927.5,1532.2 927.6,1532.0 927.7,1531.7 927.8,1531.5 928.0,1531.2 928.1,1531.0 928.1,1530.7 928.2,1530.5 928.3,1530.2 928.4,1530.0 928.5,1529.7 928.6,1529.5 928.6,1529.2 928.7,1529.0 928.8,1528.7 928.8,1528.5 928.9,1528.2 928.9,1528.0 929.0,1527.7 929.0,1527.5 929.1,1527.2 929.1,1527.0 929.1,1526.7 929.2,1526.5 929.2,1526.2 929.3,1526.0 929.3,1525.7 929.4,1525.5 929.4,1525.2 929.4,1525.0 929.5,1524.7 929.5,1524.5 929.5,1524.2 929.6,1524.0 929.6,1523.7 929.6,1523.5 929.6,1523.2 929.6,1523.0 929.6,1522.7 929.6,1522.5 929.5,1522.2 929.5,1522.0 929.5,1521.7 929.4,1521.5 929.4,1521.2 929.3,1521.0 929.2,1520.7 929.2,1520.5 929.1,1520.2 929.0,1520.0 929.0,1519.7 928.9,1519.5 928.8,1519.2 928.8,1519.0 928.7,1518.7 928.7,1518.5 928.7,1518.2 928.6,1518.0 928.6,1517.7 928.6,1517.5 928.6,1517.2 928.6,1517.0 928.6,1516.7 928.7,1516.5 928.7,1516.2 928.8,1516.0 928.8,1515.7 928.9,1515.5 928.9,1515.2 929.0,1515.0 929.1,1514.7 929.2,1514.5 929.3,1514.2 929.3,1514.0 929.4,1513.7 929.5,1513.5 929.6,1513.2 929.7,1513.0 929.8,1512.7 929.9,1512.5 930.0,1512.2 930.1,1512.0 930.2,1511.7 930.3,1511.5 930.3,1511.2 930.4,1511.0 930.5,1510.7 930.6,1510.5 930.6,1510.2 930.7,1510.0 930.7,1509.7 930.8,1509.5 930.8,1509.2 930.8,1509.0 930.8,1508.7 930.8,1508.5 930.8,1508.2 930.9,1508.0 930.9,1507.7 930.9,1507.5 930.9,1507.2 930.9,1507.0 930.9,1506.7 930.9,1506.5 931.0,1506.2 931.0,1506.0 931.0,1505.7 931.0,1505.5 931.0,1505.2 931.0,1505.0 931.0,1504.7 931.0,1504.5 931.0,1504.2 931.1,1504.0 931.1,1503.7 931.1,1503.5 931.1,1503.2 931.1,1503.0 931.1,1502.7 931.1,1502.5 931.1,1502.2 931.1,1502.0 931.1,1501.7 931.1,1501.5 931.1,1501.2 931.1,1501.0 931.1,1500.7 931.1,1500.5 931.1,1500.2 931.1,1500.0 931.1,1499.7 931.0,1499.5 931.0,1499.2 931.0,1499.0 931.0,1498.7 930.9,1498.5 930.9,1498.2 930.9,1498.0 930.8,1497.7 930.8,1497.5 930.7,1497.2 930.7,1497.0 930.6,1496.7 930.6,1496.5 930.6,1496.2 930.5,1496.0 930.5,1495.7 930.4,1495.5 930.4,1495.2 930.3,1495.0 930.2,1494.7 930.2,1494.5 930.1,1494.2 930.1,1494.0 930.0,1493.7 930.0,1493.5 929.9,1493.2 929.8,1493.0 929.7,1492.7 929.6,1492.5 929.5,1492.2 929.3,1492.0 929.2,1491.7 929.1,1491.5 929.0,1491.2 928.8,1491.0 928.7,1490.7 928.6,1490.5 928.4,1490.2 928.3,1490.0 928.2,1489.7 928.1,1489.5 928.0,1489.2 927.9,1489.0 927.8,1488.7 927.7,1488.5 927.6,1488.2 927.5,1488.0 927.5,1487.7 927.4,1487.5 927.4,1487.2 927.4,1486.9 927.4,1486.7 927.4,1486.4 927.5,1486.2 927.5,1485.9 927.6,1485.7 927.7,1485.4 927.7,1485.2 927.8,1484.9 927.9,1484.7 928.1,1484.4 928.2,1484.2 928.3,1483.9 928.4,1483.7 928.6,1483.4 928.7,1483.2 928.9,1482.9 929.0,1482.7 929.1,1482.4 929.3,1482.2 929.4,1481.9 929.6,1481.7 929.7,1481.4 929.8,1481.2 929.9,1480.9 930.1,1480.7 930.2,1480.4 930.3,1480.2 930.4,1479.9 930.4,1479.7 930.5,1479.4 930.6,1479.2 930.6,1478.9 930.6,1478.7 930.7,1478.4 930.7,1478.2 930.8,1477.9 930.8,1477.7 930.8,1477.4 930.9,1477.2 930.9,1476.9 930.9,1476.7 930.9,1476.4 931.0,1476.2 931.0,1475.9 931.0,1475.7 931.0,1475.4 931.1,1475.2 931.1,1474.9 931.1,1474.7 931.1,1474.4 931.1,1474.2 931.1,1473.9 931.1,1473.7 931.1,1473.4 931.1,1473.2 931.0,1472.9 931.0,1472.7 931.0,1472.4 930.9,1472.2 930.8,1471.9 930.8,1471.7 930.7,1471.4 930.6,1471.2 930.5,1470.9 930.4,1470.7 930.4,1470.4 930.3,1470.2 930.2,1469.9 930.1,1469.7 930.0,1469.4 929.9,1469.2 929.8,1468.9 929.7,1468.7 929.6,1468.4 929.5,1468.2 929.4,1467.9 929.3,1467.7 929.2,1467.4 929.0,1467.2 928.9,1466.9 928.7,1466.7 928.6,1466.4 928.4,1466.2 928.2,1465.9 928.1,1465.7 927.9,1465.4 927.7,1465.2 927.6,1464.9 927.4,1464.7 927.2,1464.4 927.1,1464.2 926.9,1463.9 926.8,1463.7 926.7,1463.4 926.6,1463.2 926.5,1462.9 926.4,1462.7 926.4,1462.4 926.3,1462.2 926.3,1461.9 926.3,1461.7 926.3,1461.4 926.4,1461.2 926.4,1460.9 926.5,1460.7 926.6,1460.4 926.7,1460.2 926.8,1459.9 926.9,1459.7 927.1,1459.4 927.2,1459.2 927.4,1458.9 927.5,1458.7 927.7,1458.4 927.8,1458.2 928.0,1457.9 928.1,1457.7 928.3,1457.4 928.4,1457.2 928.6,1456.9 928.7,1456.7 928.9,1456.4 929.0,1456.2 929.1,1455.9 929.3,1455.7 929.4,1455.4 929.6,1455.2 929.7,1454.9 929.9,1454.7 930.0,1454.4 930.2,1454.2 930.3,1453.9 930.5,1453.7 930.6,1453.4 930.8,1453.2 930.9,1452.9 931.0,1452.7 931.0,1452.4 931.1,1452.2 931.1,1451.9 931.1,1451.7 931.1,1451.4 931.2,1451.2 931.2,1450.9 931.2,1450.7 931.2,1450.4 931.2,1450.2 931.3,1449.9 931.3,1449.7 931.3,1449.4 931.3,1449.2 931.3,1448.9 931.4,1448.7 931.4,1448.4 931.4,1448.2 931.4,1447.9 931.4,1447.7 931.4,1447.4 931.4,1447.2 931.5,1446.9 931.5,1446.7 931.5,1446.4 931.5,1446.2 931.5,1445.9 931.5,1445.7 931.5,1445.4 931.6,1445.2 931.6,1444.9 931.6,1444.7 931.6,1444.4 931.6,1444.2 931.6,1443.9 931.6,1443.7 931.6,1443.4 931.6,1443.2 931.6,1442.9 931.7,1442.7 931.7,1442.4 931.7,1442.2 931.7,1441.9 931.7,1441.7 931.7,1441.4 931.7,1441.2 931.7,1440.9 931.7,1440.7 931.7,1440.4 931.7,1440.2 931.7,1439.9 931.7,1439.7 931.7,1439.4 931.7,1439.2 931.8,1438.9 931.8,1438.7 931.8,1438.4 931.8,1438.2 931.8,1437.9 931.8,1437.7 931.8,1437.4 931.8,1437.2 931.8,1436.9 931.8,1436.7 931.8,1436.4 931.8,1436.2 931.8,1435.9 931.8,1435.7 931.8,1435.4 931.8,1435.2 931.8,1434.9 931.8,1434.7 931.8,1434.4 931.8,1434.2 931.8,1433.9 931.8,1433.7 931.8,1433.4 931.8,1433.2 931.7,1432.9 931.7,1432.7 931.6,1432.4 931.5,1432.2 931.5,1431.9 931.4,1431.7 931.3,1431.4 931.2,1431.2 931.2,1430.9 931.1,1430.7 931.1,1430.4 931.0,1430.2 931.0,1429.9 930.9,1429.7 930.8,1429.4 930.8,1429.2 930.7,1428.9 930.7,1428.7 930.6,1428.4 930.5,1428.2 930.5,1427.9 930.5,1427.7 930.4,1427.4 930.4,1427.2 930.4,1426.9 930.3,1426.7 930.3,1426.4 930.3,1426.2 930.3,1425.9 930.3,1425.7 930.3,1425.4 930.3,1425.2 930.3,1424.9 930.4,1424.7 930.4,1424.4 930.4,1424.2 930.4,1423.9 930.5,1423.7 930.5,1423.4 930.6,1423.2 930.6,1422.9 930.6,1422.7 930.7,1422.4 930.7,1422.2 930.8,1421.9 930.8,1421.7 930.9,1421.4 930.9,1421.2 930.9,1420.9 931.0,1420.7 931.0,1420.4 931.1,1420.2 931.1,1419.9 931.2,1419.7 931.2,1419.4 931.2,1419.2 931.3,1418.9 931.3,1418.7 931.4,1418.4 931.4,1418.2 931.5,1417.9 931.5,1417.7 931.6,1417.4 931.6,1417.2 931.7,1416.9 931.7,1416.7 931.8,1416.4 931.8,1416.2 931.9,1415.9 931.9,1415.7 932.0,1415.4 932.0,1415.2 932.1,1414.9 932.1,1414.7 932.2,1414.4 932.2,1414.2 932.3,1413.9 932.4,1413.7 932.4,1413.4Z" fill="#ff867b"/>
<path d="M932.8,1413.4 932.8,1413.7 932.9,1413.9 933.0,1414.2 933.0,1414.4 933.1,1414.7 933.1,1414.9 933.2,1415.2 933.2,1415.4 933.3,1415.7 933.3,1415.9 933.4,1416.2 933.4,1416.4 933.5,1416.7 933.5,1416.9 933.6,1417.2 933.6,1417.4 933.7,1417.7 933.7,1417.9 933.8,1418.2 933.8,1418.4 933.9,1418.7 933.9,1418.9 934.0,1419.2 934.0,1419.4 934.0,1419.7 934.1,1419.9 934.1,1420.2 934.2,1420.4 934.2,1420.7 934.3,1420.9 934.3,1421.2 934.3,1421.4 934.4,1421.7 934.4,1421.9 934.5,1422.2 934.5,1422.4 934.6,1422.7 934.6,1422.9 934.6,1423.2 934.7,1423.4 934.7,1423.7 934.8,1423.9 934.8,1424.2 934.8,1424.4 934.8,1424.7 934.9,1424.9 934.9,1425.2 934.9,1425.4 934.9,1425.7 934.9,1425.9 934.9,1426.2 934.9,1426.4 934.9,1426.7 934.8,1426.9 934.8,1427.2 934.8,1427.4 934.7,1427.7 934.7,1427.9 934.7,1428.2 934.6,1428.4 934.5,1428.7 934.5,1428.9 934.4,1429.2 934.4,1429.4 934.3,1429.7 934.2,1429.9 934.2,1430.2 934.1,1430.4 934.1,1430.7 934.0,1430.9 934.0,1431.2 933.9,1431.4 933.8,1431.7 933.7,1431.9 933.7,1432.2 933.6,1432.4 933.5,1432.7 933.5,1432.9 933.4,1433.2 933.4,1433.4 933.4,1433.7 933.4,1433.9 933.4,1434.2 933.4,1434.4 933.4,1434.7 933.4,1434.9 933.4,1435.2 933.4,1435.4 933.4,1435.7 933.4,1435.9 933.4,1436.2 933.4,1436.4 933.4,1436.7 933.4,1436.9 933.4,1437.2 933.4,1437.4 933.4,1437.7 933.4,1437.9 933.4,1438.2 933.4,1438.4 933.4,1438.7 933.4,1438.9 933.5,1439.2 933.5,1439.4 933.5,1439.7 933.5,1439.9 933.5,1440.2 933.5,1440.4 933.5,1440.7 933.5,1440.9 933.5,1441.2 933.5,1441.4 933.5,1441.7 933.5,1441.9 933.5,1442.2 933.5,1442.4 933.5,1442.7 933.6,1442.9 933.6,1443.2 933.6,1443.4 933.6,1443.7 933.6,1443.9 933.6,1444.2 933.6,1444.4 933.6,1444.7 933.6,1444.9 933.6,1445.2 933.7,1445.4 933.7,1445.7 933.7,1445.9 933.7,1446.2 933.7,1446.4 933.7,1446.7 933.7,1446.9 933.8,1447.2 933.8,1447.4 933.8,1447.7 933.8,1447.9 933.8,1448.2 933.8,1448.4 933.8,1448.7 933.9,1448.9 933.9,1449.2 933.9,1449.4 933.9,1449.7 933.9,1449.9 934.0,1450.2 934.0,1450.4 934.0,1450.7 934.0,1450.9 934.0,1451.2 934.1,1451.4 934.1,1451.7 934.1,1451.9 934.1,1452.2 934.2,1452.4 934.2,1452.7 934.3,1452.9 934.4,1453.2 934.6,1453.4 934.7,1453.7 934.9,1453.9 935.0,1454.2 935.2,1454.4 935.3,1454.7 935.5,1454.9 935.6,1455.2 935.8,1455.4 935.9,1455.7 936.1,1455.9 936.2,1456.2 936.3,1456.4 936.5,1456.7 936.6,1456.9 936.8,1457.2 936.9,1457.4 937.1,1457.7 937.2,1457.9 937.4,1458.2 937.5,1458.4 937.7,1458.7 937.8,1458.9 938.0,1459.2 938.1,1459.4 938.3,1459.7 938.4,1459.9 938.5,1460.2 938.6,1460.4 938.7,1460.7 938.8,1460.9 938.8,1461.2 938.9,1461.4 938.9,1461.7 938.9,1461.9 938.9,1462.2 938.8,1462.4 938.8,1462.7 938.7,1462.9 938.6,1463.2 938.5,1463.4 938.4,1463.7 938.3,1463.9 938.1,1464.2 938.0,1464.4 937.8,1464.7 937.6,1464.9 937.5,1465.2 937.3,1465.4 937.1,1465.7 937.0,1465.9 936.8,1466.2 936.6,1466.4 936.5,1466.7 936.3,1466.9 936.2,1467.2 936.0,1467.4 935.9,1467.7 935.8,1467.9 935.7,1468.2 935.6,1468.4 935.5,1468.7 935.4,1468.9 935.3,1469.2 935.2,1469.4 935.1,1469.7 935.0,1469.9 934.9,1470.2 934.8,1470.4 934.8,1470.7 934.7,1470.9 934.6,1471.2 934.5,1471.4 934.4,1471.7 934.4,1471.9 934.3,1472.2 934.2,1472.4 934.2,1472.7 934.2,1472.9 934.1,1473.2 934.1,1473.4 934.1,1473.7 934.1,1473.9 934.1,1474.2 934.1,1474.4 934.1,1474.7 934.1,1474.9 934.1,1475.2 934.2,1475.4 934.2,1475.7 934.2,1475.9 934.2,1476.2 934.3,1476.4 934.3,1476.7 934.3,1476.9 934.3,1477.2 934.4,1477.4 934.4,1477.7 934.4,1477.9 934.5,1478.2 934.5,1478.4 934.6,1478.7 934.6,1478.9 934.6,1479.2 934.7,1479.4 934.8,1479.7 934.8,1479.9 934.9,1480.2 935.0,1480.4 935.1,1480.7 935.3,1480.9 935.4,1481.2 935.5,1481.4 935.6,1481.7 935.8,1481.9 935.9,1482.2 936.1,1482.4 936.2,1482.7 936.3,1482.9 936.5,1483.2 936.6,1483.4 936.8,1483.7 936.9,1483.9 937.0,1484.2 937.1,1484.4 937.3,1484.7 937.4,1484.9 937.5,1485.2 937.5,1485.4 937.6,1485.7 937.7,1485.9 937.7,1486.2 937.8,1486.4 937.8,1486.7 937.8,1486.9 937.8,1487.2 937.8,1487.5 937.7,1487.7 937.7,1488.0 937.6,1488.2 937.5,1488.5 937.4,1488.7 937.3,1489.0 937.2,1489.2 937.1,1489.5 937.0,1489.7 936.9,1490.0 936.8,1490.2 936.6,1490.5 936.5,1490.7 936.4,1491.0 936.2,1491.2 936.1,1491.5 936.0,1491.7 935.9,1492.0 935.7,1492.2 935.6,1492.5 935.5,1492.7 935.4,1493.0 935.3,1493.2 935.2,1493.5 935.2,1493.7 935.1,1494.0 935.1,1494.2 935.0,1494.5 935.0,1494.7 934.9,1495.0 934.8,1495.2 934.8,1495.5 934.7,1495.7 934.7,1496.0 934.6,1496.2 934.6,1496.5 934.6,1496.7 934.5,1497.0 934.5,1497.2 934.4,1497.5 934.4,1497.7 934.3,1498.0 934.3,1498.2 934.3,1498.5 934.2,1498.7 934.2,1499.0 934.2,1499.2 934.2,1499.5 934.1,1499.7 934.1,1500.0 934.1,1500.2 934.1,1500.5 934.1,1500.7 934.1,1501.0 934.1,1501.2 934.1,1501.5 934.1,1501.7 934.1,1502.0 934.1,1502.2 934.1,1502.5 934.1,1502.7 934.1,1503.0 934.1,1503.2 934.1,1503.5 934.1,1503.7 934.1,1504.0 934.2,1504.2 934.2,1504.5 934.2,1504.7 934.2,1505.0 934.2,1505.2 934.2,1505.5 934.2,1505.7 934.2,1506.0 934.2,1506.2 934.3,1506.5 934.3,1506.7 934.3,1507.0 934.3,1507.2 934.3,1507.5 934.3,1507.7 934.3,1508.0 934.4,1508.2 934.4,1508.5 934.4,1508.7 934.4,1509.0 934.4,1509.2 934.4,1509.5 934.5,1509.7 934.5,1510.0 934.6,1510.2 934.6,1510.5 934.7,1510.7 934.8,1511.0 934.9,1511.2 934.9,1511.5 935.0,1511.7 935.1,1512.0 935.2,1512.2 935.3,1512.5 935.4,1512.7 935.5,1513.0 935.6,1513.2 935.7,1513.5 935.8,1513.7 935.9,1514.0 935.9,1514.2 936.0,1514.5 936.1,1514.7 936.2,1515.0 936.3,1515.2 936.3,1515.5 936.4,1515.7 936.4,1516.0 936.5,1516.2 936.5,1516.5 936.6,1516.7 936.6,1517.0 936.6,1517.2 936.6,1517.5 936.6,1517.7 936.6,1518.0 936.5,1518.2 936.5,1518.5 936.5,1518.7 936.4,1519.0 936.4,1519.2 936.3,1519.5 936.2,1519.7 936.2,1520.0 936.1,1520.2 936.0,1520.5 936.0,1520.7 935.9,1521.0 935.8,1521.2 935.8,1521.5 935.7,1521.7 935.7,1522.0 935.7,1522.2 935.6,1522.5 935.6,1522.7 935.6,1523.0 935.6,1523.2 935.6,1523.5 935.6,1523.7 935.6,1524.0 935.7,1524.2 935.7,1524.5 935.7,1524.7 935.8,1525.0 935.8,1525.2 935.8,1525.5 935.9,1525.7 935.9,1526.0 936.0,1526.2 936.0,1526.5 936.1,1526.7 936.1,1527.0 936.1,1527.2 936.2,1527.5 936.2,1527.7 936.3,1528.0 936.3,1528.2 936.4,1528.5 936.4,1528.7 936.5,1529.0 936.6,1529.2 936.6,1529.5 936.7,1529.7 936.8,1530.0 936.9,1530.2 937.0,1530.5 937.1,1530.7 937.1,1531.0 937.2,1531.2 937.4,1531.5 937.5,1531.7 937.6,1532.0 937.7,1532.2 937.9,1532.5 938.0,1532.7 938.2,1533.0 938.5,1533.2 938.7,1533.5 939.0,1533.7 939.3,1534.0 939.7,1534.2 940.1,1534.5 940.5,1534.7 941.0,1535.0 941.8,1535.2 942.9,1535.5 944.2,1535.7 945.6,1536.0 947.0,1536.2 948.5,1536.5 949.9,1536.7 951.2,1537.0 952.4,1537.2 953.6,1537.5 954.8,1537.7 956.1,1538.0 957.3,1538.2 958.5,1538.5 959.7,1538.7 960.9,1539.0 962.1,1539.2 963.3,1539.5 964.6,1539.7 965.8,1540.0 967.1,1540.2 968.3,1540.5 969.6,1540.7 970.9,1541.0 972.1,1541.2 973.4,1541.5 974.7,1541.7 976.0,1542.0 977.3,1542.2 978.7,1542.5 980.0,1542.7 981.4,1543.0 982.8,1543.2 984.2,1543.5 985.8,1543.7 987.3,1544.0 988.6,1544.2 989.5,1544.5 990.3,1544.7 990.9,1545.0 991.1,1545.2 990.8,1545.5 990.1,1545.7 989.2,1546.0 988.2,1546.2 986.9,1546.5 985.4,1546.7 983.8,1547.0 982.2,1547.2 980.7,1547.5 979.1,1547.7 977.5,1548.0 976.0,1548.2 974.5,1548.5 973.1,1548.7 971.7,1549.0 970.4,1549.2 969.1,1549.5 967.7,1549.7 966.3,1550.0 964.9,1550.2 963.3,1550.5 961.6,1550.7 959.8,1551.0 957.9,1551.2 956.0,1551.5 953.9,1551.7 951.8,1552.0 949.7,1552.2 947.6,1552.5 945.2,1552.7 942.7,1553.0 940.8,1553.2 940.0,1553.5 939.2,1553.7 938.6,1554.0 938.0,1554.2 937.5,1554.5 937.1,1554.7 936.7,1555.0 936.4,1555.2 936.1,1555.5 935.8,1555.7 935.6,1556.0 935.4,1556.2 935.2,1556.5 935.0,1556.7 934.8,1557.0 934.7,1557.2 934.5,1557.5 934.4,1557.7 934.3,1558.0 934.2,1558.2 934.0,1558.5 933.9,1558.7 933.8,1559.0 933.7,1559.2 933.6,1559.5 933.5,1559.7 933.4,1560.0 933.3,1560.2 933.2,1560.5 933.0,1560.7 932.9,1561.0 M932.3,1561.0 932.2,1560.7 932.0,1560.5 931.9,1560.2 931.8,1560.0 931.7,1559.7 931.6,1559.5 931.5,1559.2 931.4,1559.0 931.3,1558.7 931.2,1558.5 931.0,1558.2 930.9,1558.0 930.8,1557.7 930.7,1557.5 930.5,1557.2 930.4,1557.0 930.2,1556.7 930.0,1556.5 929.8,1556.2 929.6,1556.0 929.4,1555.7 929.1,1555.5 928.8,1555.2 928.5,1555.0 928.1,1554.7 927.7,1554.5 927.2,1554.2 926.6,1554.0 926.0,1553.7 925.2,1553.5 924.4,1553.2 922.5,1553.0 920.0,1552.7 917.6,1552.5 915.5,1552.2 913.4,1552.0 911.3,1551.7 909.2,1551.5 907.3,1551.2 905.4,1551.0 903.6,1550.7 901.9,1550.5 900.3,1550.2 898.9,1550.0 897.5,1549.7 896.1,1549.5 894.8,1549.2 893.5,1549.0 892.1,1548.7 890.7,1548.5 889.2,1548.2 887.7,1548.0 886.1,1547.7 884.5,1547.5 883.0,1547.2 881.4,1547.0 879.8,1546.7 878.3,1546.5 877.0,1546.2 876.0,1546.0 875.1,1545.7 874.4,1545.5 874.1,1545.2 874.3,1545.0 874.9,1544.7 875.7,1544.5 876.6,1544.2 877.9,1544.0 879.4,1543.7 881.0,1543.5 882.4,1543.2 883.8,1543.0 885.2,1542.7 886.5,1542.5 887.9,1542.2 889.2,1542.0 890.5,1541.7 891.8,1541.5 893.1,1541.2 894.3,1541.0 895.6,1540.7 896.9,1540.5 898.1,1540.2 899.4,1540.0 900.6,1539.7 901.9,1539.5 903.1,1539.2 904.3,1539.0 905.5,1538.7 906.7,1538.5 907.9,1538.2 909.1,1538.0 910.4,1537.7 911.6,1537.5 912.8,1537.2 914.0,1537.0 915.3,1536.7 916.7,1536.5 918.2,1536.2 919.6,1536.0 921.0,1535.7 922.3,1535.5 923.4,1535.2 924.2,1535.0 924.7,1534.7 925.1,1534.5 925.5,1534.2 925.9,1534.0 926.2,1533.7 926.5,1533.5 926.7,1533.2 927.0,1533.0 927.2,1532.7 927.3,1532.5 927.5,1532.2 927.6,1532.0 927.7,1531.7 927.8,1531.5 928.0,1531.2 928.1,1531.0 928.1,1530.7 928.2,1530.5 928.3,1530.2 928.4,1530.0 928.5,1529.7 928.6,1529.5 928.6,1529.2 928.7,1529.0 928.8,1528.7 928.8,1528.5 928.9,1528.2 928.9,1528.0 929.0,1527.7 929.0,1527.5 929.1,1527.2 929.1,1527.0 929.1,1526.7 929.2,1526.5 929.2,1526.2 929.3,1526.0 929.3,1525.7 929.4,1525.5 929.4,1525.2 929.4,1525.0 929.5,1524.7 929.5,1524.5 929.5,1524.2 929.6,1524.0 929.6,1523.7 929.6,1523.5 929.6,1523.2 929.6,1523.0 929.6,1522.7 929.6,1522.5 929.5,1522.2 929.5,1522.0 929.5,1521.7 929.4,1521.5 929.4,1521.2 929.3,1521.0 929.2,1520.7 929.2,1520.5 929.1,1520.2 929.0,1520.0 929.0,1519.7 928.9,1519.5 928.8,1519.2 928.8,1519.0 928.7,1518.7 928.7,1518.5 928.7,1518.2 928.6,1518.0 928.6,1517.7 928.6,1517.5 928.6,1517.2 928.6,1517.0 928.6,1516.7 928.7,1516.5 928.7,1516.2 928.8,1516.0 928.8,1515.7 928.9,1515.5 928.9,1515.2 929.0,1515.0 929.1,1514.7 929.2,1514.5 929.3,1514.2 929.3,1514.0 929.4,1513.7 929.5,1513.5 929.6,1513.2 929.7,1513.0 929.8,1512.7 929.9,1512.5 930.0,1512.2 930.1,1512.0 930.2,1511.7 930.3,1511.5 930.3,1511.2 930.4,1511.0 930.5,1510.7 930.6,1510.5 930.6,1510.2 930.7,1510.0 930.7,1509.7 930.8,1509.5 930.8,1509.2 930.8,1509.0 930.8,1508.7 930.8,1508.5 930.8,1508.2 930.9,1508.0 930.9,1507.7 930.9,1507.5 930.9,1507.2 930.9,1507.0 930.9,1506.7 930.9,1506.5 931.0,1506.2 931.0,1506.0 931.0,1505.7 931.0,1505.5 931.0,1505.2 931.0,1505.0 931.0,1504.7 931.0,1504.5 931.0,1504.2 931.1,1504.0 931.1,1503.7 931.1,1503.5 931.1,1503.2 931.1,1503.0 931.1,1502.7 931.1,1502.5 931.1,1502.2 931.1,1502.0 931.1,1501.7 931.1,1501.5 931.1,1501.2 931.1,1501.0 931.1,1500.7 931.1,1500.5 931.1,1500.2 931.1,1500.0 931.1,1499.7 931.0,1499.5 931.0,1499.2 931.0,1499.0 931.0,1498.7 930.9,1498.5 930.9,1498.2 930.9,1498.0 930.8,1497.7 930.8,1497.5 930.7,1497.2 930.7,1497.0 930.6,1496.7 930.6,1496.5 930.6,1496.2 930.5,1496.0 930.5,1495.7 930.4,1495.5 930.4,1495.2 930.3,1495.0 930.2,1494.7 930.2,1494.5 930.1,1494.2 930.1,1494.0 930.0,1493.7 930.0,1493.5 929.9,1493.2 929.8,1493.0 929.7,1492.7 929.6,1492.5 929.5,1492.2 929.3,1492.0 929.2,1491.7 929.1,1491.5 929.0,1491.2 928.8,1491.0 928.7,1490.7 928.6,1490.5 928.4,1490.2 928.3,1490.0 928.2,1489.7 928.1,1489.5 928.0,1489.2 927.9,1489.0 927.8,1488.7 927.7,1488.5 927.6,1488.2 927.5,1488.0 927.5,1487.7 927.4,1487.5 927.4,1487.2 927.4,1486.9 927.4,1486.7 927.4,1486.4 927.5,1486.2 927.5,1485.9 927.6,1485.7 927.7,1485.4 927.7,1485.2 927.8,1484.9 927.9,1484.7 928.1,1484.4 928.2,1484.2 928.3,1483.9 928.4,1483.7 928.6,1483.4 928.7,1483.2 928.9,1482.9 929.0,1482.7 929.1,1482.4 929.3,1482.2 929.4,1481.9 929.6,1481.7 929.7,1481.4 929.8,1481.2 929.9,1480.9 930.1,1480.7 930.2,1480.4 930.3,1480.2 930.4,1479.9 930.4,1479.7 930.5,1479.4 930.6,1479.2 930.6,1478.9 930.6,1478.7 930.7,1478.4 930.7,1478.2 930.8,1477.9 930.8,1477.7 930.8,1477.4 930.9,1477.2 930.9,1476.9 930.9,1476.7 930.9,1476.4 931.0,1476.2 931.0,1475.9 931.0,1475.7 931.0,1475.4 931.1,1475.2 931.1,1474.9 931.1,1474.7 931.1,1474.4 931.1,1474.2 931.1,1473.9 931.1,1473.7 931.1,1473.4 931.1,1473.2 931.0,1472.9 931.0,1472.7 931.0,1472.4 930.9,1472.2 930.8,1471.9 930.8,1471.7 930.7,1471.4 930.6,1471.2 930.5,1470.9 930.4,1470.7 930.4,1470.4 930.3,1470.2 930.2,1469.9 930.1,1469.7 930.0,1469.4 929.9,1469.2 929.8,1468.9 929.7,1468.7 929.6,1468.4 929.5,1468.2 929.4,1467.9 929.3,1467.7 929.2,1467.4 929.0,1467.2 928.9,1466.9 928.7,1466.7 928.6,1466.4 928.4,1466.2 928.2,1465.9 928.1,1465.7 927.9,1465.4 927.7,1465.2 927.6,1464.9 927.4,1464.7 927.2,1464.4 927.1,1464.2 926.9,1463.9 926.8,1463.7 926.7,1463.4 926.6,1463.2 926.5,1462.9 926.4,1462.7 926.4,1462.4 926.3,1462.2 926.3,1461.9 926.3,1461.7 926.3,1461.4 926.4,1461.2 926.4,1460.9 926.5,1460.7 926.6,1460.4 926.7,1460.2 926.8,1459.9 926.9,1459.7 927.1,1459.4 927.2,1459.2 927.4,1458.9 927.5,1458.7 927.7,1458.4 927.8,1458.2 928.0,1457.9 928.1,1457.7 928.3,1457.4 928.4,1457.2 928.6,1456.9 928.7,1456.7 928.9,1456.4 929.0,1456.2 929.1,1455.9 929.3,1455.7 929.4,1455.4 929.6,1455.2 929.7,1454.9 929.9,1454.7 930.0,1454.4 930.2,1454.2 930.3,1453.9 930.5,1453.7 930.6,1453.4 930.8,1453.2 930.9,1452.9 931.0,1452.7 931.0,1452.4 931.1,1452.2 931.1,1451.9 931.1,1451.7 931.1,1451.4 931.2,1451.2 931.2,1450.9 931.2,1450.7 931.2,1450.4 931.2,1450.2 931.3,1449.9 931.3,1449.7 931.3,1449.4 931.3,1449.2 931.3,1448.9 931.4,1448.7 931.4,1448.4 931.4,1448.2 931.4,1447.9 931.4,1447.7 931.4,1447.4 931.4,1447.2 931.5,1446.9 931.5,1446.7 931.5,1446.4 931.5,1446.2 931.5,1445.9 931.5,1445.7 931.5,1445.4 931.6,1445.2 931.6,1444.9 931.6,1444.7 931.6,1444.4 931.6,1444.2 931.6,1443.9 931.6,1443.7 931.6,1443.4 931.6,1443.2 931.6,1442.9 931.7,1442.7 931.7,1442.4 931.7,1442.2 931.7,1441.9 931.7,1441.7 931.7,1441.4 931.7,1441.2 931.7,1440.9 931.7,1440.7 931.7,1440.4 931.7,1440.2 931.7,1439.9 931.7,1439.7 931.7,1439.4 931.7,1439.2 931.8,1438.9 931.8,1438.7 931.8,1438.4 931.8,1438.2 931.8,1437.9 931.8,1437.7 931.8,1437.4 931.8,1437.2 931.8,1436.9 931.8,1436.7 931.8,1436.4 931.8,1436.2 931.8,1435.9 931.8,1435.7 931.8,1435.4 931.8,1435.2 931.8,1434.9 931.8,1434.7 931.8,1434.4 931.8,1434.2 931.8,1433.9 931.8,1433.7 931.8,1433.4 931.8,1433.2 931.7,1432.9 931.7,1432.7 931.6,1432.4 931.5,1432.2 931.5,1431.9 931.4,1431.7 931.3,1431.4 931.2,1431.2 931.2,1430.9 931.1,1430.7 931.1,1430.4 931.0,1430.2 931.0,1429.9 930.9,1429.7 930.8,1429.4 930.8,1429.2 930.7,1428.9 930.7,1428.7 930.6,1428.4 930.5,1428.2 930.5,1427.9 930.5,1427.7 930.4,1427.4 930.4,1427.2 930.4,1426.9 930.3,1426.7 930.3,1426.4 930.3,1426.2 930.3,1425.9 930.3,1425.7 930.3,1425.4 930.3,1425.2 930.3,1424.9 930.4,1424.7 930.4,1424.4 930.4,1424.2 930.4,1423.9 930.5,1423.7 930.5,1423.4 930.6,1423.2 930.6,1422.9 930.6,1422.7 930.7,1422.4 930.7,1422.2 930.8,1421.9 930.8,1421.7 930.9,1421.4 930.9,1421.2 930.9,1420.9 931.0,1420.7 931.0,1420.4 931.1,1420.2 931.1,1419.9 931.2,1419.7 931.2,1419.4 931.2,1419.2 931.3,1418.9 931.3,1418.7 931.4,1418.4 931.4,1418.2 931.5,1417.9 931.5,1417.7 931.6,1417.4 931.6,1417.2 931.7,1416.9 931.7,1416.7 931.8,1416.4 931.8,1416.2 931.9,1415.9 931.9,1415.7 932.0,1415.4 932.0,1415.2 932.1,1414.9 932.1,1414.7 932.2,1414.4 932.2,1414.2 932.3,1413.9 932.4,1413.7 932.4,1413.4" fill="none" stroke="#ff6a5c" stroke-width="1.5" stroke-linejoin="round"/>
<rect x="931.0" y="1471.8" width="3.2" height="4.4" fill="#4c1f1b"/>
<rect x="931.0" y="1498.1" width="3.2" height="4.4" fill="#4c1f1b"/>
<rect x="931.0" y="1459.7" width="3.2" height="4.4" fill="#cc5449"/>
<rect x="931.0" y="1484.7" width="3.2" height="4.4" fill="#cc5449"/>
<rect x="931.0" y="1515.2" width="3.2" height="4.4" fill="#cc5449"/>
<rect x="931.0" y="1506.8" width="3.2" height="4.4" fill="#8c3a32"/>
<rect x="931.0" y="1524.8" width="3.2" height="4.4" fill="#993f37"/>
<path d="M932.6,1434.8 L941.2,1443.4 L932.6,1452.0 L924.0,1443.4Z" fill="#000"/>
<path d="M932.6,1529.8 L941.2,1538.4 L932.6,1547.0 L924.0,1538.4Z" fill="#000"/>
<path d="M932.6,1534.9 L941.2,1543.5 L932.6,1552.1 L924.0,1543.5Z" fill="#000"/>
<path d="M932.6,1540.0 L941.2,1548.6 L932.6,1557.2 L924.0,1548.6Z" fill="#000"/>
<path d="M1182.3,1461.9 1183.0,1462.9 1183.7,1463.9 1184.2,1464.9 1184.4,1465.9 1184.7,1466.9 1184.8,1467.9 1184.9,1468.9 1184.8,1469.9 1184.6,1470.9 1184.2,1471.9 1183.8,1472.9 1183.2,1473.9 1182.7,1474.9 1182.1,1475.9 1181.4,1476.9 1180.7,1477.9 1179.9,1478.9 1179.2,1479.9 1178.7,1480.9 1178.1,1481.9 1177.6,1482.9 1177.5,1483.9 1177.6,1484.9 1177.7,1485.9 1178.0,1486.9 1178.3,1487.9 1178.7,1488.9 1179.4,1489.9 1180.8,1490.9 1182.6,1491.9 1184.6,1492.9 1186.4,1493.9 1188.1,1494.9 1189.7,1495.9 1191.4,1496.9 1193.1,1497.9 1194.7,1498.9 1196.2,1499.9 1197.7,1500.9 1199.3,1501.9 1200.9,1502.9 1202.5,1504.0 1203.9,1505.0 1205.2,1506.0 1206.2,1507.0 1207.0,1508.0 1207.7,1509.0 1208.4,1510.0 1208.9,1511.0 1209.5,1512.0 1209.9,1513.0 1210.4,1514.0 1210.8,1515.0 1211.2,1516.0 1211.7,1517.0 1212.0,1518.0 1212.4,1519.0 1212.8,1520.0 1213.1,1521.0 1213.5,1522.0 1213.8,1523.0 1214.1,1524.0 1214.4,1525.0 1214.8,1526.0 1215.1,1527.0 1215.5,1528.0 1216.0,1529.0 1216.3,1530.0 1216.6,1531.0 1216.7,1532.0 1216.6,1533.0 1216.2,1534.0 1215.6,1535.0 1214.9,1536.0 1214.0,1537.0 1213.1,1538.0 1211.9,1539.0 1210.3,1540.0 1208.5,1541.0 1206.6,1542.0 1204.6,1543.0 1202.5,1544.0 1200.3,1545.0 1198.0,1546.0 L1142.4,1546.0 1140.1,1545.0 1137.9,1544.0 1135.8,1543.0 1133.8,1542.0 1131.9,1541.0 1130.1,1540.0 1128.5,1539.0 1127.3,1538.0 1126.4,1537.0 1125.5,1536.0 1124.8,1535.0 1124.2,1534.0 1123.8,1533.0 1123.7,1532.0 1123.8,1531.0 1124.1,1530.0 1124.4,1529.0 1124.9,1528.0 1125.3,1527.0 1125.6,1526.0 1126.0,1525.0 1126.3,1524.0 1126.6,1523.0 1126.9,1522.0 1127.3,1521.0 1127.6,1520.0 1128.0,1519.0 1128.4,1518.0 1128.7,1517.0 1129.2,1516.0 1129.6,1515.0 1130.0,1514.0 1130.5,1513.0 1130.9,1512.0 1131.5,1511.0 1132.0,1510.0 1132.7,1509.0 1133.4,1508.0 1134.2,1507.0 1135.2,1506.0 1136.5,1505.0 1137.9,1504.0 1139.5,1502.9 1141.1,1501.9 1142.7,1500.9 1144.2,1499.9 1145.7,1498.9 1147.3,1497.9 1149.0,1496.9 1150.7,1495.9 1152.3,1494.9 1154.0,1493.9 1155.8,1492.9 1157.8,1491.9 1159.6,1490.9 1161.0,1489.9 1161.7,1488.9 1162.1,1487.9 1162.4,1486.9 1162.7,1485.9 1162.8,1484.9 1162.9,1483.9 1162.8,1482.9 1162.3,1481.9 1161.7,1480.9 1161.2,1479.9 1160.5,1478.9 1159.7,1477.9 1159.0,1476.9 1158.3,1475.9 1157.7,1474.9 1157.2,1473.9 1156.6,1472.9 1156.2,1471.9 1155.8,1470.9 1155.6,1469.9 1155.5,1468.9 1155.6,1467.9 1155.7,1466.9 1156.0,1465.9 1156.2,1464.9 1156.7,1463.9 1157.4,1462.9 1158.1,1461.9Z" fill="#c9a5d2"/>
<path d="M1182.3,1461.9 1183.0,1462.9 1183.7,1463.9 1184.2,1464.9 1184.4,1465.9 1184.7,1466.9 1184.8,1467.9 1184.9,1468.9 1184.8,1469.9 1184.6,1470.9 1184.2,1471.9 1183.8,1472.9 1183.2,1473.9 1182.7,1474.9 1182.1,1475.9 1181.4,1476.9 1180.7,1477.9 1179.9,1478.9 1179.2,1479.9 1178.7,1480.9 1178.1,1481.9 1177.6,1482.9 1177.5,1483.9 1177.6,1484.9 1177.7,1485.9 1178.0,1486.9 1178.3,1487.9 1178.7,1488.9 1179.4,1489.9 1180.8,1490.9 1182.6,1491.9 1184.6,1492.9 1186.4,1493.9 1188.1,1494.9 1189.7,1495.9 1191.4,1496.9 1193.1,1497.9 1194.7,1498.9 1196.2,1499.9 1197.7,1500.9 1199.3,1501.9 1200.9,1502.9 1202.5,1504.0 1203.9,1505.0 1205.2,1506.0 1206.2,1507.0 1207.0,1508.0 1207.7,1509.0 1208.4,1510.0 1208.9,1511.0 1209.5,1512.0 1209.9,1513.0 1210.4,1514.0 1210.8,1515.0 1211.2,1516.0 1211.7,1517.0 1212.0,1518.0 1212.4,1519.0 1212.8,1520.0 1213.1,1521.0 1213.5,1522.0 1213.8,1523.0 1214.1,1524.0 1214.4,1525.0 1214.8,1526.0 1215.1,1527.0 1215.5,1528.0 1216.0,1529.0 1216.3,1530.0 1216.6,1531.0 1216.7,1532.0 1216.6,1533.0 1216.2,1534.0 1215.6,1535.0 1214.9,1536.0 1214.0,1537.0 1213.1,1538.0 1211.9,1539.0 1210.3,1540.0 1208.5,1541.0 1206.6,1542.0 1204.6,1543.0 1202.5,1544.0 1200.3,1545.0 1198.0,1546.0 M1142.4,1546.0 1140.1,1545.0 1137.9,1544.0 1135.8,1543.0 1133.8,1542.0 1131.9,1541.0 1130.1,1540.0 1128.5,1539.0 1127.3,1538.0 1126.4,1537.0 1125.5,1536.0 1124.8,1535.0 1124.2,1534.0 1123.8,1533.0 1123.7,1532.0 1123.8,1531.0 1124.1,1530.0 1124.4,1529.0 1124.9,1528.0 1125.3,1527.0 1125.6,1526.0 1126.0,1525.0 1126.3,1524.0 1126.6,1523.0 1126.9,1522.0 1127.3,1521.0 1127.6,1520.0 1128.0,1519.0 1128.4,1518.0 1128.7,1517.0 1129.2,1516.0 1129.6,1515.0 1130.0,1514.0 1130.5,1513.0 1130.9,1512.0 1131.5,1511.0 1132.0,1510.0 1132.7,1509.0 1133.4,1508.0 1134.2,1507.0 1135.2,1506.0 1136.5,1505.0 1137.9,1504.0 1139.5,1502.9 1141.1,1501.9 1142.7,1500.9 1144.2,1499.9 1145.7,1498.9 1147.3,1497.9 1149.0,1496.9 1150.7,1495.9 1152.3,1494.9 1154.0,1493.9 1155.8,1492.9 1157.8,1491.9 1159.6,1490.9 1161.0,1489.9 1161.7,1488.9 1162.1,1487.9 1162.4,1486.9 1162.7,1485.9 1162.8,1484.9 1162.9,1483.9 1162.8,1482.9 1162.3,1481.9 1161.7,1480.9 1161.2,1479.9 1160.5,1478.9 1159.7,1477.9 1159.0,1476.9 1158.3,1475.9 1157.7,1474.9 1157.2,1473.9 1156.6,1472.9 1156.2,1471.9 1155.8,1470.9 1155.6,1469.9 1155.5,1468.9 1155.6,1467.9 1155.7,1466.9 1156.0,1465.9 1156.2,1464.9 1156.7,1463.9 1157.4,1462.9 1158.1,1461.9" fill="none" stroke="#b88fc6" stroke-width="1.6" stroke-linejoin="round"/>
<line x1="1170.2" y1="1480.2" x2="1170.2" y2="1494.5" stroke="#8f6f9a" stroke-width="3.3" stroke-dasharray="4.4 4.80" stroke-dashoffset="0.00"/>
<path d="M1170.2,1461.5 L1178.8,1470.1 L1170.2,1478.7 L1161.6,1470.1Z" fill="#000"/>
<path d="M1170.2,1497.1 L1178.8,1505.7 L1170.2,1514.3 L1161.6,1505.7Z" fill="#000"/>
<path d="M1170.2,1507.1 L1178.8,1515.7 L1170.2,1524.3 L1161.6,1515.7Z" fill="#000"/>
<path d="M1170.2,1526.3 L1178.8,1534.9 L1170.2,1543.5 L1161.6,1534.9Z" fill="#000"/>
<path d="M1170.2,1532.2 L1178.8,1540.8 L1170.2,1549.4 L1161.6,1540.8Z" fill="#000"/>
<path d="M1411.4,1075.5 1411.5,1076.5 1411.6,1077.5 1411.7,1078.5 1411.7,1079.5 1411.8,1080.5 1411.9,1081.5 1412.0,1082.5 1412.1,1083.5 1412.2,1084.5 1412.2,1085.5 1412.3,1086.5 1412.4,1087.5 1412.5,1088.5 1412.6,1089.5 1412.7,1090.5 1412.7,1091.5 1412.8,1092.5 1412.9,1093.5 1413.0,1094.5 1413.0,1095.5 1413.1,1096.5 1413.2,1097.5 1413.3,1098.5 1413.4,1099.5 1413.4,1100.5 1413.5,1101.5 1413.6,1102.5 1413.7,1103.5 1413.8,1104.5 1413.8,1105.5 1413.9,1106.5 1414.0,1107.5 1414.0,1108.5 1414.1,1109.5 1414.1,1110.5 1414.2,1111.5 1414.2,1112.5 1414.2,1113.5 1414.2,1114.5 1414.2,1115.5 1414.2,1116.5 1414.1,1117.5 1414.1,1118.5 1414.0,1119.5 1413.9,1120.5 1413.9,1121.5 1413.8,1122.5 1413.7,1123.5 1413.6,1124.6 1413.5,1125.6 1413.4,1126.6 1413.3,1127.6 1413.2,1128.6 1413.1,1129.6 1413.0,1130.6 1412.9,1131.6 1412.8,1132.6 1412.7,1133.6 1412.6,1134.6 1412.6,1135.6 1412.5,1136.6 1412.4,1137.6 1412.3,1138.6 1412.2,1139.6 1412.1,1140.6 1412.1,1141.6 1412.0,1142.6 1411.9,1143.6 1411.8,1144.6 1411.7,1145.6 1411.6,1146.6 1411.6,1147.6 1411.5,1148.6 1411.4,1149.6 1411.3,1150.6 1411.3,1151.6 1411.2,1152.6 1411.1,1153.6 1411.1,1154.6 1411.0,1155.6 1410.9,1156.6 1410.9,1157.6 1410.8,1158.6 1410.7,1159.6 1410.7,1160.6 1410.6,1161.6 1410.6,1162.6 1410.5,1163.6 1410.5,1164.6 1410.4,1165.6 1410.4,1166.6 1410.4,1167.6 1410.4,1168.6 1410.4,1169.6 1410.4,1170.6 1410.4,1171.6 1410.4,1172.6 1410.4,1173.6 1410.4,1174.6 1410.4,1175.6 1410.4,1176.6 1410.4,1177.6 1410.4,1178.6 1410.4,1179.6 1410.4,1180.6 1410.4,1181.6 1410.4,1182.6 1410.4,1183.6 1410.4,1184.6 1410.4,1185.6 1410.4,1186.6 1410.4,1187.6 1410.4,1188.6 1410.4,1189.6 1410.4,1190.6 1410.4,1191.6 1410.4,1192.6 1410.4,1193.6 1410.4,1194.6 1410.4,1195.6 1410.4,1196.6 1410.4,1197.6 1410.4,1198.6 1410.4,1199.6 1410.4,1200.6 1410.4,1201.6 1410.4,1202.6 1410.4,1203.6 1410.4,1204.6 1410.4,1205.6 1410.4,1206.6 1410.4,1207.6 1410.4,1208.6 1410.4,1209.6 1410.4,1210.6 1410.4,1211.6 1410.4,1212.6 1410.4,1213.6 1410.4,1214.6 1410.4,1215.6 1410.4,1216.6 1410.4,1217.6 1410.4,1218.6 1410.4,1219.6 1410.4,1220.6 1410.4,1221.7 1410.4,1222.7 1410.4,1223.7 1410.4,1224.7 1410.4,1225.7 1410.4,1226.7 1410.4,1227.7 1410.4,1228.7 1410.4,1229.7 1410.4,1230.7 1410.4,1231.7 1410.4,1232.7 1410.4,1233.7 1410.4,1234.7 1410.4,1235.7 1410.4,1236.7 1410.4,1237.7 1410.4,1238.7 1410.4,1239.7 1410.4,1240.7 1410.4,1241.7 1410.4,1242.7 1410.4,1243.7 1410.4,1244.7 1410.4,1245.7 1410.4,1246.7 1410.4,1247.7 1410.4,1248.7 1410.4,1249.7 1410.4,1250.7 1410.4,1251.7 1410.4,1252.7 1410.4,1253.7 1410.4,1254.7 1410.4,1255.7 1410.4,1256.7 1410.4,1257.7 1410.4,1258.7 1410.4,1259.7 1410.4,1260.7 1410.4,1261.7 1410.4,1262.7 1410.4,1263.7 1410.4,1264.7 1410.4,1265.7 1410.4,1266.7 1410.4,1267.7 1410.4,1268.7 1410.4,1269.7 1410.4,1270.7 1410.4,1271.7 1410.4,1272.7 1410.4,1273.7 1410.4,1274.7 1410.4,1275.7 1410.4,1276.7 1410.4,1277.7 1410.4,1278.7 1410.4,1279.7 1410.4,1280.7 1410.4,1281.7 1410.4,1282.7 1410.4,1283.7 1410.4,1284.7 1410.4,1285.7 1410.4,1286.7 1410.4,1287.7 1410.4,1288.7 1410.4,1289.7 1410.4,1290.7 1410.4,1291.7 1410.4,1292.7 1410.5,1293.7 1410.5,1294.7 1410.6,1295.7 1410.7,1296.7 1410.8,1297.7 1410.9,1298.7 1411.0,1299.7 1411.0,1300.7 1411.1,1301.7 1411.2,1302.7 1411.2,1303.7 1411.3,1304.7 1411.3,1305.7 1411.4,1306.7 1411.4,1307.7 1411.5,1308.7 1411.6,1309.7 1411.6,1310.7 1411.7,1311.7 1411.8,1312.7 1411.8,1313.7 1411.9,1314.7 1412.0,1315.7 1412.2,1316.7 1412.3,1317.7 1412.5,1318.8 1412.8,1319.8 1413.0,1320.8 1413.3,1321.8 1413.6,1322.8 1413.8,1323.8 1414.1,1324.8 1414.4,1325.8 1414.7,1326.8 1415.0,1327.8 1415.3,1328.8 1415.5,1329.8 1415.7,1330.8 1416.0,1331.8 1416.2,1332.8 1416.4,1333.8 1416.6,1334.8 1416.7,1335.8 1416.9,1336.8 1417.1,1337.8 1417.3,1338.8 1417.5,1339.8 1417.7,1340.8 1417.8,1341.8 1418.0,1342.8 1418.2,1343.8 1418.3,1344.8 1418.5,1345.8 1418.7,1346.8 1418.8,1347.8 1419.0,1348.8 1419.2,1349.8 1419.3,1350.8 1419.5,1351.8 1419.7,1352.8 1419.8,1353.8 1420.0,1354.8 1420.2,1355.8 1420.3,1356.8 1420.5,1357.8 1420.7,1358.8 1420.8,1359.8 1421.0,1360.8 1421.2,1361.8 1421.4,1362.8 1421.5,1363.8 1421.7,1364.8 1421.9,1365.8 1422.1,1366.8 1422.2,1367.8 1422.4,1368.8 1422.6,1369.8 1422.8,1370.8 1422.9,1371.8 1423.1,1372.8 1423.3,1373.8 1423.5,1374.8 1423.6,1375.8 1423.8,1376.8 1424.0,1377.8 1424.2,1378.8 1424.3,1379.8 1424.5,1380.8 1424.7,1381.8 1424.9,1382.8 1425.0,1383.8 1425.2,1384.8 1425.4,1385.8 1425.6,1386.8 1425.7,1387.8 1425.9,1388.8 1426.1,1389.8 1426.3,1390.8 1426.4,1391.8 1426.6,1392.8 1426.8,1393.8 1426.9,1394.8 1427.1,1395.8 1427.3,1396.8 1427.5,1397.8 1427.6,1398.8 1427.8,1399.8 1427.9,1400.8 1428.1,1401.8 1428.3,1402.8 1428.4,1403.8 1428.6,1404.8 1428.8,1405.8 1428.9,1406.8 1429.1,1407.8 1429.2,1408.8 1429.4,1409.8 1429.6,1410.8 1429.7,1411.8 1429.9,1412.8 1430.1,1413.8 1430.3,1414.8 1430.4,1415.8 1430.6,1416.9 1430.8,1417.9 1431.0,1418.9 1431.2,1419.9 1431.4,1420.9 1431.6,1421.9 1431.8,1422.9 1432.0,1423.9 1432.2,1424.9 1432.4,1425.9 1432.7,1426.9 1432.9,1427.9 1433.1,1428.9 1433.4,1429.9 1433.6,1430.9 1433.9,1431.9 1434.1,1432.9 1434.4,1433.9 1434.7,1434.9 1435.0,1435.9 1435.3,1436.9 1435.6,1437.9 1435.9,1438.9 1436.2,1439.9 1436.5,1440.9 1436.9,1441.9 1437.2,1442.9 1437.6,1443.9 1438.0,1444.9 1438.4,1445.9 1438.8,1446.9 1439.3,1447.9 1439.7,1448.9 1440.2,1449.9 1440.6,1450.9 1441.1,1451.9 1441.6,1452.9 1442.1,1453.9 1442.6,1454.9 1443.1,1455.9 1443.7,1456.9 1444.3,1457.9 1444.9,1458.9 1445.5,1459.9 1446.2,1460.9 1446.9,1461.9 1447.5,1462.9 1448.2,1463.9 1448.9,1464.9 1449.6,1465.9 1450.3,1466.9 1451.0,1467.9 1451.6,1468.9 1452.3,1469.9 1453.0,1470.9 1453.7,1471.9 1454.4,1472.9 1455.1,1473.9 1455.9,1474.9 1456.6,1475.9 1457.4,1476.9 1458.1,1477.9 1458.8,1478.9 1459.5,1479.9 1460.2,1480.9 1460.8,1481.9 1461.3,1482.9 1461.8,1483.9 1462.3,1484.9 1462.7,1485.9 1463.0,1486.9 1463.4,1487.9 1463.8,1488.9 1464.1,1489.9 1464.4,1490.9 1464.7,1491.9 1465.0,1492.9 1465.2,1493.9 1465.4,1494.9 1465.6,1495.9 1465.7,1496.9 1465.7,1497.9 1465.7,1498.9 1465.6,1499.9 1465.4,1500.9 1465.2,1501.9 1464.9,1502.9 1464.6,1503.9 1464.2,1504.9 1463.8,1505.9 1463.4,1506.9 1463.0,1507.9 1462.6,1508.9 1462.1,1509.9 1461.5,1510.9 1460.9,1511.9 1460.1,1512.9 1459.3,1514.0 1458.5,1515.0 1457.6,1516.0 1456.6,1517.0 1455.6,1518.0 1454.6,1519.0 1453.5,1520.0 1452.5,1521.0 1451.5,1522.0 1450.4,1523.0 1449.4,1524.0 1448.4,1525.0 1447.4,1526.0 1446.4,1527.0 1445.3,1528.0 1444.1,1529.0 1443.0,1530.0 1441.8,1531.0 1440.7,1532.0 1439.5,1533.0 1438.4,1534.0 1437.2,1535.0 1436.1,1536.0 1435.0,1537.0 1433.9,1538.0 1432.8,1539.0 1431.8,1540.0 1430.8,1541.0 1429.8,1542.0 1428.8,1543.0 1427.8,1544.0 1426.9,1545.0 1425.9,1546.0 1425.0,1547.0 1424.1,1548.0 1423.3,1549.0 1422.5,1550.0 1421.8,1551.0 1421.1,1552.0 1420.4,1553.0 1419.8,1554.0 1419.2,1555.0 1418.6,1556.0 1418.1,1557.0 1417.7,1558.0 1417.3,1559.0 1417.0,1560.0 1416.7,1561.0 1416.4,1562.0 L1402.0,1562.0 1401.7,1561.0 1401.4,1560.0 1401.1,1559.0 1400.7,1558.0 1400.3,1557.0 1399.8,1556.0 1399.2,1555.0 1398.6,1554.0 1398.0,1553.0 1397.3,1552.0 1396.6,1551.0 1395.9,1550.0 1395.1,1549.0 1394.3,1548.0 1393.4,1547.0 1392.5,1546.0 1391.5,1545.0 1390.6,1544.0 1389.6,1543.0 1388.6,1542.0 1387.6,1541.0 1386.6,1540.0 1385.6,1539.0 1384.5,1538.0 1383.4,1537.0 1382.3,1536.0 1381.2,1535.0 1380.0,1534.0 1378.9,1533.0 1377.7,1532.0 1376.6,1531.0 1375.4,1530.0 1374.3,1529.0 1373.1,1528.0 1372.0,1527.0 1371.0,1526.0 1370.0,1525.0 1369.0,1524.0 1368.0,1523.0 1366.9,1522.0 1365.9,1521.0 1364.9,1520.0 1363.8,1519.0 1362.8,1518.0 1361.8,1517.0 1360.8,1516.0 1359.9,1515.0 1359.1,1514.0 1358.3,1512.9 1357.5,1511.9 1356.9,1510.9 1356.3,1509.9 1355.8,1508.9 1355.4,1507.9 1355.0,1506.9 1354.6,1505.9 1354.2,1504.9 1353.8,1503.9 1353.5,1502.9 1353.2,1501.9 1353.0,1500.9 1352.8,1499.9 1352.7,1498.9 1352.7,1497.9 1352.7,1496.9 1352.8,1495.9 1353.0,1494.9 1353.2,1493.9 1353.4,1492.9 1353.7,1491.9 1354.0,1490.9 1354.3,1489.9 1354.6,1488.9 1355.0,1487.9 1355.4,1486.9 1355.7,1485.9 1356.1,1484.9 1356.6,1483.9 1357.1,1482.9 1357.6,1481.9 1358.2,1480.9 1358.9,1479.9 1359.6,1478.9 1360.3,1477.9 1361.0,1476.9 1361.8,1475.9 1362.5,1474.9 1363.3,1473.9 1364.0,1472.9 1364.7,1471.9 1365.4,1470.9 1366.1,1469.9 1366.8,1468.9 1367.4,1467.9 1368.1,1466.9 1368.8,1465.9 1369.5,1464.9 1370.2,1463.9 1370.9,1462.9 1371.5,1461.9 1372.2,1460.9 1372.9,1459.9 1373.5,1458.9 1374.1,1457.9 1374.7,1456.9 1375.3,1455.9 1375.8,1454.9 1376.3,1453.9 1376.8,1452.9 1377.3,1451.9 1377.8,1450.9 1378.2,1449.9 1378.7,1448.9 1379.1,1447.9 1379.6,1446.9 1380.0,1445.9 1380.4,1444.9 1380.8,1443.9 1381.2,1442.9 1381.5,1441.9 1381.9,1440.9 1382.2,1439.9 1382.5,1438.9 1382.8,1437.9 1383.1,1436.9 1383.4,1435.9 1383.7,1434.9 1384.0,1433.9 1384.3,1432.9 1384.5,1431.9 1384.8,1430.9 1385.0,1429.9 1385.3,1428.9 1385.5,1427.9 1385.7,1426.9 1386.0,1425.9 1386.2,1424.9 1386.4,1423.9 1386.6,1422.9 1386.8,1421.9 1387.0,1420.9 1387.2,1419.9 1387.4,1418.9 1387.6,1417.9 1387.8,1416.9 1388.0,1415.8 1388.1,1414.8 1388.3,1413.8 1388.5,1412.8 1388.7,1411.8 1388.8,1410.8 1389.0,1409.8 1389.2,1408.8 1389.3,1407.8 1389.5,1406.8 1389.6,1405.8 1389.8,1404.8 1390.0,1403.8 1390.1,1402.8 1390.3,1401.8 1390.5,1400.8 1390.6,1399.8 1390.8,1398.8 1390.9,1397.8 1391.1,1396.8 1391.3,1395.8 1391.5,1394.8 1391.6,1393.8 1391.8,1392.8 1392.0,1391.8 1392.1,1390.8 1392.3,1389.8 1392.5,1388.8 1392.7,1387.8 1392.8,1386.8 1393.0,1385.8 1393.2,1384.8 1393.4,1383.8 1393.5,1382.8 1393.7,1381.8 1393.9,1380.8 1394.1,1379.8 1394.2,1378.8 1394.4,1377.8 1394.6,1376.8 1394.8,1375.8 1394.9,1374.8 1395.1,1373.8 1395.3,1372.8 1395.5,1371.8 1395.6,1370.8 1395.8,1369.8 1396.0,1368.8 1396.2,1367.8 1396.3,1366.8 1396.5,1365.8 1396.7,1364.8 1396.9,1363.8 1397.0,1362.8 1397.2,1361.8 1397.4,1360.8 1397.6,1359.8 1397.7,1358.8 1397.9,1357.8 1398.1,1356.8 1398.2,1355.8 1398.4,1354.8 1398.6,1353.8 1398.7,1352.8 1398.9,1351.8 1399.1,1350.8 1399.2,1349.8 1399.4,1348.8 1399.6,1347.8 1399.7,1346.8 1399.9,1345.8 1400.1,1344.8 1400.2,1343.8 1400.4,1342.8 1400.6,1341.8 1400.7,1340.8 1400.9,1339.8 1401.1,1338.8 1401.3,1337.8 1401.5,1336.8 1401.7,1335.8 1401.8,1334.8 1402.0,1333.8 1402.2,1332.8 1402.4,1331.8 1402.7,1330.8 1402.9,1329.8 1403.1,1328.8 1403.4,1327.8 1403.7,1326.8 1404.0,1325.8 1404.3,1324.8 1404.6,1323.8 1404.8,1322.8 1405.1,1321.8 1405.4,1320.8 1405.6,1319.8 1405.9,1318.8 1406.1,1317.7 1406.2,1316.7 1406.4,1315.7 1406.5,1314.7 1406.6,1313.7 1406.6,1312.7 1406.7,1311.7 1406.8,1310.7 1406.8,1309.7 1406.9,1308.7 1407.0,1307.7 1407.0,1306.7 1407.1,1305.7 1407.1,1304.7 1407.2,1303.7 1407.2,1302.7 1407.3,1301.7 1407.4,1300.7 1407.4,1299.7 1407.5,1298.7 1407.6,1297.7 1407.7,1296.7 1407.8,1295.7 1407.9,1294.7 1407.9,1293.7 1408.0,1292.7 1408.0,1291.7 1408.0,1290.7 1408.0,1289.7 1408.0,1288.7 1408.0,1287.7 1408.0,1286.7 1408.0,1285.7 1408.0,1284.7 1408.0,1283.7 1408.0,1282.7 1408.0,1281.7 1408.0,1280.7 1408.0,1279.7 1408.0,1278.7 1408.0,1277.7 1408.0,1276.7 1408.0,1275.7 1408.0,1274.7 1408.0,1273.7 1408.0,1272.7 1408.0,1271.7 1408.0,1270.7 1408.0,1269.7 1408.0,1268.7 1408.0,1267.7 1408.0,1266.7 1408.0,1265.7 1408.0,1264.7 1408.0,1263.7 1408.0,1262.7 1408.0,1261.7 1408.0,1260.7 1408.0,1259.7 1408.0,1258.7 1408.0,1257.7 1408.0,1256.7 1408.0,1255.7 1408.0,1254.7 1408.0,1253.7 1408.0,1252.7 1408.0,1251.7 1408.0,1250.7 1408.0,1249.7 1408.0,1248.7 1408.0,1247.7 1408.0,1246.7 1408.0,1245.7 1408.0,1244.7 1408.0,1243.7 1408.0,1242.7 1408.0,1241.7 1408.0,1240.7 1408.0,1239.7 1408.0,1238.7 1408.0,1237.7 1408.0,1236.7 1408.0,1235.7 1408.0,1234.7 1408.0,1233.7 1408.0,1232.7 1408.0,1231.7 1408.0,1230.7 1408.0,1229.7 1408.0,1228.7 1408.0,1227.7 1408.0,1226.7 1408.0,1225.7 1408.0,1224.7 1408.0,1223.7 1408.0,1222.7 1408.0,1221.7 1408.0,1220.6 1408.0,1219.6 1408.0,1218.6 1408.0,1217.6 1408.0,1216.6 1408.0,1215.6 1408.0,1214.6 1408.0,1213.6 1408.0,1212.6 1408.0,1211.6 1408.0,1210.6 1408.0,1209.6 1408.0,1208.6 1408.0,1207.6 1408.0,1206.6 1408.0,1205.6 1408.0,1204.6 1408.0,1203.6 1408.0,1202.6 1408.0,1201.6 1408.0,1200.6 1408.0,1199.6 1408.0,1198.6 1408.0,1197.6 1408.0,1196.6 1408.0,1195.6 1408.0,1194.6 1408.0,1193.6 1408.0,1192.6 1408.0,1191.6 1408.0,1190.6 1408.0,1189.6 1408.0,1188.6 1408.0,1187.6 1408.0,1186.6 1408.0,1185.6 1408.0,1184.6 1408.0,1183.6 1408.0,1182.6 1408.0,1181.6 1408.0,1180.6 1408.0,1179.6 1408.0,1178.6 1408.0,1177.6 1408.0,1176.6 1408.0,1175.6 1408.0,1174.6 1408.0,1173.6 1408.0,1172.6 1408.0,1171.6 1408.0,1170.6 1408.0,1169.6 1408.0,1168.6 1408.0,1167.6 1408.0,1166.6 1408.0,1165.6 1407.9,1164.6 1407.9,1163.6 1407.8,1162.6 1407.8,1161.6 1407.7,1160.6 1407.7,1159.6 1407.6,1158.6 1407.5,1157.6 1407.5,1156.6 1407.4,1155.6 1407.3,1154.6 1407.3,1153.6 1407.2,1152.6 1407.1,1151.6 1407.1,1150.6 1407.0,1149.6 1406.9,1148.6 1406.8,1147.6 1406.8,1146.6 1406.7,1145.6 1406.6,1144.6 1406.5,1143.6 1406.4,1142.6 1406.3,1141.6 1406.3,1140.6 1406.2,1139.6 1406.1,1138.6 1406.0,1137.6 1405.9,1136.6 1405.8,1135.6 1405.8,1134.6 1405.7,1133.6 1405.6,1132.6 1405.5,1131.6 1405.4,1130.6 1405.3,1129.6 1405.2,1128.6 1405.1,1127.6 1405.0,1126.6 1404.9,1125.6 1404.8,1124.6 1404.7,1123.5 1404.6,1122.5 1404.5,1121.5 1404.5,1120.5 1404.4,1119.5 1404.3,1118.5 1404.3,1117.5 1404.2,1116.5 1404.2,1115.5 1404.2,1114.5 1404.2,1113.5 1404.2,1112.5 1404.2,1111.5 1404.3,1110.5 1404.3,1109.5 1404.4,1108.5 1404.4,1107.5 1404.5,1106.5 1404.6,1105.5 1404.6,1104.5 1404.7,1103.5 1404.8,1102.5 1404.9,1101.5 1405.0,1100.5 1405.0,1099.5 1405.1,1098.5 1405.2,1097.5 1405.3,1096.5 1405.4,1095.5 1405.4,1094.5 1405.5,1093.5 1405.6,1092.5 1405.7,1091.5 1405.7,1090.5 1405.8,1089.5 1405.9,1088.5 1406.0,1087.5 1406.1,1086.5 1406.2,1085.5 1406.2,1084.5 1406.3,1083.5 1406.4,1082.5 1406.5,1081.5 1406.6,1080.5 1406.7,1079.5 1406.7,1078.5 1406.8,1077.5 1406.9,1076.5 1407.0,1075.5Z" fill="#c69792"/>
<path d="M1411.4,1075.5 1411.5,1076.5 1411.6,1077.5 1411.7,1078.5 1411.7,1079.5 1411.8,1080.5 1411.9,1081.5 1412.0,1082.5 1412.1,1083.5 1412.2,1084.5 1412.2,1085.5 1412.3,1086.5 1412.4,1087.5 1412.5,1088.5 1412.6,1089.5 1412.7,1090.5 1412.7,1091.5 1412.8,1092.5 1412.9,1093.5 1413.0,1094.5 1413.0,1095.5 1413.1,1096.5 1413.2,1097.5 1413.3,1098.5 1413.4,1099.5 1413.4,1100.5 1413.5,1101.5 1413.6,1102.5 1413.7,1103.5 1413.8,1104.5 1413.8,1105.5 1413.9,1106.5 1414.0,1107.5 1414.0,1108.5 1414.1,1109.5 1414.1,1110.5 1414.2,1111.5 1414.2,1112.5 1414.2,1113.5 1414.2,1114.5 1414.2,1115.5 1414.2,1116.5 1414.1,1117.5 1414.1,1118.5 1414.0,1119.5 1413.9,1120.5 1413.9,1121.5 1413.8,1122.5 1413.7,1123.5 1413.6,1124.6 1413.5,1125.6 1413.4,1126.6 1413.3,1127.6 1413.2,1128.6 1413.1,1129.6 1413.0,1130.6 1412.9,1131.6 1412.8,1132.6 1412.7,1133.6 1412.6,1134.6 1412.6,1135.6 1412.5,1136.6 1412.4,1137.6 1412.3,1138.6 1412.2,1139.6 1412.1,1140.6 1412.1,1141.6 1412.0,1142.6 1411.9,1143.6 1411.8,1144.6 1411.7,1145.6 1411.6,1146.6 1411.6,1147.6 1411.5,1148.6 1411.4,1149.6 1411.3,1150.6 1411.3,1151.6 1411.2,1152.6 1411.1,1153.6 1411.1,1154.6 1411.0,1155.6 1410.9,1156.6 1410.9,1157.6 1410.8,1158.6 1410.7,1159.6 1410.7,1160.6 1410.6,1161.6 1410.6,1162.6 1410.5,1163.6 1410.5,1164.6 1410.4,1165.6 1410.4,1166.6 1410.4,1167.6 1410.4,1168.6 1410.4,1169.6 1410.4,1170.6 1410.4,1171.6 1410.4,1172.6 1410.4,1173.6 1410.4,1174.6 1410.4,1175.6 1410.4,1176.6 1410.4,1177.6 1410.4,1178.6 1410.4,1179.6 1410.4,1180.6 1410.4,1181.6 1410.4,1182.6 1410.4,1183.6 1410.4,1184.6 1410.4,1185.6 1410.4,1186.6 1410.4,1187.6 1410.4,1188.6 1410.4,1189.6 1410.4,1190.6 1410.4,1191.6 1410.4,1192.6 1410.4,1193.6 1410.4,1194.6 1410.4,1195.6 1410.4,1196.6 1410.4,1197.6 1410.4,1198.6 1410.4,1199.6 1410.4,1200.6 1410.4,1201.6 1410.4,1202.6 1410.4,1203.6 1410.4,1204.6 1410.4,1205.6 1410.4,1206.6 1410.4,1207.6 1410.4,1208.6 1410.4,1209.6 1410.4,1210.6 1410.4,1211.6 1410.4,1212.6 1410.4,1213.6 1410.4,1214.6 1410.4,1215.6 1410.4,1216.6 1410.4,1217.6 1410.4,1218.6 1410.4,1219.6 1410.4,1220.6 1410.4,1221.7 1410.4,1222.7 1410.4,1223.7 1410.4,1224.7 1410.4,1225.7 1410.4,1226.7 1410.4,1227.7 1410.4,1228.7 1410.4,1229.7 1410.4,1230.7 1410.4,1231.7 1410.4,1232.7 1410.4,1233.7 1410.4,1234.7 1410.4,1235.7 1410.4,1236.7 1410.4,1237.7 1410.4,1238.7 1410.4,1239.7 1410.4,1240.7 1410.4,1241.7 1410.4,1242.7 1410.4,1243.7 1410.4,1244.7 1410.4,1245.7 1410.4,1246.7 1410.4,1247.7 1410.4,1248.7 1410.4,1249.7 1410.4,1250.7 1410.4,1251.7 1410.4,1252.7 1410.4,1253.7 1410.4,1254.7 1410.4,1255.7 1410.4,1256.7 1410.4,1257.7 1410.4,1258.7 1410.4,1259.7 1410.4,1260.7 1410.4,1261.7 1410.4,1262.7 1410.4,1263.7 1410.4,1264.7 1410.4,1265.7 1410.4,1266.7 1410.4,1267.7 1410.4,1268.7 1410.4,1269.7 1410.4,1270.7 1410.4,1271.7 1410.4,1272.7 1410.4,1273.7 1410.4,1274.7 1410.4,1275.7 1410.4,1276.7 1410.4,1277.7 1410.4,1278.7 1410.4,1279.7 1410.4,1280.7 1410.4,1281.7 1410.4,1282.7 1410.4,1283.7 1410.4,1284.7 1410.4,1285.7 1410.4,1286.7 1410.4,1287.7 1410.4,1288.7 1410.4,1289.7 1410.4,1290.7 1410.4,1291.7 1410.4,1292.7 1410.5,1293.7 1410.5,1294.7 1410.6,1295.7 1410.7,1296.7 1410.8,1297.7 1410.9,1298.7 1411.0,1299.7 1411.0,1300.7 1411.1,1301.7 1411.2,1302.7 1411.2,1303.7 1411.3,1304.7 1411.3,1305.7 1411.4,1306.7 1411.4,1307.7 1411.5,1308.7 1411.6,1309.7 1411.6,1310.7 1411.7,1311.7 1411.8,1312.7 1411.8,1313.7 1411.9,1314.7 1412.0,1315.7 1412.2,1316.7 1412.3,1317.7 1412.5,1318.8 1412.8,1319.8 1413.0,1320.8 1413.3,1321.8 1413.6,1322.8 1413.8,1323.8 1414.1,1324.8 1414.4,1325.8 1414.7,1326.8 1415.0,1327.8 1415.3,1328.8 1415.5,1329.8 1415.7,1330.8 1416.0,1331.8 1416.2,1332.8 1416.4,1333.8 1416.6,1334.8 1416.7,1335.8 1416.9,1336.8 1417.1,1337.8 1417.3,1338.8 1417.5,1339.8 1417.7,1340.8 1417.8,1341.8 1418.0,1342.8 1418.2,1343.8 1418.3,1344.8 1418.5,1345.8 1418.7,1346.8 1418.8,1347.8 1419.0,1348.8 1419.2,1349.8 1419.3,1350.8 1419.5,1351.8 1419.7,1352.8 1419.8,1353.8 1420.0,1354.8 1420.2,1355.8 1420.3,1356.8 1420.5,1357.8 1420.7,1358.8 1420.8,1359.8 1421.0,1360.8 1421.2,1361.8 1421.4,1362.8 1421.5,1363.8 1421.7,1364.8 1421.9,1365.8 1422.1,1366.8 1422.2,1367.8 1422.4,1368.8 1422.6,1369.8 1422.8,1370.8 1422.9,1371.8 1423.1,1372.8 1423.3,1373.8 1423.5,1374.8 1423.6,1375.8 1423.8,1376.8 1424.0,1377.8 1424.2,1378.8 1424.3,1379.8 1424.5,1380.8 1424.7,1381.8 1424.9,1382.8 1425.0,1383.8 1425.2,1384.8 1425.4,1385.8 1425.6,1386.8 1425.7,1387.8 1425.9,1388.8 1426.1,1389.8 1426.3,1390.8 1426.4,1391.8 1426.6,1392.8 1426.8,1393.8 1426.9,1394.8 1427.1,1395.8 1427.3,1396.8 1427.5,1397.8 1427.6,1398.8 1427.8,1399.8 1427.9,1400.8 1428.1,1401.8 1428.3,1402.8 1428.4,1403.8 1428.6,1404.8 1428.8,1405.8 1428.9,1406.8 1429.1,1407.8 1429.2,1408.8 1429.4,1409.8 1429.6,1410.8 1429.7,1411.8 1429.9,1412.8 1430.1,1413.8 1430.3,1414.8 1430.4,1415.8 1430.6,1416.9 1430.8,1417.9 1431.0,1418.9 1431.2,1419.9 1431.4,1420.9 1431.6,1421.9 1431.8,1422.9 1432.0,1423.9 1432.2,1424.9 1432.4,1425.9 1432.7,1426.9 1432.9,1427.9 1433.1,1428.9 1433.4,1429.9 1433.6,1430.9 1433.9,1431.9 1434.1,1432.9 1434.4,1433.9 1434.7,1434.9 1435.0,1435.9 1435.3,1436.9 1435.6,1437.9 1435.9,1438.9 1436.2,1439.9 1436.5,1440.9 1436.9,1441.9 1437.2,1442.9 1437.6,1443.9 1438.0,1444.9 1438.4,1445.9 1438.8,1446.9 1439.3,1447.9 1439.7,1448.9 1440.2,1449.9 1440.6,1450.9 1441.1,1451.9 1441.6,1452.9 1442.1,1453.9 1442.6,1454.9 1443.1,1455.9 1443.7,1456.9 1444.3,1457.9 1444.9,1458.9 1445.5,1459.9 1446.2,1460.9 1446.9,1461.9 1447.5,1462.9 1448.2,1463.9 1448.9,1464.9 1449.6,1465.9 1450.3,1466.9 1451.0,1467.9 1451.6,1468.9 1452.3,1469.9 1453.0,1470.9 1453.7,1471.9 1454.4,1472.9 1455.1,1473.9 1455.9,1474.9 1456.6,1475.9 1457.4,1476.9 1458.1,1477.9 1458.8,1478.9 1459.5,1479.9 1460.2,1480.9 1460.8,1481.9 1461.3,1482.9 1461.8,1483.9 1462.3,1484.9 1462.7,1485.9 1463.0,1486.9 1463.4,1487.9 1463.8,1488.9 1464.1,1489.9 1464.4,1490.9 1464.7,1491.9 1465.0,1492.9 1465.2,1493.9 1465.4,1494.9 1465.6,1495.9 1465.7,1496.9 1465.7,1497.9 1465.7,1498.9 1465.6,1499.9 1465.4,1500.9 1465.2,1501.9 1464.9,1502.9 1464.6,1503.9 1464.2,1504.9 1463.8,1505.9 1463.4,1506.9 1463.0,1507.9 1462.6,1508.9 1462.1,1509.9 1461.5,1510.9 1460.9,1511.9 1460.1,1512.9 1459.3,1514.0 1458.5,1515.0 1457.6,1516.0 1456.6,1517.0 1455.6,1518.0 1454.6,1519.0 1453.5,1520.0 1452.5,1521.0 1451.5,1522.0 1450.4,1523.0 1449.4,1524.0 1448.4,1525.0 1447.4,1526.0 1446.4,1527.0 1445.3,1528.0 1444.1,1529.0 1443.0,1530.0 1441.8,1531.0 1440.7,1532.0 1439.5,1533.0 1438.4,1534.0 1437.2,1535.0 1436.1,1536.0 1435.0,1537.0 1433.9,1538.0 1432.8,1539.0 1431.8,1540.0 1430.8,1541.0 1429.8,1542.0 1428.8,1543.0 1427.8,1544.0 1426.9,1545.0 1425.9,1546.0 1425.0,1547.0 1424.1,1548.0 1423.3,1549.0 1422.5,1550.0 1421.8,1551.0 1421.1,1552.0 1420.4,1553.0 1419.8,1554.0 1419.2,1555.0 1418.6,1556.0 1418.1,1557.0 1417.7,1558.0 1417.3,1559.0 1417.0,1560.0 1416.7,1561.0 1416.4,1562.0 M1402.0,1562.0 1401.7,1561.0 1401.4,1560.0 1401.1,1559.0 1400.7,1558.0 1400.3,1557.0 1399.8,1556.0 1399.2,1555.0 1398.6,1554.0 1398.0,1553.0 1397.3,1552.0 1396.6,1551.0 1395.9,1550.0 1395.1,1549.0 1394.3,1548.0 1393.4,1547.0 1392.5,1546.0 1391.5,1545.0 1390.6,1544.0 1389.6,1543.0 1388.6,1542.0 1387.6,1541.0 1386.6,1540.0 1385.6,1539.0 1384.5,1538.0 1383.4,1537.0 1382.3,1536.0 1381.2,1535.0 1380.0,1534.0 1378.9,1533.0 1377.7,1532.0 1376.6,1531.0 1375.4,1530.0 1374.3,1529.0 1373.1,1528.0 1372.0,1527.0 1371.0,1526.0 1370.0,1525.0 1369.0,1524.0 1368.0,1523.0 1366.9,1522.0 1365.9,1521.0 1364.9,1520.0 1363.8,1519.0 1362.8,1518.0 1361.8,1517.0 1360.8,1516.0 1359.9,1515.0 1359.1,1514.0 1358.3,1512.9 1357.5,1511.9 1356.9,1510.9 1356.3,1509.9 1355.8,1508.9 1355.4,1507.9 1355.0,1506.9 1354.6,1505.9 1354.2,1504.9 1353.8,1503.9 1353.5,1502.9 1353.2,1501.9 1353.0,1500.9 1352.8,1499.9 1352.7,1498.9 1352.7,1497.9 1352.7,1496.9 1352.8,1495.9 1353.0,1494.9 1353.2,1493.9 1353.4,1492.9 1353.7,1491.9 1354.0,1490.9 1354.3,1489.9 1354.6,1488.9 1355.0,1487.9 1355.4,1486.9 1355.7,1485.9 1356.1,1484.9 1356.6,1483.9 1357.1,1482.9 1357.6,1481.9 1358.2,1480.9 1358.9,1479.9 1359.6,1478.9 1360.3,1477.9 1361.0,1476.9 1361.8,1475.9 1362.5,1474.9 1363.3,1473.9 1364.0,1472.9 1364.7,1471.9 1365.4,1470.9 1366.1,1469.9 1366.8,1468.9 1367.4,1467.9 1368.1,1466.9 1368.8,1465.9 1369.5,1464.9 1370.2,1463.9 1370.9,1462.9 1371.5,1461.9 1372.2,1460.9 1372.9,1459.9 1373.5,1458.9 1374.1,1457.9 1374.7,1456.9 1375.3,1455.9 1375.8,1454.9 1376.3,1453.9 1376.8,1452.9 1377.3,1451.9 1377.8,1450.9 1378.2,1449.9 1378.7,1448.9 1379.1,1447.9 1379.6,1446.9 1380.0,1445.9 1380.4,1444.9 1380.8,1443.9 1381.2,1442.9 1381.5,1441.9 1381.9,1440.9 1382.2,1439.9 1382.5,1438.9 1382.8,1437.9 1383.1,1436.9 1383.4,1435.9 1383.7,1434.9 1384.0,1433.9 1384.3,1432.9 1384.5,1431.9 1384.8,1430.9 1385.0,1429.9 1385.3,1428.9 1385.5,1427.9 1385.7,1426.9 1386.0,1425.9 1386.2,1424.9 1386.4,1423.9 1386.6,1422.9 1386.8,1421.9 1387.0,1420.9 1387.2,1419.9 1387.4,1418.9 1387.6,1417.9 1387.8,1416.9 1388.0,1415.8 1388.1,1414.8 1388.3,1413.8 1388.5,1412.8 1388.7,1411.8 1388.8,1410.8 1389.0,1409.8 1389.2,1408.8 1389.3,1407.8 1389.5,1406.8 1389.6,1405.8 1389.8,1404.8 1390.0,1403.8 1390.1,1402.8 1390.3,1401.8 1390.5,1400.8 1390.6,1399.8 1390.8,1398.8 1390.9,1397.8 1391.1,1396.8 1391.3,1395.8 1391.5,1394.8 1391.6,1393.8 1391.8,1392.8 1392.0,1391.8 1392.1,1390.8 1392.3,1389.8 1392.5,1388.8 1392.7,1387.8 1392.8,1386.8 1393.0,1385.8 1393.2,1384.8 1393.4,1383.8 1393.5,1382.8 1393.7,1381.8 1393.9,1380.8 1394.1,1379.8 1394.2,1378.8 1394.4,1377.8 1394.6,1376.8 1394.8,1375.8 1394.9,1374.8 1395.1,1373.8 1395.3,1372.8 1395.5,1371.8 1395.6,1370.8 1395.8,1369.8 1396.0,1368.8 1396.2,1367.8 1396.3,1366.8 1396.5,1365.8 1396.7,1364.8 1396.9,1363.8 1397.0,1362.8 1397.2,1361.8 1397.4,1360.8 1397.6,1359.8 1397.7,1358.8 1397.9,1357.8 1398.1,1356.8 1398.2,1355.8 1398.4,1354.8 1398.6,1353.8 1398.7,1352.8 1398.9,1351.8 1399.1,1350.8 1399.2,1349.8 1399.4,1348.8 1399.6,1347.8 1399.7,1346.8 1399.9,1345.8 1400.1,1344.8 1400.2,1343.8 1400.4,1342.8 1400.6,1341.8 1400.7,1340.8 1400.9,1339.8 1401.1,1338.8 1401.3,1337.8 1401.5,1336.8 1401.7,1335.8 1401.8,1334.8 1402.0,1333.8 1402.2,1332.8 1402.4,1331.8 1402.7,1330.8 1402.9,1329.8 1403.1,1328.8 1403.4,1327.8 1403.7,1326.8 1404.0,1325.8 1404.3,1324.8 1404.6,1323.8 1404.8,1322.8 1405.1,1321.8 1405.4,1320.8 1405.6,1319.8 1405.9,1318.8 1406.1,1317.7 1406.2,1316.7 1406.4,1315.7 1406.5,1314.7 1406.6,1313.7 1406.6,1312.7 1406.7,1311.7 1406.8,1310.7 1406.8,1309.7 1406.9,1308.7 1407.0,1307.7 1407.0,1306.7 1407.1,1305.7 1407.1,1304.7 1407.2,1303.7 1407.2,1302.7 1407.3,1301.7 1407.4,1300.7 1407.4,1299.7 1407.5,1298.7 1407.6,1297.7 1407.7,1296.7 1407.8,1295.7 1407.9,1294.7 1407.9,1293.7 1408.0,1292.7 1408.0,1291.7 1408.0,1290.7 1408.0,1289.7 1408.0,1288.7 1408.0,1287.7 1408.0,1286.7 1408.0,1285.7 1408.0,1284.7 1408.0,1283.7 1408.0,1282.7 1408.0,1281.7 1408.0,1280.7 1408.0,1279.7 1408.0,1278.7 1408.0,1277.7 1408.0,1276.7 1408.0,1275.7 1408.0,1274.7 1408.0,1273.7 1408.0,1272.7 1408.0,1271.7 1408.0,1270.7 1408.0,1269.7 1408.0,1268.7 1408.0,1267.7 1408.0,1266.7 1408.0,1265.7 1408.0,1264.7 1408.0,1263.7 1408.0,1262.7 1408.0,1261.7 1408.0,1260.7 1408.0,1259.7 1408.0,1258.7 1408.0,1257.7 1408.0,1256.7 1408.0,1255.7 1408.0,1254.7 1408.0,1253.7 1408.0,1252.7 1408.0,1251.7 1408.0,1250.7 1408.0,1249.7 1408.0,1248.7 1408.0,1247.7 1408.0,1246.7 1408.0,1245.7 1408.0,1244.7 1408.0,1243.7 1408.0,1242.7 1408.0,1241.7 1408.0,1240.7 1408.0,1239.7 1408.0,1238.7 1408.0,1237.7 1408.0,1236.7 1408.0,1235.7 1408.0,1234.7 1408.0,1233.7 1408.0,1232.7 1408.0,1231.7 1408.0,1230.7 1408.0,1229.7 1408.0,1228.7 1408.0,1227.7 1408.0,1226.7 1408.0,1225.7 1408.0,1224.7 1408.0,1223.7 1408.0,1222.7 1408.0,1221.7 1408.0,1220.6 1408.0,1219.6 1408.0,1218.6 1408.0,1217.6 1408.0,1216.6 1408.0,1215.6 1408.0,1214.6 1408.0,1213.6 1408.0,1212.6 1408.0,1211.6 1408.0,1210.6 1408.0,1209.6 1408.0,1208.6 1408.0,1207.6 1408.0,1206.6 1408.0,1205.6 1408.0,1204.6 1408.0,1203.6 1408.0,1202.6 1408.0,1201.6 1408.0,1200.6 1408.0,1199.6 1408.0,1198.6 1408.0,1197.6 1408.0,1196.6 1408.0,1195.6 1408.0,1194.6 1408.0,1193.6 1408.0,1192.6 1408.0,1191.6 1408.0,1190.6 1408.0,1189.6 1408.0,1188.6 1408.0,1187.6 1408.0,1186.6 1408.0,1185.6 1408.0,1184.6 1408.0,1183.6 1408.0,1182.6 1408.0,1181.6 1408.0,1180.6 1408.0,1179.6 1408.0,1178.6 1408.0,1177.6 1408.0,1176.6 1408.0,1175.6 1408.0,1174.6 1408.0,1173.6 1408.0,1172.6 1408.0,1171.6 1408.0,1170.6 1408.0,1169.6 1408.0,1168.6 1408.0,1167.6 1408.0,1166.6 1408.0,1165.6 1407.9,1164.6 1407.9,1163.6 1407.8,1162.6 1407.8,1161.6 1407.7,1160.6 1407.7,1159.6 1407.6,1158.6 1407.5,1157.6 1407.5,1156.6 1407.4,1155.6 1407.3,1154.6 1407.3,1153.6 1407.2,1152.6 1407.1,1151.6 1407.1,1150.6 1407.0,1149.6 1406.9,1148.6 1406.8,1147.6 1406.8,1146.6 1406.7,1145.6 1406.6,1144.6 1406.5,1143.6 1406.4,1142.6 1406.3,1141.6 1406.3,1140.6 1406.2,1139.6 1406.1,1138.6 1406.0,1137.6 1405.9,1136.6 1405.8,1135.6 1405.8,1134.6 1405.7,1133.6 1405.6,1132.6 1405.5,1131.6 1405.4,1130.6 1405.3,1129.6 1405.2,1128.6 1405.1,1127.6 1405.0,1126.6 1404.9,1125.6 1404.8,1124.6 1404.7,1123.5 1404.6,1122.5 1404.5,1121.5 1404.5,1120.5 1404.4,1119.5 1404.3,1118.5 1404.3,1117.5 1404.2,1116.5 1404.2,1115.5 1404.2,1114.5 1404.2,1113.5 1404.2,1112.5 1404.2,1111.5 1404.3,1110.5 1404.3,1109.5 1404.4,1108.5 1404.4,1107.5 1404.5,1106.5 1404.6,1105.5 1404.6,1104.5 1404.7,1103.5 1404.8,1102.5 1404.9,1101.5 1405.0,1100.5 1405.0,1099.5 1405.1,1098.5 1405.2,1097.5 1405.3,1096.5 1405.4,1095.5 1405.4,1094.5 1405.5,1093.5 1405.6,1092.5 1405.7,1091.5 1405.7,1090.5 1405.8,1089.5 1405.9,1088.5 1406.0,1087.5 1406.1,1086.5 1406.2,1085.5 1406.2,1084.5 1406.3,1083.5 1406.4,1082.5 1406.5,1081.5 1406.6,1080.5 1406.7,1079.5 1406.7,1078.5 1406.8,1077.5 1406.9,1076.5 1407.0,1075.5" fill="none" stroke="#ba7e7b" stroke-width="1.6" stroke-linejoin="round"/>
<line x1="1409.2" y1="1122" x2="1409.2" y2="1160" stroke="#7e5553" stroke-width="3.3" stroke-dasharray="4.4 4.50" stroke-dashoffset="0.00"/>
<line x1="1409.2" y1="1160" x2="1409.2" y2="1312" stroke="#533837" stroke-width="3.3" stroke-dasharray="4.4 4.50" stroke-dashoffset="2.40"/>
<line x1="1409.2" y1="1312" x2="1409.2" y2="1520" stroke="#7e5553" stroke-width="3.3" stroke-dasharray="4.4 4.50" stroke-dashoffset="3.10"/>
<path d="M1409.2,1105.6 L1417.8,1114.2 L1409.2,1122.8 L1400.6,1114.2Z" fill="#000"/>
<path d="M1409.2,1414.4 L1417.8,1423.0 L1409.2,1431.6 L1400.6,1423.0Z" fill="#000"/>
<path d="M1409.2,1486.4 L1417.8,1495.0 L1409.2,1503.6 L1400.6,1495.0Z" fill="#000"/>
<path d="M1409.2,1497.2 L1417.8,1505.8 L1409.2,1514.4 L1400.6,1505.8Z" fill="#000"/>
<path d="M1409.2,1514.2 L1417.8,1522.8 L1409.2,1531.4 L1400.6,1522.8Z" fill="#000"/>
</svg>
</body></html>
